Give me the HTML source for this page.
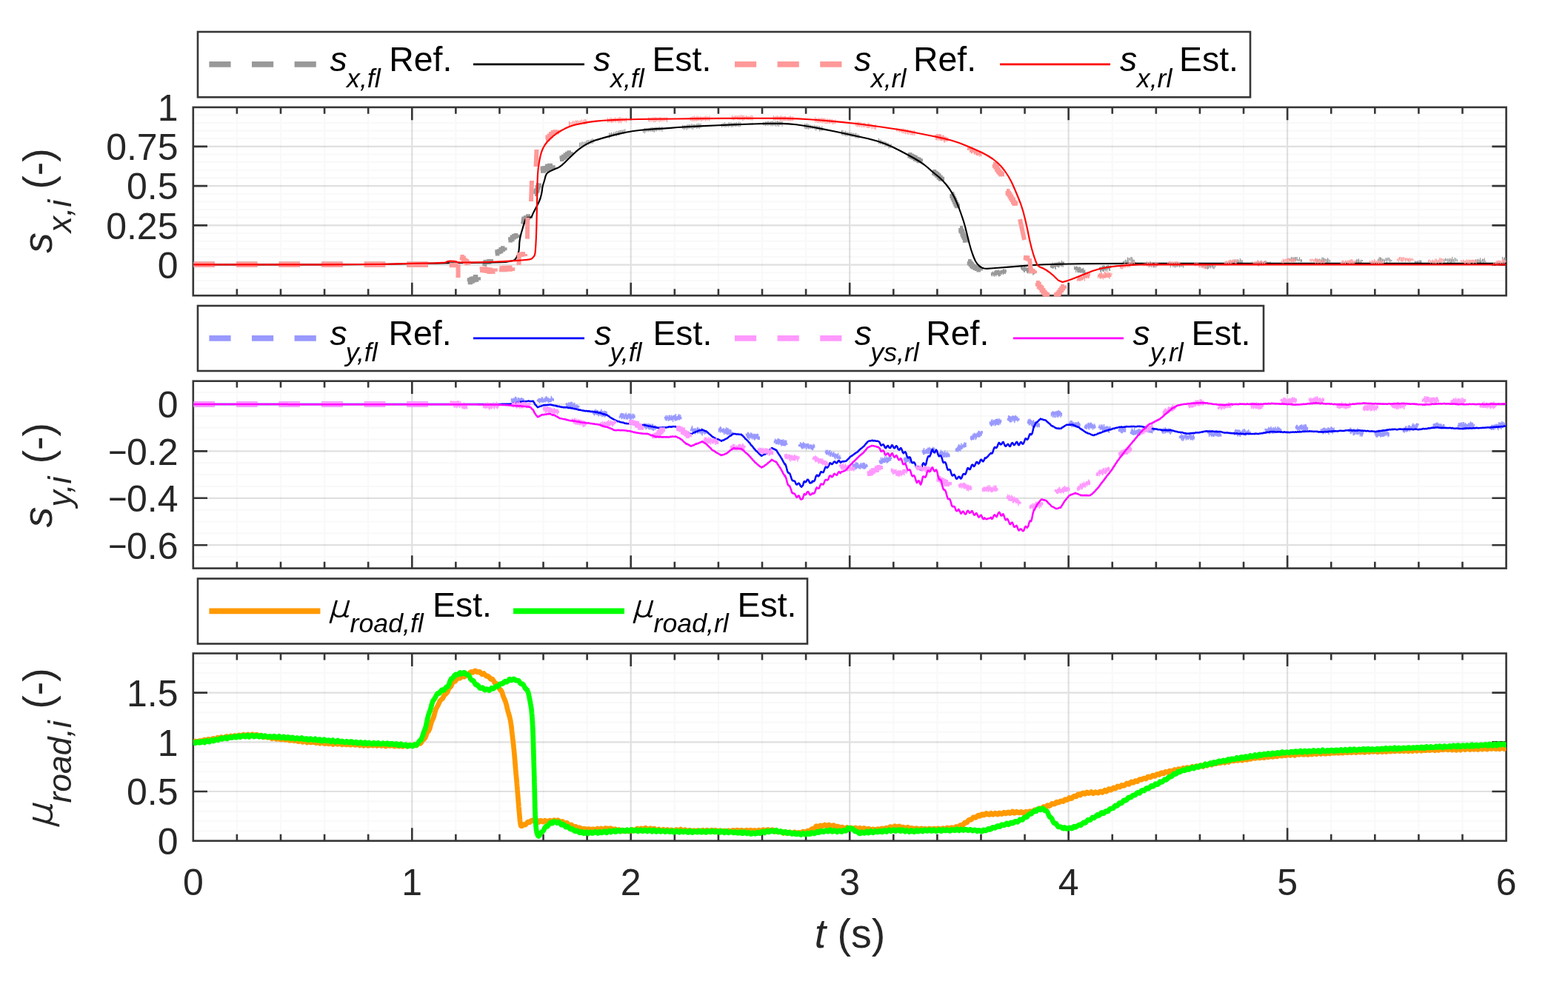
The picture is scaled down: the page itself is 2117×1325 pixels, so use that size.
<!DOCTYPE html>
<html lang="en"><head><meta charset="utf-8"><title>Slip and road friction estimation</title>
<style>html,body{margin:0;padding:0;background:#fff}body{width:2117px;height:1325px;overflow:hidden}svg{display:block}text{font-family:'Liberation Sans', sans-serif}</style>
</head><body>
<svg width="2117" height="1325" viewBox="0 0 2117 1325" role="img" aria-label="Slip and road friction estimation plots">
<rect width="2117" height="1325" fill="#fff"/>
<defs>
<clipPath id="c0"><rect x="260.8" y="144.9" width="1772.8" height="255.8"/></clipPath>
<clipPath id="c1"><rect x="260.8" y="514.7" width="1772.8" height="254.4"/></clipPath>
<clipPath id="c2"><rect x="260.8" y="882.5" width="1772.8" height="254.7"/></clipPath>
</defs>
<path d="M260.8 389.55H2033.6M260.8 378.9H2033.6M260.8 368.25H2033.6M260.8 346.95H2033.6M260.8 336.3H2033.6M260.8 325.65H2033.6M260.8 315H2033.6M260.8 293.7H2033.6M260.8 283.05H2033.6M260.8 272.4H2033.6M260.8 261.75H2033.6M260.8 240.45H2033.6M260.8 229.8H2033.6M260.8 219.15H2033.6M260.8 208.5H2033.6M260.8 187.2H2033.6M260.8 176.55H2033.6M260.8 165.9H2033.6M260.8 155.25H2033.6M319.89 144.9V399.2M378.99 144.9V399.2M438.08 144.9V399.2M497.17 144.9V399.2M615.36 144.9V399.2M674.45 144.9V399.2M733.55 144.9V399.2M792.64 144.9V399.2M910.83 144.9V399.2M969.92 144.9V399.2M1029.01 144.9V399.2M1088.11 144.9V399.2M1206.29 144.9V399.2M1265.39 144.9V399.2M1324.48 144.9V399.2M1383.57 144.9V399.2M1501.76 144.9V399.2M1560.85 144.9V399.2M1619.95 144.9V399.2M1679.04 144.9V399.2M1797.23 144.9V399.2M1856.32 144.9V399.2M1915.41 144.9V399.2M1974.51 144.9V399.2" stroke="#262626" stroke-opacity="0.028" stroke-width="2.2" fill="none"/>
<path d="M260.8 357.6H2033.6M260.8 304.35H2033.6M260.8 251.1H2033.6M260.8 197.85H2033.6M556.27 144.9V399.2M851.73 144.9V399.2M1147.2 144.9V399.2M1442.67 144.9V399.2M1738.13 144.9V399.2" stroke="#262626" stroke-opacity="0.14" stroke-width="2.2" fill="none"/>
<path d="M319.89 144.9v8.9M319.89 399.2v-8.9M378.99 144.9v8.9M378.99 399.2v-8.9M438.08 144.9v8.9M438.08 399.2v-8.9M497.17 144.9v8.9M497.17 399.2v-8.9M556.27 144.9v17.4M556.27 399.2v-17.4M615.36 144.9v8.9M615.36 399.2v-8.9M674.45 144.9v8.9M674.45 399.2v-8.9M733.55 144.9v8.9M733.55 399.2v-8.9M792.64 144.9v8.9M792.64 399.2v-8.9M851.73 144.9v17.4M851.73 399.2v-17.4M910.83 144.9v8.9M910.83 399.2v-8.9M969.92 144.9v8.9M969.92 399.2v-8.9M1029.01 144.9v8.9M1029.01 399.2v-8.9M1088.11 144.9v8.9M1088.11 399.2v-8.9M1147.2 144.9v17.4M1147.2 399.2v-17.4M1206.29 144.9v8.9M1206.29 399.2v-8.9M1265.39 144.9v8.9M1265.39 399.2v-8.9M1324.48 144.9v8.9M1324.48 399.2v-8.9M1383.57 144.9v8.9M1383.57 399.2v-8.9M1442.67 144.9v17.4M1442.67 399.2v-17.4M1501.76 144.9v8.9M1501.76 399.2v-8.9M1560.85 144.9v8.9M1560.85 399.2v-8.9M1619.95 144.9v8.9M1619.95 399.2v-8.9M1679.04 144.9v8.9M1679.04 399.2v-8.9M1738.13 144.9v17.4M1738.13 399.2v-17.4M1797.23 144.9v8.9M1797.23 399.2v-8.9M1856.32 144.9v8.9M1856.32 399.2v-8.9M1915.41 144.9v8.9M1915.41 399.2v-8.9M1974.51 144.9v8.9M1974.51 399.2v-8.9M260.8 357.6h19.2M2033.6 357.6h-19.2M260.8 304.35h19.2M2033.6 304.35h-19.2M260.8 251.1h19.2M2033.6 251.1h-19.2M260.8 197.85h19.2M2033.6 197.85h-19.2" stroke="#363636" stroke-width="2.6" fill="none"/>
<rect x="260.8" y="144.9" width="1772.8" height="254.3" fill="none" stroke="#363636" stroke-width="2.6"/>
<text x="240.5" y="375.9" text-anchor="end" font-size="50.0" fill="#262626">0</text>
<text x="240.5" y="322.65" text-anchor="end" font-size="50.0" fill="#262626">0.25</text>
<text x="240.5" y="269.4" text-anchor="end" font-size="50.0" fill="#262626">0.5</text>
<text x="240.5" y="216.15" text-anchor="end" font-size="50.0" fill="#262626">0.75</text>
<text x="240.5" y="163.2" text-anchor="end" font-size="50.0" fill="#262626">1</text>
<path d="M261.4 357.3 L289.8 357.3 M319 357.3 L347.4 357.3 M376.6 357.3 L405 357.3 M434.2 357.3 L462.6 357.3 M491.8 357.3 L520.2 357.3 M549.4 357.3 L577.8 357.3 M631.7 380.5 L634.42 380.5 L634.42 378.99 L637.14 378.99 L637.14 377.49 L639.86 377.49 L639.86 376.93 L642.58 376.93 L642.58 374.86 L645.3 374.86 L645.3 374.25 M730 230 L733.2 230 L733.2 228.33 L736.4 228.33 L736.4 227.64 L739.6 227.64 L739.6 225.35 L742.8 225.35 L742.8 224.51 L746 224.51 L746 223.19" fill="none" stroke="#999999" stroke-width="7.5" stroke-linejoin="miter" stroke-miterlimit="2" clip-path="url(#c0)"/>
<path d="M654 359.5 L654.5 356.75 L655 354 L657.67 354 L657.67 353.65 L660.33 353.65 L660.33 353.05 L663 353.05 L663 353.51 M668.8 342.5 L671.34 342.5 L671.34 340.21 L673.88 340.21 L673.88 339.13 L676.42 339.13 L676.42 336.98 L678.96 336.98 L678.96 335.37 L681.5 335.37 L681.5 334.19 M686.5 324.4 L689.04 324.4 L689.04 323.22 L691.58 323.22 L691.58 320.59 L694.12 320.59 L694.12 319.09 L696.66 319.09 L696.66 318.02 L699.2 318.02 L699.2 316.83 M706 302.6 L706.5 299 L707 295.4 L710 295.4 L710 294.04 L713 294.04 L713 292.32 L716 292.32 L716 291.67 M722 262 L723.2 262 L723.2 258.57 L724.4 258.57 L724.4 256.9 L725.6 256.9 L725.6 253.31 L726.8 253.31 L726.8 250.3 L728 250.3 L728 247.46 M756 215 L758.5 215 L758.5 213.15 L761 213.15 L761 211.73 L763.5 211.73 L763.5 209.39 L766 209.39 L766 207.72 L768.5 207.72 L768.5 206.26 L771 206.26 L771 205.25 M1226 209 L1228.43 209 L1228.43 210.39 L1230.86 210.39 L1230.86 211.86 L1233.29 211.86 L1233.29 212.87 L1235.71 212.87 L1235.71 214.72 L1238.14 214.72 L1238.14 215.45 L1240.57 215.45 L1240.57 217.24 L1243 217.24 L1243 218.43 M1259 232 L1261.17 232 L1261.17 233.86 L1263.33 233.86 L1263.33 235.36 L1265.5 235.36 L1265.5 237.33 L1267.67 237.33 L1267.67 239.73 L1269.83 239.73 L1269.83 241.63 L1272 241.63 L1272 244.12 M1284 262 L1285.29 262 L1285.29 264.76 L1286.57 264.76 L1286.57 267.78 L1287.86 267.78 L1287.86 270.36 L1289.14 270.36 L1289.14 273.16 L1290.43 273.16 L1290.43 276.1 L1291.71 276.1 L1291.71 278.13 L1293 278.13 L1293 280.76 M1296 308 L1297.14 308 L1297.14 311.39 L1298.29 311.39 L1298.29 312.94 L1299.43 312.94 L1299.43 316.46 L1300.57 316.46 L1300.57 319.06 L1301.71 319.06 L1301.71 320.93 L1302.86 320.93 L1302.86 324.76 L1304 324.76 L1304 327.55 M1307 353 L1308.75 353 L1308.75 355.18 L1310.5 355.18 L1310.5 357.33 L1312.25 357.33 L1312.25 359.44 L1314 359.44 L1314 360.5 L1316.5 360.5 L1316.5 362.03 L1319 362.03 L1319 363.01 L1321.5 363.01 L1321.5 364.47 L1324 364.47 L1324 365.43" fill="none" stroke="#999999" stroke-width="6" stroke-linejoin="miter" stroke-miterlimit="2" clip-path="url(#c0)"/>
<path d="M782.5 192.79v5.68M784.24 192.21v5.76M786.09 191.22v6.5M787.83 191.71v5.98M789.65 191.65v5.26M791.15 190.74v5.65M792.68 189.31v5.87M794.46 189v6.69M796.35 189.26v5.34M798.1 188.05v6.14M799.98 186.96v7.23M801.76 188.02v4.58M822.5 179.56v7.38M824.09 179.85v5.56M825.55 178.74v5.79M827.05 179.66v4.58M828.56 178.51v5.14M830.45 178.31v4.64M832.18 177.08v7.05M834.06 176.99v5.24M835.69 176.29v7.05M837.21 176.07v4.93M838.78 175.6v5.85M840.36 175.69v4.41M841.99 175.04v6.1M843.79 174.23v5.95M868.5 174.65v4.56M870.34 173.12v7.02M871.99 172.84v5.6M873.76 173.13v4.59M875.31 173.16v4.89M876.78 173.04v4.4M878.28 172.2v5.49M880.17 171.79v6.24M881.74 172.29v5.44M883.25 172.15v6.95M884.93 171.45v5.85M886.43 171.73v5.43M888.3 171.53v4.88M890.23 170.95v5.98M891.95 171.99v4.48M893.89 170.75v6.99M921.5 168.81v5.5M923.34 169.16v6M924.95 169.54v5.07M926.9 168.43v6.96M928.76 167.77v6.62M930.47 167.97v5.47M931.93 168.25v5.24M933.73 167.32v7.27M935.65 167.74v7.36M937.28 167.89v5.06M938.83 168.27v5.01M940.73 167v6.92M942.51 166.45v6.8M944.29 166.98v7.13M946.12 166.76v5.83M974.5 166.64v5.4M976.44 166v5.59M978.37 165.16v6.57M979.88 166.84v4.85M981.73 166.69v4.84M983.68 165.28v6.37M985.4 165.6v4.79M987.34 165.36v6.35M989.27 166.03v5.7M991.13 165.55v5.03M992.73 165.85v5.12M994.3 164.98v5.66M996.21 165.4v5.46M997.96 164.46v7.11M999.87 165.13v5.9M1030.5 164.7v4.46M1032.04 165.15v4.41M1033.57 164.36v5.82M1035.3 164.33v5.38M1037.03 163.15v6.75M1038.76 164.16v5.15M1040.6 164.11v5.92M1042.43 163.36v7.14M1044.19 164.06v5.92M1045.99 164.16v5.76M1047.68 163.63v7.22M1049.57 163.1v7.23M1051.3 163.79v7.23M1052.81 164.55v4.76M1054.29 163.93v5.12M1056.08 164.1v6.75M1086.5 167v6.55M1088.02 167.37v7.05M1089.57 166.84v7.26M1091.27 167.59v7.37M1092.8 168.3v5.69M1094.41 168.69v4.99M1096.23 169.54v4.46M1097.9 169.55v4.45M1099.66 168.79v5.94M1101.61 169.78v6.77M1103.11 169.7v5.2M1104.95 170.11v5.21M1106.61 170.25v7.13M1108.19 171.78v4.85M1109.92 170.24v6.5M1136.5 175.79v6.46M1137.98 176.01v7.22M1139.84 177.98v4.65M1141.31 176.67v6.99M1142.93 178.07v6.06M1144.51 178.59v4.79M1146.08 178.54v4.73M1147.55 178.92v5.01M1149.15 178.42v6.68M1150.85 179.75v4.93M1152.31 179.58v5.15M1154.13 179.75v6.05M1155.81 179.47v7.2M1157.68 181.11v5.7M1159.55 181.61v5.58M1186.5 186.85v7.35M1188.37 188.39v6.52M1190.02 188.92v5.44M1191.53 190.79v4.61M1193.11 190.52v4.89M1194.98 190.94v7.01M1196.57 192.09v5.13M1198.25 193.1v4.87M1199.83 193.19v7.29M1201.55 194.97v5.13M1203.16 194.31v5.47M1338.5 367.89v4.58M1339.62 367.43v5.87M1340.54 366.62v4.43M1341.5 368.04v5.08M1342.51 366.21v7.49M1343.57 364.82v6.85M1344.66 365.43v8.04M1345.67 364.42v7.63M1346.74 365.29v5.76M1347.67 364.45v7.95M1348.74 364.55v9.09M1349.7 366.1v6.8M1350.78 365.3v7.44M1351.66 364.98v5.28M1352.73 364.96v6M1353.58 364.37v4.88M1354.64 363.5v7.78M1355.57 362.94v6.98M1356.56 364.75v4.7M1357.47 363.44v6.74M1358.33 364.19v3.88M1378.5 359.69v3.67M1379.41 358.32v6.56M1380.44 360.21v4.92M1381.57 361.12v5.21M1382.58 359.33v8.68M1383.5 358.97v8.73M1384.35 361.26v4.62M1385.34 359.91v5.99M1386.29 361.93v6.05M1387.14 361.14v8.05M1388.03 360.63v8.86M1389.15 361.49v5.93M1390.12 360.66v9.19M1391.07 361.4v6.57M1391.94 363.82v5.07M1392.87 360.61v8.9M1393.8 361.67v6.95M1394.77 362.69v9M1395.86 364.25v6.59M1396.99 365v4.64M1397.86 364.93v3.81M1418.5 357.24v4.2M1419.36 355.48v6.53M1420.36 356.05v5.85M1421.43 354.11v9.09M1422.47 356.22v5.98M1423.44 355.29v5.37M1424.36 354.27v8.77M1425.27 355.38v8.77M1426.26 354.84v5.24M1427.13 353.93v6.17M1428.06 355.17v5.79M1429.17 353.4v8.05M1430.15 353.62v7.01M1431.1 354.22v4.89M1432.24 354.42v5.18M1433.28 351.76v8.57M1434.21 353.46v5.74M1435.19 353.55v7.47M1436.3 353.53v2.8M1450.5 359.61v5.01M1451.53 360.38v3.83M1452.65 359.72v8.4M1453.8 359.54v5.74M1454.69 360.73v7M1455.82 360.61v7.92M1456.9 361.37v6.7M1457.77 360.12v8.2M1458.89 361.04v7.57M1459.78 363.14v5.76M1460.84 362.39v5.12M1461.85 362.51v7.28M1462.76 361.83v7.36M1463.7 364.97v6.72M1464.75 364.16v6.61M1465.67 367.54v3.06M1484.5 360.93v3.46M1485.5 360.33v6.35M1486.43 360.82v7.67M1487.34 360.57v4.76M1488.32 358.53v7.74M1489.41 359v8M1490.32 357.79v9.06M1491.42 359.05v5.66M1492.5 360.6v5.96M1493.49 358.77v5.46M1494.47 359.37v7.66M1495.36 357.92v6.41M1496.51 357.86v5.25M1497.37 359.32v6.41M1498.49 359.28v6.6M1499.62 358.59v3.34M1516.5 352.81v3.47M1518.13 352.11v4.35M1519.6 350.47v3.88M1521.05 351.43v4.61M1522.42 347.49v7.06M1523.9 348.26v6.49M1525.42 348.47v3.4M1526.91 346.89v6.88M1528.4 347.37v6.79M1529.91 350.14v6.45M1531.25 350.75v3.34M1532.99 353.61v2.85M1546.5 355.23v2.51M1548.26 353.98v5.12M1549.91 354.42v4.47M1551.23 355.15v6.22M1552.85 352.71v6.97M1554.27 355.96v5.1M1556.03 354.53v4.75M1557.55 356.02v5.17M1558.95 355.01v6.41M1560.65 354.84v6.29M1562.12 355.24v4.48M1563.8 355.6v3.13M1565.47 355.76v2.33M1578.5 355.14v2.98M1580.27 355.35v6.09M1581.71 354.63v3.54M1583.26 354.38v6.04M1584.69 355.52v4.87M1586.32 355.57v6.19M1587.95 356.97v3.68M1589.4 355.1v5.47M1591.06 355.7v4M1592.49 357.46v3.81M1594.08 356.11v4.51M1595.86 355.84v4.59M1597.55 358.57v3.14M1622.5 358.41v2.8M1624.21 355.06v6.11M1625.66 356.78v3.68M1627.43 357.81v5.53M1628.92 356.24v6.66M1630.36 357.75v6.31M1631.73 357.47v5.58M1633.15 356.92v4.67M1634.56 358.38v4.22M1636.18 357.24v4.01M1637.65 356.85v5.91M1639.11 359.41v4.01M1640.68 358.68v2.46M1658.5 352.84v2.94M1659.86 352.83v3.1M1661.37 351.21v4.33M1663.13 351.69v4.45M1664.61 352.13v4.87M1666.39 350.55v4.66M1668.05 350.33v4.01M1669.79 351.76v4.9M1671.29 349.91v6.73M1672.69 351.79v3.26M1674.3 348.82v6.84M1675.91 350.82v4.68M1677.29 351.45v3.36M1696.5 353.98v2M1698.19 351.13v6.28M1699.57 352.66v6.97M1701.11 354.32v3.41M1702.61 351.88v6.82M1704.31 353.77v3.84M1705.73 353.42v4.82M1707.43 352.36v3.93M1708.94 352.08v5.27M1710.31 353.45v4.19M1712.05 353.47v3.36M1713.72 354.29v3.04M1715.09 353.35v3.54M1740.5 349.08v2.48M1742.09 348.7v4.48M1743.61 346.98v4.95M1745.22 347.43v5.16M1746.89 347.43v6.32M1748.29 347.24v5.09M1749.67 347.33v4.92M1751.19 347.09v5.24M1752.81 349.65v3.53M1754.49 347.21v5.25M1756.04 349.94v4.18M1757.42 350.25v3.84M1776.5 348.53v3.55M1778.27 349.93v4.68M1780.02 350.06v3.86M1781.77 349.34v3.46M1783.44 350.59v3.84M1784.88 347.58v6.46M1786.43 347.64v6.88M1787.87 348.84v5.22M1789.21 349.21v3.93M1790.96 350.11v5.92M1792.36 348.13v6.34M1793.92 349.52v4.97M1795.64 351.25v2.83M1828.5 354.03v2.23M1830.11 352.15v4.78M1831.55 350.31v7.16M1833.04 350.31v6.26M1834.44 349.29v6.17M1836.13 351.55v4.21M1837.91 350.8v5.54M1839.37 350.88v2.11M1860.5 349.75v3.15M1862.06 347.57v5.99M1863.48 347.36v5.81M1864.8 348.12v4.62M1866.28 349.49v4.1M1867.87 349.58v4.02M1869.41 350.43v3.74M1870.84 348.35v3.8M1872.46 348.51v6.69M1873.96 347.83v4.26M1875.58 348.01v5.45M1877.2 350.03v4.13M1878.85 350.96v2.02M1910.5 352.04v3.46M1911.93 352.95v3.43M1913.25 352.36v5.4M1914.63 352.26v4M1916.19 351.87v5.77M1917.59 351.3v4.44M1918.93 351.71v5.94M1948.5 351.44v1.77M1950.16 349.85v4.47M1951.69 348.5v4.1M1953.12 349.43v3.36M1954.78 349.34v5.98M1956.43 349.5v4.26M1957.95 348.38v6.35M1959.39 349.73v5.77M1960.81 346.98v6.72M1962.25 350.01v4.14M1964.01 347.99v6.18M1965.73 348.84v4.08M1967.47 350.37v3.18M1992.5 350.32v4.22M1994.21 350.36v5.99M1995.73 349.62v6.1M1997.19 350.77v4.05M1998.54 348.23v6.84M1999.87 351.72v3.63M2001.35 349.49v3.77M2002.69 349.84v5.97M2004.33 348.61v5.7M2005.92 352.16v2.2M2028.5 347.09v5.55M2030.22 348.23v6.86M2031.59 347.39v4.02M2032.92 348.19v5.3" fill="none" stroke="#999999" stroke-width="1.15" clip-path="url(#c0)"/>
<path d="M261.4 357.3 L321.05 357.3 L440.35 357.3 L512.5 357.03 L537.5 356.47 L562.5 356 L587.5 355.6 L605 355.3 L615 355.1 L635 354.85 L665 354.55 L682.65 353.92 L687.95 352.98 L691.5 352.27 L693.3 351.83 L694.88 350.9 L696.22 349.5 L697.7 347 L699.3 343.4 L700.33 339.78 L700.77 336.12 L701.1 332.05 L701.3 327.55 L701.88 323.03 L702.82 318.47 L703.97 313.95 L705.33 309.45 L706.67 304.92 L708.03 300.38 L709.28 296.98 L710.42 294.73 L712.58 293.7 L715.72 293.9 L717.87 292.55 L719.03 289.65 L720.7 286.15 L722.9 282.05 L725.25 277.5 L727.75 272.5 L729.65 267.5 L730.95 262.5 L731.8 258 L732.2 254 L733.05 250 L734.35 246 L735.5 242 L736.5 238 L737.75 235.1 L739.25 233.3 L742.5 231.3 L747.5 229.1 L751 227.6 L753 226.8 L755.5 225.3 L758.5 223.1 L762.5 219.5 L767.5 214.5 L772.5 209.65 L777.5 204.95 L782.5 200.85 L787.5 197.35 L792.5 194.35 L797.5 191.85 L805 189.1 L815 186.1 L825 183.35 L835 180.85 L845 178.75 L855 177.05 L865 175.75 L875 174.85 L885 174.12 L895 173.58 L905 172.88 L915 172.02 L930 171.1 L950 170.1 L970 169.2 L990 168.4 L1007.5 167.75 L1022.5 167.25 L1035 166.9 L1045 166.7 L1055 166.85 L1065 167.35 L1075 168.3 L1085 169.7 L1097.5 171.8 L1112.5 174.6 L1127 177.5 L1141 180.5 L1156 183.75 L1172 187.25 L1185 190.75 L1195 194.25 L1205 198.5 L1215 203.5 L1225 208.75 L1235 214.25 L1242.5 218.75 L1247.5 222.25 L1252.5 226.25 L1257.5 230.75 L1262.5 235 L1267.5 239 L1272.5 243.75 L1277.5 249.25 L1282 255.25 L1286 261.75 L1289.5 268.5 L1292.5 275.5 L1295 281.75 L1297 287.25 L1299 293 L1301 299 L1303 306 L1305 314 L1307 322 L1309 330 L1311 337 L1313 343 L1315 348.25 L1317 352.75 L1319.5 356.5 L1322.5 359.5 L1325.5 361.5 L1328.5 362.5 L1332.5 362.85 L1337.5 362.55 L1347.5 361.8 L1362.5 360.6 L1377.5 359.4 L1392.5 358.2 L1410 357.3 L1430 356.7 L1457.5 356.25 L1492.5 355.95 L1530 355.8 L1570 355.8 L1700.85 355.8 L1922.55 355.8 L2033.4 355.8" fill="none" stroke="#000000" stroke-width="2.15" stroke-linejoin="round" clip-path="url(#c0)" />
<path d="M261.4 357.3 L289.8 357.3 M319 357.3 L347.4 357.3 M376.6 357.3 L405 357.3 M434.2 357.3 L462.6 357.3 M491.8 357.3 L520.2 357.3 M549.4 357.3 L577.8 357.3 M648 364.2 L651.33 364.2 L651.33 364 L654.67 364 L654.67 364.79 L658 364.79 L658 365.3 L661.33 365.3 L661.33 366.37 L664.67 366.37 L664.67 366.35 L668 366.35 L668 366.75 M674.3 363 L677.74 363 L677.74 363.45 L681.18 363.45 L681.18 362.61 L684.62 362.61 L684.62 362.89 L688.06 362.89 L688.06 362.37 L691.5 362.37 L691.5 361.34" fill="none" stroke="#ff9999" stroke-width="7.5" stroke-linejoin="miter" stroke-miterlimit="2" clip-path="url(#c0)"/>
<path d="M606.8 357.8 L609.75 357.8 L609.75 358.26 L612.7 358.26 L612.7 357.98 L615.65 357.98 L615.65 357.5 L618.6 357.5 L618.6 357.24 L618.6 360.67 L618.6 363.53 L618.6 366.4 L618.6 369.27 L618.6 372.13 L618.6 375 M621.5 347 L623.7 347 L623.7 348.54 L625.9 348.54 L625.9 351.56 L628.1 351.56 L628.1 352.89 L630.3 352.89 L630.3 355.15 L632.5 355.15 L632.5 357.39 M700.5 358 L700.56 355.2 L700.62 352.4 L700.68 349.6 L700.74 346.8 L700.8 344 L703.53 344 L703.53 343.38 L706.27 343.38 L706.27 342.91 L709 342.91 L709 342.88 M712 322.6 L712.03 319.7 L712.06 316.8 L712.09 313.9 L712.12 311 L712.15 308.1 L712.18 305.2 L712.21 302.3 L712.24 299.4 L712.27 296.5 L712.3 293.6 M717 272 L717.11 268.89 L717.22 265.78 L717.33 262.67 L717.44 259.56 L717.56 256.44 L717.67 253.33 L717.78 250.22 L717.89 247.11 L718 244 M723.5 225 L723.62 222.12 L723.75 219.25 L723.88 216.38 L724 213.5 L724.12 210.62 L724.25 207.75 L724.38 204.88 L724.5 202 M737 188 L739.33 188 L739.33 185.45 L741.67 185.45 L741.67 183.62 L744 183.62 L744 181.05 L746.67 181.05 L746.67 178.94 L749.33 178.94 L749.33 178.17 L752 178.17 L752 175.43 M1341 222 L1342.71 222 L1342.71 223.66 L1344.43 223.66 L1344.43 226.07 L1346.14 226.07 L1346.14 229.21 L1347.86 229.21 L1347.86 231.76 L1349.57 231.76 L1349.57 233.68 L1351.29 233.68 L1351.29 235.43 L1353 235.43 L1353 238.13 M1359 258 L1360.5 258 L1360.5 260.86 L1362 260.86 L1362 262.45 L1363.5 262.45 L1363.5 265.25 L1365 265.25 L1365 267.66 L1366.5 267.66 L1366.5 269.97 L1368 269.97 L1368 272.97 L1369.5 272.97 L1369.5 275.04 L1371 275.04 L1371 277.63 M1377 296 L1377.6 298.8 L1378.2 301.6 L1378.8 304.4 L1379.4 307.2 L1380 310 L1380.6 312.8 L1381.2 315.6 L1381.8 318.4 L1382.4 321.2 L1383 324 M1382 348 L1384.67 348 L1384.67 348.17 L1387.33 348.17 L1387.33 349.58 L1390 349.58 L1390 349.32 L1390.4 353.2 L1390.8 356.4 L1391.2 359.6 L1391.6 362.8 L1392 366 L1394.5 366 L1394.5 366.3 L1397 366.3 L1397 365.57 M1399 382 L1400.88 382 L1400.88 383.73 L1402.75 383.73 L1402.75 387.35 L1404.62 387.35 L1404.62 388.73 L1406.5 388.73 L1406.5 392.11 L1408.38 392.11 L1408.38 394.39 L1410.25 394.39 L1410.25 396.79 L1412.12 396.79 L1412.12 398.12 L1414 398.12 L1414 400.93 M1424 401 L1425.86 401 L1425.86 398.15 L1427.71 398.15 L1427.71 397.03 L1429.57 397.03 L1429.57 394.62 L1431.43 394.62 L1431.43 392.04 L1433.29 392.04 L1433.29 389.5 L1435.14 389.5 L1435.14 387.06 L1437 387.06 L1437 385.45" fill="none" stroke="#ff9999" stroke-width="6" stroke-linejoin="miter" stroke-miterlimit="2" clip-path="url(#c0)"/>
<path d="M768.5 163.61v6.86M769.95 165.07v5.01M771.89 164.8v4.41M773.59 163.03v6.79M775.28 164.27v5.44M776.86 162.52v7.23M778.41 162.95v6.5M779.92 162.35v6.31M781.76 162.88v6.49M783.53 162.71v5.47M785.17 161.32v7.07M787.07 162.53v4.48M788.65 161.37v7.1M790.29 160.87v7.05M791.97 161.81v5.99M820.5 159.14v6.34M822.11 160.44v4.87M823.89 158.72v6.63M825.56 159.13v6.72M827.07 159.93v5.79M828.64 159.61v4.97M830.44 158.42v6.93M831.97 159.49v5.14M833.68 159.59v4.88M835.22 158.82v7.33M836.72 158.06v7.29M838.36 158.83v7.35M840.18 158.9v5.7M841.95 159.37v4.72M843.59 159.67v4.5M845.44 158.77v6.48M875.5 158.17v5.79M877.25 158.94v5.61M879.16 158.67v5.69M880.99 158.23v5.66M882.8 158.16v7.04M884.6 158.06v6.96M886.38 158.18v5.76M888.14 158.81v4.69M889.99 158.11v6.54M891.56 158.3v5.67M893.32 158.56v5.63M895.24 158.84v4.95M897.08 158.3v5.57M899.02 158.85v4.51M900.55 158.18v6.75M932.5 158.23v4.7M934.22 157.2v6.55M935.99 157.01v6.89M937.65 156.43v7.24M939.44 157.89v5.58M940.95 156.48v7.35M942.42 157.58v5.22M943.87 157.36v5.66M945.67 157.24v5.46M947.23 157.43v6.62M948.95 158.02v5.06M950.59 157.19v5.04M952.43 156.87v6.83M954.12 156.72v6.09M956.05 157.49v5.46M957.92 156.56v6.85M988.5 155.82v6.04M990.37 156.96v5.46M991.95 156.2v5.53M993.61 156.16v4.96M995.43 156.29v5.24M997.03 156.2v5.84M998.8 155.83v6.38M1000.71 155.15v6.96M1002.58 155.93v7.12M1004.1 155.84v6.89M1005.55 157.44v4.43M1007.33 156.04v5.15M1008.85 156.86v5.1M1010.47 157.12v4.86M1012.32 157.06v4.9M1014.07 155.85v6.74M1015.98 156.02v6.76M1044.5 156.31v6.48M1046.32 157.17v5.72M1048.05 156.7v5.19M1049.57 156.19v5.88M1051.25 157.28v4.83M1052.95 157.18v6.02M1054.4 156.3v6.92M1056.13 157.06v6.4M1057.77 157.62v5.66M1059.25 156.94v6.31M1060.71 157.08v6.23M1062.63 157.91v5.39M1064.33 157.63v5.85M1065.8 157v6.55M1067.41 156.52v6.99M1069.1 157.55v5.98M1070.65 157.32v5.71M1100.5 158.36v6.88M1102.37 159.41v5.61M1103.95 159.96v5.92M1105.73 158.92v6.78M1107.34 160.11v5.3M1109.11 158.88v6.75M1110.92 159.5v7.06M1112.39 159.86v5.3M1113.93 159.79v7.16M1115.71 160.51v6.77M1117.47 160.59v6.25M1119.27 160.84v6.19M1120.82 160.61v6.4M1122.66 161.29v4.7M1124.12 161.29v6.72M1125.9 161.95v5.51M1127.75 161.14v6.09M1155.5 164.52v5.67M1157.16 165.17v6.33M1158.64 164.42v6.1M1160.14 164.91v6.83M1162.06 165.06v5.74M1163.7 166.18v6.18M1165.64 166v5.83M1167.14 165.72v6.33M1168.66 166.63v4.45M1170.46 167.89v4.77M1171.95 165.97v7.01M1173.4 166.54v6.56M1175.22 167.37v4.96M1177.06 167.81v6.54M1178.88 168.74v4.65M1180.68 168.8v5.78M1182.26 168.01v7.29M1210.5 173.05v4.44M1212.36 172.91v4.64M1214.18 173.79v4.9M1215.87 173.68v4.58M1217.61 173.82v5.72M1219.13 173.2v6.79M1220.9 173.85v6.29M1222.54 174.57v6.76M1224.39 174.47v6.1M1225.87 174.63v7.32M1227.73 175.84v5.4M1229.68 175.46v6.89M1231.28 176.71v5.69M1232.92 176.3v6.45M1234.82 176.1v6.82M1262.5 182.31v3.26M1263.53 182.14v6.59M1264.39 181.34v8.27M1265.5 180.77v7.23M1266.6 181.6v8.31M1267.73 181.41v6.2M1268.74 180.96v8.27M1269.82 181.04v8.89M1270.85 182.51v7.72M1271.76 184.48v5.77M1272.85 182.58v6.71M1273.94 182.55v8.15M1274.97 184.24v8.73M1275.97 184.72v6.79M1276.88 184.56v5.48M1277.94 185.75v5.69M1278.91 185.37v4.83M1279.77 186.31v4.59M1306.5 198.9v4.17M1307.4 197.53v5.47M1308.4 197.68v4.49M1309.55 197.35v8.58M1310.57 199.99v5.8M1311.55 198.85v8.95M1312.64 197.99v9.03M1313.5 199.96v5.52M1314.38 201.7v4.83M1315.49 202.3v6.71M1316.61 202.84v4.9M1317.58 204.11v5.15M1318.51 202.69v7.2M1319.65 202.35v7.68M1320.63 205.47v5.33M1321.78 203.46v5.62M1322.71 206.06v5.8M1323.83 204.32v5.89M1324.91 207.5v3.68M1454.5 376.23v3.81M1455.39 374.17v4.27M1456.46 372.56v7.12M1457.57 373.47v5.83M1458.46 374.22v5.85M1459.42 373.18v5.37M1460.36 370.15v8.75M1461.5 373.68v4.86M1462.55 371.83v5.57M1463.49 370.64v5.79M1464.45 370.65v9.16M1465.58 370.43v5.05M1466.7 371.22v4.86M1467.63 366.89v9.1M1468.73 368.25v6.17M1469.58 367.85v8.33M1470.48 370.06v5.2M1471.4 368.18v4.22M1482.5 371.24v4.52M1483.41 369.93v3.71M1484.44 368.84v6.63M1485.35 369.48v7.42M1486.45 368.12v7.28M1487.32 368.22v7.97M1488.38 370.71v4.85M1489.33 368.94v8.47M1490.33 370.85v4.67M1491.32 367.11v8.61M1492.23 367.36v8.43M1493.13 368.92v6.31M1493.98 368.1v6.99M1494.99 369.61v5.16M1496.08 366.76v8.58M1497.14 368.88v6.35M1498.01 368.19v8.61M1499.01 368.26v6.05M1500.02 370.78v3.08M1500.94 368.71v2.52M1512.5 358.89v3.56M1513.86 358.06v4.93M1515.19 358.11v5.6M1516.75 356.14v6.01M1518.47 355.29v6.07M1519.85 356.28v5.17M1521.29 356.21v3.69M1522.67 355.81v5.57M1524.06 355.02v5.49M1525.45 354.42v6.5M1526.95 354.39v4.88M1528.51 354.06v4.78M1530.19 352.25v3.7M1531.67 354.01v2.55M1544.5 355.87v3.77M1546.21 355.52v3.05M1547.97 352.93v6.94M1549.49 353.81v5.73M1551.05 355.1v3.48M1552.6 354.49v3.28M1554.37 354.9v6.31M1555.99 354.7v6.44M1557.71 355.67v3.34M1559.16 353.5v5.91M1560.72 353.84v6.9M1562.16 354.68v4.32M1563.92 355.52v2.03M1576.5 355.19v2.07M1578.26 352.94v5.01M1579.8 352.49v5.34M1581.17 353.64v3.73M1582.68 353.21v4.35M1584.04 354.12v5.39M1585.64 353.62v5.48M1587.05 352.89v6.04M1588.62 353.1v5.65M1590.08 353.25v4.17M1591.64 353.9v4.61M1592.96 355.3v3.14M1612.5 355.54v3.04M1613.95 353.68v6.32M1615.63 354.65v3.83M1617.35 354.36v4.96M1618.85 356.23v4.96M1620.22 357.42v4.1M1621.88 356.35v3.82M1623.36 356.22v5.9M1625.07 355.98v6.48M1626.73 356.99v6.17M1628.27 357.57v5.29M1652.5 355.77v2.04M1653.82 353.29v5.1M1655.37 351.97v7.05M1656.88 352.75v6.33M1658.48 352.23v4.72M1660.01 350.85v6.09M1661.51 351.11v5.42M1662.98 351.47v6.35M1664.53 350.25v4.98M1665.99 351.49v3.78M1667.57 352.12v3.55M1669.04 350.12v6.57M1670.81 350.68v2.77M1690.5 353.02v1.78M1692.08 353.76v4.49M1693.76 353.52v5.35M1695.32 352.81v5.27M1696.81 352.91v4.63M1698.29 351.93v6.99M1699.86 352.9v3.6M1701.36 352.46v5.45M1703.09 351.44v7.06M1704.61 353.34v5.7M1706.09 353.1v5.32M1707.48 354.02v4.26M1709.18 352.46v3.22M1730.5 352.09v3.28M1732.28 349.58v6.12M1733.67 350.57v4.36M1735.22 349.87v3.95M1736.83 349.33v5.61M1738.61 348.38v5.75M1740.12 348.6v6.35M1741.76 350.04v3.22M1743.47 349.62v5.54M1744.88 349.42v5.19M1746.32 348.96v5.79M1748.1 349.15v4.56M1749.47 351.1v2.13M1768.5 350.26v1.95M1770.06 349.69v5.35M1771.75 349.28v3.45M1773.43 350.52v4.49M1774.91 349.82v3.88M1776.27 349.17v6.82M1777.75 349.67v5M1779.1 349.32v6.76M1780.86 350.39v4.96M1782.29 352v3.38M1784.01 351.46v4.46M1785.71 350.84v4.41M1787.47 351.61v4.72M1788.9 351.93v3.09M1810.5 354.66v2.44M1812.04 351.55v5.47M1813.44 351.76v4.63M1815.21 352.71v4.36M1816.58 351.73v5.34M1818.09 351.96v3.46M1819.79 351.6v4.6M1821.19 351.64v4.33M1822.53 351.06v5.86M1823.92 350.31v6.02M1825.36 350.07v6.54M1826.88 351.62v6.55M1828.28 352.79v3.67M1829.77 351.57v3.49M1849.5 351.92v2.9M1851.03 352.97v3.27M1852.47 350.99v6.8M1853.96 352.43v4.19M1855.37 350.09v6.69M1856.93 351.18v5.37M1858.6 352.51v4.74M1860.19 352.1v4.44M1861.54 353.55v3.91M1863.01 350.87v5.85M1864.59 352.5v4.65M1866.04 352.95v2.98M1867.47 354.45v2.08M1886.5 349.71v2.6M1888.18 348.17v5.69M1889.56 346.96v4.31M1891.19 347.07v5.85M1892.7 348.02v5.84M1894.13 346.91v6.59M1895.74 347.78v3.93M1897.48 348.23v6.14M1898.82 348.38v3.36M1900.23 348.48v4.41M1901.57 349.17v4.44M1902.97 348.05v6.56M1904.62 349v4.22M1906.25 348.42v3.53M1907.96 349.54v2.88M1928.5 351.45v3.58M1929.84 350.34v3.28M1931.53 351.81v4.04M1933.19 351.46v3.54M1934.69 350.39v6.19M1936.14 351.92v3.56M1937.65 349.56v6.92M1939.32 349.53v6.52M1940.84 351.18v3.42M1942.36 350.75v5.25M1943.74 348.07v6.25M1945.38 348.43v6.42M1946.95 348.93v7.08M1948.52 349.5v3.02M1972.5 350.98v2.62M1973.96 352.03v3.02M1975.59 350.39v4.15M1977.15 351.67v4.98M1978.63 351.88v4.4M1980.01 350.06v5.45M1981.71 351.15v5.39M1983.11 350.56v5.87M1984.64 350.95v6.26M1986.01 350.8v4.36M1987.42 351.1v3.44M1988.83 350.25v6.01M1990.2 351.09v4.5M1991.69 350.73v3.37M1993.01 351.82v4.52M2016.5 355.35v3.43M2018.08 353.93v3.37M2019.6 353.5v3.96M2020.92 352.06v6.88M2022.53 351.77v6.94M2023.96 351.67v4.18M2025.29 352.06v6.3M2026.75 352.51v3.94M2028.46 349.6v6.91M2030.14 350.88v6.52M2031.61 352.39v3.39M2033.08 351.95v2.45" fill="none" stroke="#ff9999" stroke-width="1.15" clip-path="url(#c0)"/>
<path d="M261.4 357.3 L321.05 357.3 L440.35 357.3 L512.5 356.98 L537.5 356.32 L562.5 355.8 L587.5 355.4 L601.35 354.52 L604.05 353.18 L607.9 352.6 L612.9 352.8 L616.05 353.3 L617.35 354.1 L622.5 354.5 L631.5 354.5 L642.85 354.32 L656.55 353.98 L670.2 353.48 L683.8 352.82 L695.12 352.15 L704.18 351.45 L710.73 350.88 L714.77 350.42 L717.5 349.62 L718.9 348.47 L720.28 347 L721.62 345.2 L722.52 341.8 L722.98 336.8 L723.43 329.78 L723.88 320.72 L724.33 307.15 L724.77 289.05 L725.15 270 L725.45 250 L725.95 236 L726.65 228 L727.75 220 L729.25 212 L731 205.5 L733 200.5 L735.5 196 L738.5 192 L742.5 187.75 L747.5 183.25 L752.5 179.5 L757.5 176.5 L762.5 173.85 L767.5 171.55 L772.5 169.7 L777.5 168.3 L785 166.7 L795 164.9 L805 163.6 L815 162.8 L827.5 162.1 L842.5 161.5 L862.5 161.05 L887.5 160.75 L915 160.45 L945 160.15 L977.5 159.9 L1012.5 159.7 L1040 159.7 L1060 159.9 L1077.5 160.4 L1092.5 161.2 L1112 162.7 L1136 164.9 L1156 167 L1172 169 L1190 171.5 L1210 174.5 L1227.5 177.5 L1242.5 180.5 L1255 183 L1265 185 L1275 187.25 L1285 189.75 L1295 193 L1305 197 L1315 201.25 L1325 205.75 L1333.5 210.25 L1340.5 214.75 L1346.5 219.5 L1351.5 224.5 L1356.5 230.75 L1361.5 238.25 L1366 246.5 L1370 255.5 L1374 265 L1378 275 L1381.5 286 L1384.5 298 L1387 309 L1389 319 L1391 328 L1393 336 L1395.25 343.75 L1397.75 351.25 L1399.75 356.25 L1401.25 358.75 L1404 360.75 L1408 362.25 L1412.5 364.75 L1417.5 368.25 L1423 372.9 L1429 378.7 L1434.5 380.95 L1439.5 379.65 L1446.5 377.25 L1455.5 373.75 L1465 370 L1475 366 L1485 363 L1495 361 L1507.5 359.4 L1522.5 358.2 L1540 357.53 L1560 357.38 L1685.85 357.35 L1917.55 357.45 L2033.4 357.5" fill="none" stroke="#ff0000" stroke-width="2.15" stroke-linejoin="round" clip-path="url(#c0)" />
<path d="M260.8 752.05H2033.6M260.8 720.35H2033.6M260.8 704.5H2033.6M260.8 688.65H2033.6M260.8 656.95H2033.6M260.8 641.1H2033.6M260.8 625.25H2033.6M260.8 593.55H2033.6M260.8 577.7H2033.6M260.8 561.85H2033.6M260.8 530.15H2033.6M319.89 514.7V767.6M378.99 514.7V767.6M438.08 514.7V767.6M497.17 514.7V767.6M615.36 514.7V767.6M674.45 514.7V767.6M733.55 514.7V767.6M792.64 514.7V767.6M910.83 514.7V767.6M969.92 514.7V767.6M1029.01 514.7V767.6M1088.11 514.7V767.6M1206.29 514.7V767.6M1265.39 514.7V767.6M1324.48 514.7V767.6M1383.57 514.7V767.6M1501.76 514.7V767.6M1560.85 514.7V767.6M1619.95 514.7V767.6M1679.04 514.7V767.6M1797.23 514.7V767.6M1856.32 514.7V767.6M1915.41 514.7V767.6M1974.51 514.7V767.6" stroke="#262626" stroke-opacity="0.028" stroke-width="2.2" fill="none"/>
<path d="M260.8 546H2033.6M260.8 609.4H2033.6M260.8 672.8H2033.6M260.8 736.2H2033.6M556.27 514.7V767.6M851.73 514.7V767.6M1147.2 514.7V767.6M1442.67 514.7V767.6M1738.13 514.7V767.6" stroke="#262626" stroke-opacity="0.14" stroke-width="2.2" fill="none"/>
<path d="M319.89 514.7v8.9M319.89 767.6v-8.9M378.99 514.7v8.9M378.99 767.6v-8.9M438.08 514.7v8.9M438.08 767.6v-8.9M497.17 514.7v8.9M497.17 767.6v-8.9M556.27 514.7v17.4M556.27 767.6v-17.4M615.36 514.7v8.9M615.36 767.6v-8.9M674.45 514.7v8.9M674.45 767.6v-8.9M733.55 514.7v8.9M733.55 767.6v-8.9M792.64 514.7v8.9M792.64 767.6v-8.9M851.73 514.7v17.4M851.73 767.6v-17.4M910.83 514.7v8.9M910.83 767.6v-8.9M969.92 514.7v8.9M969.92 767.6v-8.9M1029.01 514.7v8.9M1029.01 767.6v-8.9M1088.11 514.7v8.9M1088.11 767.6v-8.9M1147.2 514.7v17.4M1147.2 767.6v-17.4M1206.29 514.7v8.9M1206.29 767.6v-8.9M1265.39 514.7v8.9M1265.39 767.6v-8.9M1324.48 514.7v8.9M1324.48 767.6v-8.9M1383.57 514.7v8.9M1383.57 767.6v-8.9M1442.67 514.7v17.4M1442.67 767.6v-17.4M1501.76 514.7v8.9M1501.76 767.6v-8.9M1560.85 514.7v8.9M1560.85 767.6v-8.9M1619.95 514.7v8.9M1619.95 767.6v-8.9M1679.04 514.7v8.9M1679.04 767.6v-8.9M1738.13 514.7v17.4M1738.13 767.6v-17.4M1797.23 514.7v8.9M1797.23 767.6v-8.9M1856.32 514.7v8.9M1856.32 767.6v-8.9M1915.41 514.7v8.9M1915.41 767.6v-8.9M1974.51 514.7v8.9M1974.51 767.6v-8.9M260.8 546h19.2M2033.6 546h-19.2M260.8 609.4h19.2M2033.6 609.4h-19.2M260.8 672.8h19.2M2033.6 672.8h-19.2M260.8 736.2h19.2M2033.6 736.2h-19.2" stroke="#363636" stroke-width="2.6" fill="none"/>
<rect x="260.8" y="514.7" width="1772.8" height="252.9" fill="none" stroke="#363636" stroke-width="2.6"/>
<text x="240.5" y="564.3" text-anchor="end" font-size="50.0" fill="#262626">0</text>
<text x="240.5" y="627.7" text-anchor="end" font-size="50.0" fill="#262626">0.2</text>
<text transform="translate(171.3 627.7) scale(0.87 1)" text-anchor="end" font-size="50.0" fill="#262626">−</text>
<text x="240.5" y="691.1" text-anchor="end" font-size="50.0" fill="#262626">0.4</text>
<text transform="translate(171.3 691.1) scale(0.87 1)" text-anchor="end" font-size="50.0" fill="#262626">−</text>
<text x="240.5" y="754.5" text-anchor="end" font-size="50.0" fill="#262626">0.6</text>
<text transform="translate(171.3 754.5) scale(0.87 1)" text-anchor="end" font-size="50.0" fill="#262626">−</text>
<path d="M261.4 546 L289.8 546 M319 546 L347.4 546 M376.6 546 L405 546 M434.2 546 L462.6 546 M491.8 546 L520.2 546 M549.4 546 L577.8 546" fill="none" stroke="#9999ff" stroke-width="7.5" stroke-linejoin="miter" stroke-miterlimit="2" clip-path="url(#c1)"/>
<path d="M690.5 537.96v4.73M691.36 538.62v5.43M692.46 538.15v7.82M693.59 537.56v6.87M694.49 538.22v5.98M695.36 536.24v7.76M696.35 535.4v9.06M697.21 536.89v6.62M698.27 539.58v4.61M699.38 536.7v8.22M700.32 537.22v7.64M701.29 537.76v6.16M702.34 537.85v8.4M703.24 537.87v5.96M704.26 537.11v6.2M705.14 537.85v6.09M706.28 538.29v7.31M707.42 538.7v5.22M725.5 539.63v2.62M726.53 538.48v4.28M727.67 537.65v6.23M728.61 538.25v6.18M729.47 538.04v5.47M730.45 538.18v4.99M731.41 536.37v7.27M732.42 536.31v7.2M733.31 538.44v5.43M734.32 538.48v5.12M735.25 537.62v5.04M736.17 536.73v6.85M737.09 535.35v7.23M738.09 535.19v7.31M739.07 537.26v4.94M740.18 536.83v7.13M741.25 538.51v5.13M742.32 538.07v5.07M743.29 538.21v5.39M744.31 534.63v8.16M745.39 536.73v4.4M746.35 538.1v3.44M747.26 538.34v3.46M764.5 543.99v4.87M765.61 544.54v5.81M766.72 544.56v5.37M767.68 543.23v8.11M768.77 544.15v5.16M769.84 543.39v8.96M770.71 542.76v7.38M771.72 542.56v8.29M772.85 543.48v7.71M773.76 545.72v6.66M774.78 544.59v5.12M775.66 543.63v8.28M776.68 546.34v5.93M777.65 547.38v5.26M778.66 546.17v7.77M779.79 546.91v4.39M780.69 548.12v5.12M781.78 547.93v2.38M800.5 554.65v4.25M801.49 556.05v3.99M802.46 553.48v8.12M803.33 553.54v6.11M804.45 552.6v7.31M805.35 554.32v6.26M806.38 554.07v6.38M807.23 553.66v7.26M808.08 555.72v6.71M808.95 555.7v5.27M809.88 555.06v5.86M810.81 554.55v7.22M811.94 552.4v9.16M812.96 555.19v8.15M814.05 555v7.51M815 556.32v5.9M816.12 554.62v8.92M817.06 555.27v8.11M818.06 555.27v6.3M819.08 555.71v4.11M836.5 561.62v3.32M837.49 559.06v4.62M838.41 558.29v5.65M839.27 557.65v8.61M840.25 557.98v7.22M841.15 559.15v4.91M842.09 558.31v7.94M843.23 560.18v6.17M844.25 558.88v4.97M845.27 557.28v9.14M846.36 559.92v6.57M847.23 559.89v6.83M848.16 558.16v5.78M849.06 559.93v5.83M849.97 558.33v6.44M851.01 558.45v8.57M851.91 559.6v7.98M852.94 560.73v4.96M854.06 558.4v6.17M854.96 560.47v5.92M856.01 558.9v5.66M856.95 561.04v3.69M868.5 572.49v4.33M869.37 571.59v4.9M870.41 572.36v6.04M871.43 572.59v5.78M872.29 571.45v8.86M873.43 573.77v4.86M874.5 571.97v6.11M875.4 574.3v5.26M876.28 572.01v8.34M877.29 573.04v7.31M878.33 572.6v7.37M879.41 574.56v5.79M880.49 572.5v8.17M881.57 572.59v9.1M882.5 575.06v7.01M883.39 575.18v4.64M884.44 574.13v6.51M885.58 577.07v3.06M897.5 562.76v2.54M898.37 562.71v4.75M899.27 560.78v7.54M900.17 562.77v5.42M901.29 560.92v5.35M902.38 563.16v5.72M903.38 560.55v7.53M904.47 560.86v6.72M905.59 562.69v5.1M906.46 560.55v7.57M907.57 562.27v4.88M908.54 561.24v8.83M909.58 560.99v5.63M910.51 560.42v6.6M911.42 560.7v8.09M912.36 559.01v9.17M913.38 562.57v5.32M914.49 561.98v5.83M915.59 560.8v5.9M916.58 558.92v8.7M917.64 560.82v6.33M918.66 560.35v5.92M919.78 563.21v3.06M932.5 579.57v2.94M933.65 576.83v4.48M934.53 575.05v8.27M935.66 578.63v5.29M936.53 578.61v5.38M937.41 578.99v6.16M938.48 578.1v8.66M939.34 579.25v5.68M940.39 579.15v4.77M941.31 577.38v6.58M942.17 576.79v9.16M943.28 579.44v5.15M944.17 578.09v6.57M945.23 580.38v5.28M946.23 579.65v5.12M947.23 577.96v8.83M948.14 579.41v9.05M949.21 579.36v5.86M950.14 579.65v4.92M951.14 580.49v6.28M952.1 582.3v3.7M953.15 581.82v4.3M970.5 578.57v5.06M971.57 577.43v5.02M972.54 575.91v8.94M973.51 576.75v6.49M974.66 579.19v4.62M975.78 578.92v5.77M976.75 578.14v5.71M977.63 578.51v8.48M978.75 580.39v4.83M979.7 578.89v7.57M980.65 576.97v9.07M981.72 578.85v8.53M982.75 578.08v9.18M983.79 579.3v8.02M984.85 580.77v6.41M985.88 579.86v7.72M986.92 580.59v6.3M987.96 583.84v3.9M988.95 583.22v3.65M1007.5 585.59v3.12M1008.63 585.53v5.58M1009.64 583.57v8.34M1010.54 584.27v8.38M1011.58 585.54v8.41M1012.69 586.19v4.8M1013.79 583.91v8.36M1014.69 585.3v5.76M1015.64 585.27v8.29M1016.63 586.75v5M1017.78 585.67v7.8M1018.77 586.4v8.27M1019.67 585.79v7.73M1020.67 586.98v5.69M1021.63 585.88v6.35M1022.54 585.69v7.22M1023.44 586.1v7.82M1024.39 589.36v4.51M1025.26 589.54v4.55M1045.5 595.01v3.67M1046.54 592.57v4.99M1047.52 593.83v6.29M1048.46 593.72v6.48M1049.55 593.35v6.22M1050.57 591.7v8.85M1051.71 592.85v7.87M1052.76 593.12v6.12M1053.84 594.37v6.35M1054.84 593.94v8.75M1055.7 594.02v7.33M1056.69 593.5v8.46M1057.68 593.61v8.7M1058.68 595.65v6.95M1059.73 594.2v8.01M1060.59 594.93v7.62M1061.67 594.75v6.07M1062.59 598.41v2.68M1078.5 600.37v2.71M1079.52 599.92v3.52M1080.58 597.06v6.27M1081.64 598.45v6.52M1082.79 598.44v8.36M1083.68 598.75v6.14M1084.53 596.73v9.15M1085.46 598.36v6.04M1086.57 598.62v7.16M1087.55 599.38v4.84M1088.66 599.24v8.29M1089.58 598.65v5.53M1090.6 599.46v6.32M1091.59 598.86v7.29M1092.68 601.33v5.52M1093.7 600.24v4.84M1094.71 600.21v6.48M1095.66 601.25v5.86M1096.59 600.39v7.87M1097.62 601.85v5.9M1098.6 599.62v6.08M1099.59 600.79v3.96M1114.5 609.1v2.69M1115.4 607.52v6.34M1116.49 608.21v6.38M1117.55 607.62v5.96M1118.65 610.22v5.27M1119.56 608.53v5.06M1120.65 607.82v8.97M1121.69 611.09v5.78M1122.75 609.52v5.31M1123.81 612.21v4.79M1124.75 611.47v5.67M1125.69 609.96v7.18M1126.82 612.72v6.09M1127.71 612.33v8.28M1128.68 612.9v4.75M1129.72 613.29v5.63M1130.6 613.55v6.74M1131.58 611.83v7.72M1132.68 615.91v4.61M1133.82 614.61v6.01M1134.76 617.02v3.07M1151.5 626.1v4.88M1152.5 626.64v6.42M1153.51 626.28v4.76M1154.44 626.14v8.71M1155.36 623.96v8.85M1156.39 624.67v9.05M1157.52 624.62v7.62M1158.47 625.61v6.67M1159.54 627.64v5.42M1160.48 627.29v4.92M1161.36 626.78v7.14M1162.39 625.03v6.72M1163.39 627.46v5.05M1164.28 625.59v7.26M1165.25 624.9v7.65M1166.15 624.7v8.93M1167.25 625.24v8.62M1168.14 628.07v5.03M1169.03 626.79v5.81M1169.91 626.47v4.5M1170.92 627.64v3.22M1187.5 621.25v3.67M1188.39 622.34v4.43M1189.39 617.69v8.7M1190.52 620.3v6.85M1191.54 618.08v7.77M1192.62 619.08v5.31M1193.48 618.94v6.41M1194.41 616.39v8.7M1195.44 618.93v5.68M1196.52 616.13v7.87M1197.45 618.5v7.36M1198.31 617.45v7.44M1199.4 618.07v6.17M1200.39 614.37v8.84M1201.52 616.24v6.5M1202.4 617.71v4.73M1203.45 617.22v3.06M1220.5 618.48v3.58M1221.45 617.75v9.09M1222.54 617.59v6.81M1223.62 617.27v8.78M1224.66 618.57v5.52M1225.77 615.83v8.22M1226.83 617.02v6.21M1227.97 617.79v7.69M1228.86 618.33v7.62M1229.98 620.03v3.67M1245.5 607.67v4.15M1246.6 607.29v6.78M1247.54 605.12v9.02M1248.67 608v5.13M1249.76 607.16v5.76M1250.68 606.13v5.51M1251.6 606.46v6.87M1252.65 604.43v7.87M1253.74 604.81v8.25M1254.87 603.81v8.4M1255.75 605.18v7.6M1256.7 605.14v7.34M1257.79 605.4v4.62M1258.64 605.85v5.11M1259.62 603.62v7.38M1260.57 604.68v4.39M1261.67 604.55v3.93M1268.5 610.9v3.47M1269.48 609.78v6.67M1270.37 607.44v7.74M1271.47 609.43v5.45M1272.6 609.14v6.27M1273.72 610.55v7.41M1274.69 611.17v6.9M1275.69 608.27v9.15M1276.79 611.28v5.35M1277.64 612.52v5.41M1278.63 609.47v8.32M1279.58 612.09v5.06M1280.69 611.53v5.74M1281.82 613.21v4.37M1290.5 605.41v4.36M1291.64 604.77v5.55M1292.68 603.47v6.33M1293.73 601.62v8.77M1294.69 599.8v9.09M1295.79 601.19v7.74M1296.77 601.38v8.05M1297.84 598.58v8.05M1298.79 601.87v5.23M1299.91 600.31v5.26M1300.93 599.48v4.81M1302 597.25v7.55M1303.08 598.28v5.71M1304.06 597.7v6.38M1310.5 589.27v4.38M1311.64 588.44v6.57M1312.57 588.31v5.34M1313.67 585.75v8.25M1314.56 587.35v6.97M1315.46 584.58v8M1316.4 586.04v4.85M1317.37 585.21v9.05M1318.28 586.25v6.02M1319.18 584.48v6.08M1320.07 584.09v5.8M1321.03 581.69v9.03M1321.94 581.86v8.78M1323.04 582.82v7.53M1323.99 583.44v5.3M1324.98 582.08v6.63M1326.06 582.12v3.94M1336.5 569.33v4.05M1337.54 570v4.84M1338.4 567.52v8.4M1339.36 566.3v8.92M1340.28 568.86v4.92M1341.36 566.91v7.72M1342.45 567.73v5.11M1343.49 566.42v9.05M1344.55 566.04v8.16M1345.68 565.77v8.02M1346.65 565.46v8.31M1347.56 565.61v8.61M1348.56 566.85v7.68M1349.45 565.27v6.16M1350.43 567.3v5.83M1351.48 566.74v4.22M1360.5 564.73v3.37M1361.59 561.06v7.16M1362.64 561.55v8.07M1363.76 561.88v8.73M1364.85 562.84v7.58M1365.74 562.29v7.84M1366.78 561.65v5.87M1367.81 560.96v8.39M1368.72 561.9v5.63M1369.77 562.05v9.08M1370.73 560.81v7.82M1371.83 561.53v6.1M1372.87 562.7v5.24M1373.74 562.75v6.65M1374.83 565.04v3.55M1375.72 564.86v2.93M1387.5 568.56v3.48M1388.42 566.35v6.46M1389.52 566.53v8.32M1390.38 565.48v8.18M1391.38 566.62v6.55M1392.42 567.53v7.93M1393.39 568.26v6.96M1394.3 568.71v8.59M1395.4 567.02v9.02M1396.54 569.72v4.93M1397.43 569.59v6.69M1398.49 568.95v6.69M1399.4 569.13v6.45M1400.31 569.18v7.99M1401.29 571.14v5.51M1402.2 571.19v5.09M1403.26 571.64v5.66M1419.5 557v5.15M1420.57 556.11v4.24M1421.42 555.29v8.57M1422.46 555.72v5.81M1423.36 556.52v7.51M1424.3 555.75v4.8M1425.26 555.42v8.74M1426.24 555.44v5.07M1427.14 554.84v8.18M1428.29 555.37v8.79M1429.28 553.84v8.38M1430.16 555.42v7.19M1431.07 554.88v5.76M1432.2 556.5v7.32M1433.34 557.54v4.14M1443.5 570.52v4.86M1444.39 569.53v3.82M1445.42 567.87v6.34M1446.51 568.27v8.22M1447.38 568.33v8.69M1448.25 569.98v6.09M1449.36 569.8v6.83M1450.28 571.17v5.72M1451.24 570.8v5.08M1452.13 570.34v5.52M1453.15 570.13v7.53M1454.14 571.61v4.91M1455 569.96v6.77M1456.05 569.25v7.64M1457.1 571.12v5.37M1457.99 572.27v3.97M1464.5 575.2v3.32M1465.42 573.7v5.3M1466.52 572.47v7.52M1467.38 574.32v5.03M1468.47 572.04v4.78M1469.39 570.43v8.88M1470.44 571.52v8.88M1471.57 571.79v5.81M1472.42 570.53v8.08M1473.56 570.85v7.87M1474.66 572.96v5.35M1475.54 572.5v8.22M1476.66 574.21v4.61M1477.68 572.25v6.72M1478.72 574.45v3.86M1483.5 575.83v2.75M1484.44 573.44v5.06M1485.51 575.94v4.71M1486.6 573.3v6.71M1487.65 574.86v5.55M1488.53 573.55v9.09M1489.49 576.23v5.03M1490.59 573.05v8.5M1491.55 576.2v5.99M1492.45 576.22v7.39M1493.53 575.44v4.63M1494.41 575.38v7.79M1495.42 575.6v6.7M1496.45 576.66v7.58M1497.52 576.5v8.26M1498.62 575.48v6.11M1499.68 577.52v4.48M1510.5 579.39v3.53M1511.48 575.43v7.85M1512.42 576.44v6.2M1513.3 577.93v6.64M1514.35 576.24v8.89M1515.45 576.07v9.17M1516.38 576.9v5.75M1517.24 578.17v5.66M1518.36 577.65v6.11M1519.45 577.85v5.84M1526.5 582.98v2.92M1527.44 580.22v6.07M1528.46 578.2v9.04M1529.46 579.9v7.59M1530.6 581.44v6.47M1531.65 578.01v9.05M1532.57 581.7v5.92M1533.42 581.26v5.8M1534.57 580.73v5.41M1535.62 580.35v7.78M1536.7 580.1v5.74M1537.56 578.95v7.78M1538.49 579.45v9.04M1539.51 580.05v7.62M1540.57 580.05v4.84M1541.44 581.86v2.75M1548.5 579.32v3.33M1549.64 576.53v7.76M1550.72 577.25v5.42M1551.66 578.25v6.48M1552.65 575.97v7.95M1553.78 578.78v6.17M1554.64 576.08v8.41M1555.74 577.3v8.29M1556.67 577.92v4.55M1557.8 580v2.83M1568.5 578.94v4.46M1569.39 581.18v4.15M1570.36 578.38v7.6M1571.27 578.29v4.9M1572.38 580.6v5.2M1573.34 577.1v7.92M1574.43 578.77v5.76M1575.43 578.79v5.11M1576.52 578.73v5.91M1577.6 578.39v5.63M1578.52 578.47v6.37M1579.56 579.58v6.77M1580.42 579.05v7.65M1581.35 579.73v4.22M1582.23 580.35v4.4M1592.5 588.95v2.8M1593.4 588.21v4.06M1594.29 587.86v4.35M1595.28 586.09v8.91M1596.15 588.22v5.62M1597.17 587.3v8.6M1598.28 589v5.11M1599.28 586.69v5.7M1600.39 586.53v5.58M1601.32 585.87v8.85M1602.39 587.81v4.94M1603.34 588.05v5.54M1604.3 589.08v5.15M1605.29 586.41v5.43M1606.34 585.68v6.97M1607.33 586.49v8.01M1608.25 587.23v6.9M1609.29 588.56v5.27M1610.43 587.57v7.53M1611.39 586.26v6.63M1612.3 589.3v4.28M1630.5 582.29v3.11M1631.48 582.36v4M1632.56 582.81v7.2M1633.53 580.24v7.72M1634.66 582.59v5.67M1635.66 581.09v8.96M1636.81 581.25v7.46M1637.91 584.37v5.53M1638.9 584.32v5.64M1639.85 582.39v6.47M1640.9 583.47v4.71M1641.8 580.74v8.41M1642.83 583.34v5.79M1643.85 581.58v7.87M1644.77 585.17v5.15M1645.66 584.09v5.23M1646.69 581.54v8.13M1647.61 585.08v3.99M1648.59 586.23v3.47M1666.5 583.27v4.63M1667.43 580.99v6.34M1668.3 579.55v7.64M1669.15 580.89v5.93M1670.29 579.89v8.6M1671.3 580.95v8.5M1672.35 579.92v6.96M1673.27 580.81v7.63M1674.36 581.24v8.73M1675.27 582.96v4.95M1676.29 582.18v5.44M1677.22 581.21v5.69M1678.22 579.43v7.72M1679.29 580.59v7.47M1680.35 578.99v8.28M1681.34 581.08v7.72M1682.38 582.88v5.43M1683.47 581.38v5.67M1684.61 581.39v5.55M1685.74 579.95v7.52M1686.82 582.74v4.16M1687.9 582.46v2.43M1708.2 578.63v3.13M1709.09 578.95v4.48M1709.96 579.47v6.15M1710.99 578.81v6.24M1711.97 578.65v5.41M1712.82 576.66v7.71M1713.78 577.58v9.03M1714.89 577.97v7.55M1715.95 576.09v9.05M1717.03 577.77v5.98M1718.12 578.63v7.37M1719.24 576.96v7.31M1720.09 578.46v7.06M1721.02 577.65v4.92M1721.92 576.21v7.8M1722.84 579.04v5.82M1723.99 578.05v4.69M1725.12 575.96v9.06M1726.07 577.43v7M1727.05 577.37v6.8M1727.91 578.23v4.59M1728.79 579.05v5.72M1729.72 579.51v4.98M1749.5 575.24v3.9M1750.63 573.84v5.98M1751.52 573.81v7.79M1752.59 575.94v5.66M1753.68 575.71v5.03M1754.59 574.86v7.86M1755.68 574.11v5.66M1756.72 573.46v7.2M1757.63 573.34v7.28M1758.67 574.52v5.71M1759.65 575.06v7.05M1760.51 573.31v7.93M1761.45 574.73v7.54M1762.48 572.86v8.75M1763.42 573.55v7.65M1764.32 576.32v4.77M1765.42 576.88v4.63M1783.5 579.25v3.35M1784.57 579.79v3.79M1785.44 579.11v4.65M1786.34 577.94v8.89M1787.33 577.66v5.51M1788.33 577.54v7M1789.39 578.6v7.03M1790.28 578.65v4.92M1791.27 578.96v5.76M1792.19 578.31v6.06M1793.25 576.99v8.14M1794.24 578.09v8.87M1795.27 578.74v5.08M1796.31 577.26v5.88M1797.46 576.04v8.78M1798.45 577.16v7.45M1799.32 578.08v8.05M1800.3 579.11v4.04M1801.18 577.42v5.63M1821.2 578.89v4.46M1822.08 579.55v3.56M1823.09 577.61v7.77M1823.99 578.23v8.12M1824.95 579.38v5.17M1826.09 579.6v5.14M1827.16 579.65v8.7M1828.15 578.87v9M1829.09 580.43v6.74M1830.16 580v5.2M1831.29 581.83v5.09M1832.25 580.2v5.74M1833.24 578.36v9.16M1834.34 580.13v6.08M1835.42 580.28v6.17M1836.39 581.07v8.38M1837.42 582.83v4.65M1838.45 581.63v8.33M1839.4 582.33v6.52M1840.32 582.74v3.66M1856.1 582.95v3.47M1857.02 582.27v6.4M1858.06 582.32v8.09M1858.98 582.08v8.83M1860.13 582.39v7.95M1861.22 583.22v5.76M1862.19 580.52v8.46M1863.2 583.46v6.15M1864.15 582.36v8.48M1865.27 584.22v5.24M1866.34 582.24v7.71M1867.2 581.52v8.6M1868.19 583.36v6.16M1869.28 580.66v8.6M1870.23 581.79v5.75M1871.18 584.11v4.72M1872.09 582.11v4.93M1873.17 582.84v5.51M1874.14 583.5v6.76M1875.08 584.36v4.73M1894.5 579.07v4.76M1895.44 577.63v6.25M1896.33 577.89v6.52M1897.33 576.35v6.83M1898.44 575.06v7.66M1899.4 577.41v6.27M1900.46 577.52v5.17M1901.32 574.93v7.32M1902.39 574.1v6.57M1903.4 574.7v8.37M1904.35 575.67v5.62M1905.44 575.71v5.61M1906.59 573.56v6.59M1907.65 571.62v8.88M1908.59 574.1v6.11M1909.5 572.72v7.12M1910.55 574.51v5.26M1911.7 572.78v7.18M1912.61 571.48v7.96M1913.68 571.63v6.02M1914.81 572.07v2.7M1935.2 572.38v5.07M1936.34 572.11v6.1M1937.35 571.89v5.26M1938.45 571.33v6.55M1939.37 571.33v5.87M1940.38 570.18v6.75M1941.23 572.22v6.16M1942.3 571.41v5.69M1943.31 572.6v5.41M1944.43 572.66v5.53M1945.5 571.88v8.05M1946.56 573.46v5.85M1947.69 574.4v4.84M1948.67 572.7v3.99M1949.76 573.05v3.96M1968.5 573.87v4.05M1969.45 571.08v5.71M1970.36 572.07v4.6M1971.4 570.72v5.99M1972.31 571.31v4.99M1973.26 570.32v6.92M1974.25 572.52v6.62M1975.25 570.05v8.95M1976.16 570.01v7.32M1977.06 572.65v4.94M1978.2 570.99v6.46M1979.17 571.99v6.22M1980.14 572.9v5.3M1981.16 573.19v4.63M1982.23 571.82v6.23M1983.36 571.2v6.45M1984.3 571.45v7.15M1985.37 569.19v8.97M1986.33 571.1v8.52M1987.35 570.33v7.72M1988.49 571.19v6.32M1989.39 573.76v3.74M1990.48 572.87v2.55M2011.5 575.68v3.74M2012.62 575.43v4.66M2013.75 573.78v7.25M2014.7 574.37v6.38M2015.78 573.83v5.8M2016.75 574.82v6.27M2017.76 573.31v5.87M2018.86 574.29v5.34M2019.71 572.41v5.49M2020.81 572.74v5.28M2021.67 573.62v5.81M2022.74 572.48v8.79M2023.75 570.02v8.84M2024.88 571.19v6.6M2025.96 570.51v8.55M2026.83 571.26v8.62M2027.86 568.96v9.09M2028.73 570.71v5.17M2029.79 569.75v7.15M2030.69 572.3v4.27M2031.74 570.91v5.35" fill="none" stroke="#9999ff" stroke-width="1.5" clip-path="url(#c1)"/>
<path d="M261.4 546 L262.4 546 L263.4 546 L264.4 546 L265.4 546 L266.4 546 L267.39 546 L268.39 546 L269.39 546 L270.39 546 L271.39 546 L272.39 546 L273.39 546 L274.39 546 L275.39 546 L276.39 546 L277.38 546 L278.38 546 L279.38 546 L280.38 546 L281.38 546 L282.38 546 L283.38 546 L284.38 546 L285.38 546 L286.38 546 L287.37 546 L288.37 546 L289.37 546 L290.37 546 L291.37 546 L292.37 546 L293.37 546 L294.37 546 L295.37 546 L296.37 546 L297.36 546 L298.36 546 L299.36 546 L300.36 546 L301.36 546 L302.36 546 L303.36 546 L304.36 546 L305.36 546 L306.36 546 L307.36 546 L308.35 546 L309.35 546 L310.35 546 L311.35 546 L312.35 546 L313.35 546 L314.35 546 L315.35 546 L316.35 546 L317.35 546 L318.34 546 L319.34 546 L320.34 546 L321.34 546 L322.34 546 L323.34 546 L324.34 546 L325.34 546 L326.34 546 L327.34 546 L328.33 546 L329.33 546 L330.33 546 L331.33 546 L332.33 546 L333.33 546 L334.33 546 L335.33 546 L336.33 546 L337.33 546 L338.32 546 L339.32 546 L340.32 546 L341.32 546 L342.32 546 L343.32 546 L344.32 546 L345.32 546 L346.32 546 L347.32 546 L348.31 546 L349.31 546 L350.31 546 L351.31 546 L352.31 546 L353.31 546 L354.31 546 L355.31 546 L356.31 546 L357.31 546 L358.31 546 L359.3 546 L360.3 546 L361.3 546 L362.3 546 L363.3 546 L364.3 546 L365.3 546 L366.3 546 L367.3 546 L368.3 546 L369.29 546 L370.29 546 L371.29 546 L372.29 546 L373.29 546 L374.29 546 L375.29 546 L376.29 546 L377.29 546 L378.29 546 L379.28 546 L380.28 546 L381.28 546 L382.28 546 L383.28 546 L384.28 546 L385.28 546 L386.28 546 L387.28 546 L388.28 546 L389.27 546 L390.27 546 L391.27 546 L392.27 546 L393.27 546 L394.27 546 L395.27 546 L396.27 546 L397.27 546 L398.27 546 L399.27 546 L400.26 546 L401.26 546 L402.26 546 L403.26 546 L404.26 546 L405.26 546 L406.26 546 L407.26 546 L408.26 546 L409.26 546 L410.25 546 L411.25 546 L412.25 546 L413.25 546 L414.25 546 L415.25 546 L416.25 546 L417.25 546 L418.25 546 L419.25 546 L420.24 546 L421.24 546 L422.24 546 L423.24 546 L424.24 546 L425.24 546 L426.24 546 L427.24 546 L428.24 546 L429.24 546 L430.23 546 L431.23 546 L432.23 546 L433.23 546 L434.23 546 L435.23 546 L436.23 546 L437.23 546 L438.23 546 L439.23 546 L440.22 546 L441.22 546 L442.22 546 L443.22 546 L444.22 546 L445.22 546 L446.22 546 L447.22 546 L448.22 546 L449.22 546 L450.22 546 L451.21 546 L452.21 546 L453.21 546 L454.21 546 L455.21 546 L456.21 546 L457.21 546 L458.21 546 L459.21 546 L460.21 546 L461.2 546 L462.2 546 L463.2 546 L464.2 546 L465.2 546 L466.2 546 L467.2 546 L468.2 546 L469.2 546 L470.2 546 L471.19 546 L472.19 546 L473.19 546 L474.19 546 L475.19 546 L476.19 546 L477.19 546 L478.19 546 L479.19 546 L480.19 546 L481.18 546 L482.18 546 L483.18 546 L484.18 546 L485.18 546 L486.18 546 L487.18 546 L488.18 546 L489.18 546 L490.18 546 L491.18 546 L492.17 546 L493.17 546 L494.17 546 L495.17 546 L496.17 546 L497.17 546 L498.17 546 L499.17 546 L500.17 546 L501.17 546 L502.16 546 L503.16 546 L504.16 546 L505.16 546 L506.16 546 L507.16 546 L508.16 546 L509.16 546 L510.16 546 L511.16 546 L512.15 546 L513.15 546 L514.15 546 L515.15 546 L516.15 546 L517.15 546 L518.15 546 L519.15 546 L520.15 546 L521.15 546 L522.14 546 L523.14 546 L524.14 546 L525.14 546 L526.14 546 L527.14 546 L528.14 546 L529.14 546 L530.14 546 L531.14 546 L532.13 546 L533.13 546 L534.13 546 L535.13 546 L536.13 546 L537.13 546 L538.13 546 L539.13 546 L540.13 546 L541.13 546 L542.13 546 L543.12 546 L544.12 546 L545.12 546 L546.12 546 L547.12 546 L548.12 546 L549.12 546 L550.12 546 L551.12 546 L552.12 546 L553.11 546 L554.11 546 L555.11 546 L556.11 546 L557.11 546 L558.11 546 L559.11 546 L560.11 546 L561.11 546 L562.11 546 L563.1 546 L564.1 546 L565.1 546 L566.1 546 L567.1 546 L568.1 546 L569.1 546 L570.1 546 L571.1 546 L572.1 546 L573.09 546 L574.09 546 L575.09 546 L576.09 546 L577.09 546 L578.09 546 L579.09 546 L580.09 546 L581.09 546 L582.09 546 L583.09 546 L584.08 546 L585.08 546 L586.08 546 L587.08 546 L588.08 546 L589.08 546 L590.08 546 L591.08 546 L592.08 546 L593.08 546 L594.07 546 L595.07 546 L596.07 546 L597.07 546 L598.07 546 L599.07 546 L600.07 546 L601.07 546 L602.07 546 L603.07 546 L604.06 546 L605.06 546 L606.06 546 L607.06 546 L608.06 546 L609.06 546 L610.06 546 L611.06 546 L612.06 546 L613.06 546 L614.05 546 L615.05 546 L616.05 546 L617.05 546 L618.05 546 L619.05 546 L620.05 546 L621.05 546 L622.05 546 L623.05 546 L624.04 546 L625.04 546 L626.04 546 L627.04 546 L628.04 546 L629.04 546 L630.04 546 L631.04 546 L632.04 546 L633.04 546 L634.04 546 L635.03 546 L636.03 546 L637.03 546 L638.03 546 L639.03 546 L640.03 546 L641.03 546 L642.03 546 L643.03 546 L644.03 546 L645.02 546 L646.02 546 L647.02 546 L648.02 546 L649.02 546 L650.02 546 L651.02 546 L652.02 546 L653.02 546 L654.02 546 L655.01 546 L656.01 546 L657.01 546 L658.01 546 L659.01 546 L660.01 546 L661.01 546 L662.01 546 L663.01 546 L664.01 546 L665 546 L666 546 L667 546 L668 546 L669 546 L670 546 L671 545.98 L672 545.96 L673 545.94 L674 545.92 L675 545.9 L676 545.88 L677 545.86 L678 545.84 L679 545.82 L680 545.8 L681 545.78 L682 545.76 L683 545.74 L684 545.72 L685 545.7 L686 545.68 L687 545.66 L688 545.64 L689 545.62 L690 545.6 L691 545.34 L692 545.09 L693 544.78 L694 544.55 L695 544.85 L696 544.65 L697 544.23 L698 543.64 L699 543.43 L700 543.19 L701 543.11 L702 543.17 L703 542.57 L704 542.79 L705 542.78 L706 542.21 L707 542.37 L708 542.5 L709 542.24 L710 542.03 L711 542.22 L712 541.9 L713 541.6 L714 541.53 L715 541.98 L716 541.98 L717 542.09 L718 541.91 L719 541.68 L720 541.77 L720.5 542.75 L721 543.8 L721.5 544.15 L722 545.54 L722.5 546.37 L723 547.01 L723.75 547.4 L724.5 548.71 L725.25 549.19 L726 550.12 L727 549.65 L728 549.36 L729 548.74 L730 548.72 L731 548.32 L732 547.9 L733 547.56 L734 547.23 L735 547.15 L736 546.96 L737 547.28 L738 547.08 L739 546.96 L740 546.86 L741 546.86 L742 546.53 L743 546.47 L744 546.98 L745 546.83 L746 547.28 L747 547.16 L748 547.85 L749 547.79 L750 547.84 L751 548.5 L752 548.11 L753 548.9 L754 548.98 L755 548.75 L756 549.38 L757 549.45 L758 549.89 L759 549.86 L760 549.95 L761 550.4 L762 549.91 L763 550.49 L764 550.12 L765 550.34 L766 550.33 L767 550.96 L768 550.76 L769 551.06 L770 550.83 L771 551.36 L772 551.5 L773 551.32 L774 551.8 L775 552.16 L776 552 L777 552.51 L778 552.44 L779 552.71 L780 553.29 L781 553.51 L782 553.75 L783 553.55 L784 553.85 L785 554.22 L786 554.38 L787 554.37 L788 554.85 L789 554.73 L790 555.32 L791 555.08 L792 554.93 L793 555.47 L794 555.15 L795 555.63 L796 555.29 L797 556.04 L798 555.83 L799 556.07 L800 555.74 L801 556.26 L802 556.23 L803 556.3 L804 556.86 L805 556.47 L806 556.94 L807 556.83 L808 557.53 L809 557.72 L810 557.27 L810.91 557.88 L811.82 558.2 L812.73 558.68 L813.64 559 L814.55 559.04 L815.45 559.76 L816.36 559.54 L817.27 559.82 L818.18 560.6 L819.09 560.42 L820 560.78 L820.86 561.57 L821.71 562.03 L822.57 562.48 L823.43 563.59 L824.29 563.84 L825.14 564.63 L826 564.83 L826.89 565.73 L827.78 565.69 L828.67 566.62 L829.56 566.86 L830.44 567.55 L831.33 567.86 L832.22 568.2 L833.11 568.58 L834 569.25 L835 569.21 L836 569.22 L837 570.04 L838 570.21 L839 570.38 L840 570.67 L841 570.56 L842 570.97 L843 571.48 L844 571.82 L845 572.05 L846 571.76 L847 572.24 L848 572.27 L849 572.28 L850 572.22 L851 572.32 L852 572.66 L853 572.8 L854 572.75 L855 572.94 L856 573.18 L857 573.44 L858 573.43 L859 573.25 L860 573.87 L861 573.59 L862 574.08 L863 574.18 L864 573.67 L865 574.06 L866 574.41 L867 574.08 L868 574.27 L869 574.19 L870 574.07 L871 574.35 L872 574.46 L873 574.73 L874 575.13 L875 575.24 L876 575.67 L877 575.65 L878 575.58 L879 576.15 L880 576.09 L881 576.23 L882 576.65 L883 576.72 L884 576.7 L885 577.07 L886 577.06 L887 577.73 L888 577.42 L889 578.13 L890 577.7 L891 577.56 L892 577.84 L893 577.49 L894 577.61 L895 577.23 L896 577.64 L897 577.42 L898 577.33 L899 577.4 L900 577.34 L901 577.04 L902 576.98 L903 576.4 L904 576.35 L905 576.53 L906 576.83 L907 576.29 L908 576.38 L909 575.91 L910 576.11 L911 576.37 L912 576.06 L912.89 576.56 L913.78 576.33 L914.67 576.79 L915.56 577.11 L916.44 577.9 L917.33 577.72 L918.22 578.64 L919.11 578.5 L920 579.27 L920.8 579.55 L921.6 579.96 L922.4 580.95 L923.2 581.09 L924 581.84 L924.8 581.94 L925.6 583.01 L926.4 583.66 L927.2 583.59 L928 584.57 L929 584.56 L930 584.79 L931 585.26 L932 585.79 L933 586.32 L933.88 585.97 L934.75 585.6 L935.62 584.96 L936.5 584.61 L937.38 583.89 L938.25 583.91 L939.12 583.41 L940 582.9 L941 582.96 L942 582.18 L943 581.77 L944 581.46 L945 581.13 L946 581.11 L947 580.94 L948 580.16 L948.86 580.77 L949.71 581.19 L950.57 581.56 L951.43 581.82 L952.29 582.29 L953.14 582.29 L954 582.69 L954.73 583.58 L955.45 584.09 L956.18 585.09 L956.91 585.36 L957.64 586.41 L958.36 586.64 L959.09 587.17 L959.82 588.08 L960.55 588.65 L961.27 589.25 L962 590.19 L962.92 590.24 L963.85 590.98 L964.77 591.53 L965.69 591.69 L966.62 592.16 L967.54 592.88 L968.46 593.09 L969.38 593.22 L970.31 593.58 L971.23 594.02 L972.15 594.62 L973.08 594.88 L974 595.7 L974.86 595.18 L975.71 594.72 L976.57 594.49 L977.43 594.42 L978.29 593.56 L979.14 593.13 L980 592.86 L980.83 592.29 L981.67 592.12 L982.5 591.39 L983.33 590.62 L984.17 589.85 L985 589.18 L985.83 588.65 L986.67 588.58 L987.5 587.85 L988.33 586.93 L989.17 586.67 L990 585.69 L991 586.1 L992 586.07 L993 585.99 L994 586.53 L995 586.61 L996 586.55 L997 586.4 L998 586.85 L999 586.77 L1000 587.02 L1001 586.71 L1001.69 587.97 L1002.38 588.04 L1003.08 588.88 L1003.77 589.7 L1004.46 590.25 L1005.15 590.87 L1005.85 591.98 L1006.54 592.88 L1007.23 593.12 L1007.92 593.76 L1008.62 594.73 L1009.31 595.11 L1010 595.93 L1010.62 596.88 L1011.25 597.45 L1011.88 598.01 L1012.5 598.7 L1013.12 599.78 L1013.75 600.84 L1014.38 601.54 L1015 601.72 L1015.62 602.75 L1016.25 603.49 L1016.88 604.04 L1017.5 605.12 L1018.12 605.75 L1018.75 606.72 L1019.38 607.1 L1020 608.3 L1020.73 608.91 L1021.45 609.36 L1022.18 609.82 L1022.91 610.75 L1023.64 611.19 L1024.36 612.28 L1025.09 612.97 L1025.82 613.58 L1026.55 614.55 L1027.27 614.59 L1028 615.75 L1028.86 615.44 L1029.71 614.59 L1030.57 614.36 L1031.43 613.8 L1032.29 613.8 L1033.14 613.53 L1034 612.89 L1034.73 612.41 L1035.45 611.45 L1036.18 610.97 L1036.91 609.93 L1037.64 609.7 L1038.36 608.59 L1039.09 607.56 L1039.82 606.9 L1040.55 606.61 L1041.27 605.98 L1042 605.1 L1042.86 605.19 L1043.71 606.12 L1044.57 606.44 L1045.43 606.44 L1046.29 607.06 L1047.14 607.69 L1048 607.65 L1048.55 608.5 L1049.09 609.53 L1049.64 610.72 L1050.18 611.62 L1050.73 611.96 L1051.27 613.2 L1051.82 613.93 L1052.36 614.8 L1052.91 615.43 L1053.45 616.51 L1054 617.1 L1054.46 618.16 L1054.92 618.74 L1055.38 619.33 L1055.85 620.4 L1056.31 621.22 L1056.77 621.96 L1057.23 622.83 L1057.69 623.78 L1058.15 624.68 L1058.62 625.27 L1059.08 626.15 L1059.54 627.16 L1060 626.53 L1060.43 627.18 L1060.86 628.39 L1061.29 629.41 L1061.71 631.24 L1062.14 632.74 L1062.57 634.72 L1063 636.11 L1063.43 637.32 L1063.86 637.95 L1064.29 638.27 L1064.71 639.01 L1065.14 638.9 L1065.57 639.03 L1066 639.38 L1066.5 640.06 L1067 641.34 L1067.5 642.87 L1068 644.32 L1068.5 646.18 L1069 647.27 L1069.5 648.5 L1070 649.04 L1070.5 649.21 L1071 649.23 L1071.5 649.49 L1072 649.69 L1072.86 649.64 L1073.71 651.17 L1074.57 653.44 L1075.43 654.52 L1076.29 654.42 L1077.14 653.41 L1078 652.66 L1078.86 652.69 L1079.71 654.05 L1080.57 656.15 L1081.43 657.08 L1082.29 657.62 L1083.14 656.34 L1084 655.65 L1084.29 654.67 L1084.57 653.52 L1084.86 652.23 L1085.14 651.56 L1085.43 650.77 L1085.71 650.71 L1086 650.17 L1087 651.3 L1088 651.05 L1089 649.34 L1090 647.85 L1091 647.84 L1092 649.28 L1092.67 651 L1093.33 652.26 L1094 652.43 L1094.67 652.19 L1095.33 651.62 L1096 651.86 L1096.55 650.26 L1097.09 649.74 L1097.64 649.76 L1098.18 650.34 L1098.73 650.33 L1099.27 649.63 L1099.82 649.13 L1100.36 647.78 L1100.91 645.75 L1101.45 643.82 L1102 642.72 L1102.8 641.7 L1103.6 641.84 L1104.4 643.17 L1105.2 643.17 L1106 642.4 L1106.8 640.82 L1107.6 638.63 L1108.4 637.17 L1109.2 637.26 L1110 637.92 L1110.67 637.97 L1111.33 638.03 L1112 637.32 L1112.67 635.35 L1113.33 633.66 L1114 631.95 L1114.67 630.66 L1115.33 630.35 L1116 631.12 L1116.75 631.65 L1117.5 631.31 L1118.25 630.12 L1119 628.75 L1119.75 626.96 L1120.5 625.36 L1121.25 625.48 L1122 626.05 L1123 627.1 L1124 626.65 L1125 625.13 L1126 623.63 L1127 623.35 L1128 624.51 L1129 625.46 L1130 625.27 L1131 623.78 L1132 622.3 L1133 622.18 L1134 623.95 L1135 624.79 L1136 623.84 L1137 623.23 L1138 623.58 L1139 623.07 L1140 623.23 L1141 623 L1142 622.68 L1142.75 622.46 L1143.5 621.72 L1144.25 620.59 L1145 620.19 L1145.75 619.24 L1146.5 618.84 L1147.25 617.44 L1148 616.92 L1148.83 616.23 L1149.67 615.92 L1150.5 615.44 L1151.33 614.91 L1152.17 614.12 L1153 613.42 L1153.83 613.13 L1154.67 612.06 L1155.5 611.58 L1156.33 611.34 L1157.17 610.54 L1158 610.35 L1158.73 609.08 L1159.45 608.7 L1160.18 607.89 L1160.91 607.11 L1161.64 606.53 L1162.36 605.9 L1163.09 605.45 L1163.82 604.86 L1164.55 604.28 L1165.27 603.49 L1166 603.14 L1166.67 602.23 L1167.33 601.78 L1168 600.44 L1168.67 599.9 L1169.33 599.11 L1170 598.24 L1170.67 597.81 L1171.33 596.57 L1172 596.26 L1173 595.73 L1174 595.55 L1175 595.58 L1176 595.38 L1177 595.02 L1178 594.71 L1179 595.44 L1180 595.16 L1181 595.11 L1182 595.61 L1183 595.65 L1184 595.63 L1185 595.75 L1186 596.24 L1186.75 596.64 L1187.5 597.44 L1188.25 599.11 L1189 600.72 L1189.75 601.71 L1190.5 601.31 L1191.25 600.82 L1192 600.3 L1193 600.48 L1194 602.6 L1195 604.63 L1196 605.35 L1197 603.64 L1198 602.41 L1199 601.93 L1200 603.83 L1201 604.99 L1202 604.96 L1203 603.49 L1204 601.31 L1205 601.47 L1206 603.33 L1207 605.3 L1208 605.27 L1209 603.6 L1210 602.28 L1210.86 602.61 L1211.71 604.07 L1212.57 606.57 L1213.43 607.55 L1214.29 607.65 L1215.14 606.03 L1216 605.19 L1216.75 605.47 L1217.5 607.24 L1218.25 609.16 L1219 611.31 L1219.75 612.24 L1220.5 611.54 L1221.25 610.7 L1222 610.31 L1222.67 610.74 L1223.33 612.29 L1224 614.53 L1224.67 616.51 L1225.33 617.76 L1226 618.45 L1226.67 618.39 L1227.33 617.55 L1228 617.36 L1228.67 617.61 L1229.33 619.17 L1230 621.66 L1230.67 623.69 L1231.33 625.06 L1232 625.21 L1232.67 625.24 L1233.33 624.18 L1234 624.49 L1234.67 624.93 L1235.33 626.14 L1236 627.84 L1236.67 630.26 L1237.33 631.18 L1238 632.05 L1238.67 631.4 L1239.33 630.28 L1240 630.45 L1240.67 630.56 L1241.33 632.21 L1242 634.13 L1242.57 634.35 L1243.14 634.49 L1243.71 633.27 L1244.29 632.28 L1244.86 629.91 L1245.43 627.61 L1246 626.07 L1247 625.38 L1248 626.7 L1249 628.41 L1250 627.55 L1250.36 626.15 L1250.73 624.63 L1251.09 622.92 L1251.45 621.7 L1251.82 620.15 L1252.18 618.82 L1252.55 617.88 L1252.91 616.78 L1253.27 616.58 L1253.64 615.98 L1254 616.3 L1254.56 616.59 L1255.11 616.54 L1255.67 615.54 L1256.22 614.13 L1256.78 612.89 L1257.33 610.65 L1257.89 608.95 L1258.44 607.93 L1259 606.93 L1260 609.26 L1261 611.03 L1262 611.38 L1263 609.45 L1264 607.57 L1264.6 608.57 L1265.2 609.37 L1265.8 611.55 L1266.4 613.65 L1267 614.94 L1267.6 616.27 L1268.2 616.27 L1268.8 615.76 L1269.4 615.21 L1270 615.5 L1270.55 615.63 L1271.09 616.93 L1271.64 618.67 L1272.18 620.34 L1272.73 622.72 L1273.27 624.12 L1273.82 624.97 L1274.36 624.74 L1274.91 624.36 L1275.45 624.11 L1276 624.34 L1276.5 624.84 L1277 625.78 L1277.5 627.47 L1278 629.09 L1278.5 631.51 L1279 632.8 L1279.5 633.94 L1280 634.69 L1280.5 634.34 L1281 634.49 L1281.5 634.01 L1282 634.4 L1282.67 634.43 L1283.33 636.05 L1284 638.43 L1284.67 640.45 L1285.33 641.87 L1286 642.54 L1286.67 641.97 L1287.33 641.46 L1288 640.83 L1288.86 641.68 L1289.71 643.07 L1290.57 645.7 L1291.43 646.84 L1292.29 646.64 L1293.14 645.35 L1294 643.92 L1294.86 643.81 L1295.71 644.38 L1296.57 646.15 L1297.43 646.58 L1298.29 645.41 L1299.14 643.34 L1300 641.14 L1300.6 640.23 L1301.2 640.16 L1301.8 639.95 L1302.4 640.37 L1303 640.76 L1303.6 640.3 L1304.2 638.71 L1304.8 636.84 L1305.4 635.2 L1306 633.1 L1306.75 632.1 L1307.5 632.48 L1308.25 633.72 L1309 634.1 L1309.75 633.89 L1310.5 632.33 L1311.25 630.04 L1312 628.18 L1312.89 627.75 L1313.78 628.07 L1314.67 629.98 L1315.56 629.66 L1316.44 628.05 L1317.33 626.14 L1318.22 624.15 L1319.11 623.9 L1320 624.8 L1320.91 626.45 L1321.82 625.94 L1322.73 624.39 L1323.64 621.69 L1324.55 620.68 L1325.45 621.24 L1326.36 622.51 L1327.27 623.39 L1328.18 622.19 L1329.09 620.36 L1330 618.32 L1330.71 619.04 L1331.43 618.61 L1332.14 618.02 L1332.86 616.86 L1333.57 616.67 L1334.29 615.97 L1335 614.69 L1335.71 614.11 L1336.43 613.28 L1337.14 612.68 L1337.86 611.85 L1338.57 612.6 L1339.29 612.59 L1340 611.68 L1340.6 610.03 L1341.2 607.87 L1341.8 606.24 L1342.4 604.87 L1343 603.91 L1343.6 604.15 L1344.2 604.49 L1344.8 605.04 L1345.4 604.61 L1346 603.96 L1346.86 601.94 L1347.71 599.78 L1348.57 597.99 L1349.43 598.21 L1350.29 599.94 L1351.14 600.46 L1352 600.12 L1352.89 598.61 L1353.78 597.23 L1354.67 596.97 L1355.56 599.15 L1356.44 601.17 L1357.33 602.69 L1358.22 602.59 L1359.11 601.5 L1360 600.41 L1361 599.86 L1362 601.17 L1363 602.85 L1364 602.89 L1365 600.44 L1366 598.49 L1367 598.12 L1368 599.57 L1369 601.17 L1370 600.64 L1371 599.04 L1372 597.44 L1373 596.89 L1374 598.91 L1375 601.09 L1376 601.15 L1377 598.66 L1378 597.27 L1379 597.27 L1380 599.24 L1380.75 599.71 L1381.5 599.34 L1382.25 598.1 L1383 596.15 L1383.75 593.92 L1384.5 592.19 L1385.25 592.36 L1386 593.11 L1386.75 593.85 L1387.5 593.27 L1388.25 592.19 L1389 589.88 L1389.75 587.83 L1390.5 586.29 L1391.25 586 L1392 587.12 L1392.38 586.72 L1392.75 586.81 L1393.12 585.99 L1393.5 585.38 L1393.88 584.47 L1394.25 582.59 L1394.62 581.4 L1395 579.2 L1395.38 578.06 L1395.75 575.81 L1396.12 576.84 L1396.5 575.66 L1396.88 574.59 L1397.25 573.8 L1397.62 572.94 L1398 571.94 L1398.78 571.02 L1399.56 570.59 L1400.33 569.73 L1401.11 569.48 L1401.89 568.36 L1402.67 567.69 L1403.44 566.83 L1404.22 566.64 L1405 565.48 L1406 566.05 L1407 566.52 L1408 566.55 L1409 567.15 L1410 567.16 L1411 567.38 L1412 567.68 L1412.73 568.6 L1413.45 569.53 L1414.18 569.7 L1414.91 570.5 L1415.64 571.37 L1416.36 571.66 L1417.09 572.21 L1417.82 573.1 L1418.55 573.68 L1419.27 574.67 L1420 575.28 L1420.86 575.3 L1421.71 576.01 L1422.57 576.4 L1423.43 576.62 L1424.29 577.39 L1425.14 578.21 L1426 578.26 L1427 578.56 L1428 578.75 L1429 578.39 L1430 579.1 L1431 578.63 L1432 578.86 L1432.89 578.6 L1433.78 577.55 L1434.67 577.25 L1435.56 576.52 L1436.44 576.2 L1437.33 575.33 L1438.22 574.87 L1439.11 574.36 L1440 573.71 L1441 573.66 L1442 573.69 L1443 573.86 L1444 573.55 L1445 573.97 L1446 573.64 L1447 573.48 L1448 573.42 L1448.89 574.22 L1449.78 574.04 L1450.67 574.9 L1451.56 574.83 L1452.44 575.8 L1453.33 575.8 L1454.22 576.31 L1455.11 576.88 L1456 576.72 L1456.83 577.28 L1457.67 578.3 L1458.5 578.81 L1459.33 579.49 L1460.17 579.76 L1461 580.5 L1461.83 580.86 L1462.67 581.62 L1463.5 582.1 L1464.33 582.89 L1465.17 583.28 L1466 583.84 L1466.91 584.46 L1467.82 584.44 L1468.73 585.3 L1469.64 585.45 L1470.55 585.63 L1471.45 585.91 L1472.36 586.55 L1473.27 586.91 L1474.18 587.43 L1475.09 587.55 L1476 587.94 L1476.89 587.94 L1477.78 587.18 L1478.67 587.34 L1479.56 586.94 L1480.44 586.68 L1481.33 586.31 L1482.22 585.5 L1483.11 585.55 L1484 585.08 L1484.92 584.49 L1485.85 584.73 L1486.77 584.18 L1487.69 583.99 L1488.62 583.5 L1489.54 582.86 L1490.46 583.1 L1491.38 582.31 L1492.31 582.06 L1493.23 582 L1494.15 581.4 L1495.08 581.28 L1496 581.15 L1496.93 580.45 L1497.87 580.58 L1498.8 579.92 L1499.73 579.92 L1500.67 579.77 L1501.6 579.53 L1502.53 578.81 L1503.47 578.65 L1504.4 578.92 L1505.33 578.26 L1506.27 578.01 L1507.2 577.71 L1508.13 577.67 L1509.07 577.43 L1510 577.11 L1511 576.86 L1512 576.91 L1513 576.8 L1514 576.5 L1515 576.96 L1516 576.9 L1517 576.69 L1518 576.77 L1519 576.33 L1520 576.52 L1521 576.03 L1522 576.31 L1523 576.22 L1524 576.31 L1525 576.23 L1526 576.27 L1527 575.84 L1528 576.2 L1529 575.98 L1530 575.87 L1531 575.91 L1532 576.21 L1533 576.24 L1534 576.24 L1535 576.12 L1536 575.77 L1537 575.76 L1538 576.05 L1539 575.8 L1540 575.89 L1541 575.91 L1542 576.13 L1543 576.71 L1544 576.56 L1545 577.18 L1546 577.01 L1547 577.56 L1548 577.36 L1549 577.52 L1550 577.8 L1551 577.72 L1552 578.2 L1553 578.35 L1554 578.28 L1555 579.07 L1556 578.91 L1557 578.79 L1558 579.61 L1559 579.24 L1560 579.4 L1561 579.38 L1562 579.58 L1563 580.15 L1564 580.2 L1565 580.29 L1566 580.25 L1567 580.42 L1568 581.04 L1569 580.77 L1570 581.34 L1571 581.27 L1572 580.74 L1573 581.24 L1574 580.66 L1575 581.15 L1576 581.22 L1577 581.14 L1578 581.03 L1579 581.22 L1580 580.76 L1581 581.24 L1582 581.27 L1583 581.58 L1584 581.65 L1585 582.23 L1586 582.35 L1587 582.71 L1588 582.82 L1589 583.02 L1590 583.46 L1591 583.6 L1592 583.65 L1593 583.64 L1594 584.23 L1595 584.01 L1596 583.99 L1597 584.32 L1598 584.74 L1599 585.07 L1600 585.04 L1601 585.21 L1602 585.57 L1603 585.63 L1604 585.56 L1605 585.47 L1606 585.58 L1607 585.17 L1608 584.93 L1609 585.18 L1610 585.22 L1611 584.72 L1612 584.93 L1613 584.97 L1614 584.34 L1615 584.25 L1616 584.4 L1617 584.14 L1618 584.43 L1619 584.32 L1620 583.79 L1621 583.89 L1622 583.64 L1623 583.17 L1624 583.59 L1625 582.89 L1626 582.67 L1627 582.8 L1628 582.35 L1629 582.53 L1630 582.34 L1631 582.76 L1632 582.43 L1633 582.77 L1634 582.77 L1635 582.67 L1636 582.47 L1637 582.56 L1638 582.74 L1639 582.71 L1640 582.93 L1641 582.88 L1642 582.79 L1643 583.03 L1644 583.35 L1645 582.92 L1646 583.13 L1647 583.03 L1648 583.22 L1649 583.31 L1650 583.7 L1651 584.11 L1652 584.14 L1653 584.45 L1654 584.49 L1655 584.44 L1656 584.56 L1657 584.28 L1658 584.67 L1659 584.71 L1660 585.08 L1661 584.75 L1662 585.13 L1663 585.06 L1664 585.19 L1665 585.18 L1666 585.02 L1667 585.51 L1668 585.61 L1669 585.52 L1670 585.23 L1671 585.62 L1672 585.86 L1673 585.99 L1674 585.88 L1675 585.43 L1676 586.06 L1677 585.97 L1678 585.74 L1679 586.24 L1680 586.23 L1681 586.26 L1682 585.79 L1683 586.01 L1684 585.86 L1685 585.78 L1686 586.09 L1687 585.98 L1688 585.76 L1689 585.9 L1690 586.15 L1691 585.88 L1692 586.11 L1693 585.85 L1694 586.13 L1695 585.45 L1696 585.73 L1697 585.78 L1698 585.89 L1699 586.04 L1700 585.79 L1701 585.53 L1702 585.48 L1703 585.25 L1704 585.21 L1705 585.22 L1706 584.41 L1707 584.46 L1708 584.69 L1709 583.96 L1710 584.31 L1711 583.62 L1712 583.9 L1713 583.85 L1714 583.29 L1715 583.23 L1716 582.97 L1717 583.14 L1717.98 583.06 L1718.96 583.15 L1719.94 582.99 L1720.92 583.21 L1721.9 583.51 L1722.88 583.43 L1723.87 583.59 L1724.85 583.13 L1725.83 583.36 L1726.81 583.3 L1727.79 583.32 L1728.77 583.67 L1729.75 583.27 L1730.73 583.58 L1731.71 583.77 L1732.69 583.92 L1733.67 583.32 L1734.65 583.53 L1735.63 583.73 L1736.62 584.07 L1737.6 583.57 L1738.58 584.08 L1739.56 583.81 L1740.54 583.96 L1741.52 584.26 L1742.5 583.69 L1743.48 583.82 L1744.46 583.63 L1745.44 583.55 L1746.42 583.6 L1747.4 583.81 L1748.38 583.66 L1749.37 583.28 L1750.35 583.69 L1751.33 583.42 L1752.31 583.1 L1753.29 583.51 L1754.27 583.44 L1755.25 582.95 L1756.23 583.39 L1757.21 583.24 L1758.19 582.76 L1759.17 582.54 L1760.15 583.08 L1761.13 582.99 L1762.12 582.41 L1763.1 582.81 L1764.08 582.75 L1765.06 582.59 L1766.04 582.66 L1767.02 582.7 L1768 582.18 L1769 582.6 L1770 582.74 L1771 582.38 L1772 582.71 L1773 582.78 L1774 582.97 L1775 582.84 L1776 582.71 L1777 582.76 L1778 583.04 L1779 582.82 L1780 583.4 L1781 583.49 L1782 583.11 L1783 583.5 L1784 583.55 L1785 583.24 L1786 583.63 L1787 583.56 L1788 583.18 L1789 582.97 L1790 583.04 L1791 583.32 L1792 583.04 L1793 583.23 L1794 582.71 L1795 582.61 L1796 582.71 L1797 583.02 L1798 582.46 L1799 582.34 L1800 582.75 L1801 582.23 L1802 582.57 L1803 582.1 L1804 582.15 L1805 582.38 L1806 582.46 L1807 582.08 L1808 582.04 L1809 581.69 L1810 581.84 L1811 581.71 L1812 582.03 L1813 581.92 L1814 581.91 L1815 581.67 L1816 581.72 L1817 581.26 L1818 581.38 L1819 581.26 L1820 581.25 L1821 581.57 L1822 581.2 L1823 581.28 L1824 581.25 L1825 581.65 L1826 581.5 L1827 581.39 L1828 581.32 L1829 581.7 L1830 581.71 L1831 581.36 L1832 581.45 L1833 581.65 L1834 581.23 L1835 581.23 L1836 581.12 L1836.98 581.47 L1837.95 581.72 L1838.93 581.36 L1839.9 581.62 L1840.88 582.08 L1841.86 581.79 L1842.83 581.78 L1843.81 582.17 L1844.79 582.27 L1845.76 581.98 L1846.74 581.87 L1847.71 582.3 L1848.69 582.43 L1849.67 582.63 L1850.64 582.51 L1851.62 582.33 L1852.6 582.54 L1853.57 582.45 L1854.55 582.63 L1855.52 582.71 L1856.5 583.09 L1857.5 582.96 L1858.51 582.84 L1859.51 582.4 L1860.52 582.62 L1861.52 581.91 L1862.53 582.33 L1863.53 582.01 L1864.54 582.04 L1865.54 581.59 L1866.55 581.87 L1867.55 581.07 L1868.55 581.52 L1869.56 581.37 L1870.56 580.93 L1871.57 581.12 L1872.57 580.56 L1873.58 580.81 L1874.58 580.49 L1875.59 580.32 L1876.59 580.04 L1877.6 580.34 L1878.6 580.16 L1879.6 579.69 L1880.6 580.3 L1881.6 579.75 L1882.6 579.84 L1883.6 579.85 L1884.6 579.95 L1885.6 580.15 L1886.6 580.17 L1887.6 579.93 L1888.6 579.73 L1889.6 579.53 L1890.6 579.49 L1891.6 579.78 L1892.6 579.81 L1893.6 579.7 L1894.6 580.06 L1895.6 579.64 L1896.62 579.61 L1897.64 579.67 L1898.66 579.52 L1899.68 580.07 L1900.7 579.84 L1901.72 579.82 L1902.74 579.75 L1903.76 579.65 L1904.78 579.71 L1905.8 579.85 L1906.82 579.83 L1907.84 580.22 L1908.86 579.94 L1909.88 579.7 L1910.9 579.61 L1911.92 579.7 L1912.94 579.85 L1913.96 580.17 L1914.98 580.26 L1916 579.82 L1917 580.08 L1918 579.73 L1919 579.69 L1920 579.57 L1921 579.11 L1922 579.01 L1923 579.32 L1924 579.22 L1925 578.89 L1926 579.16 L1927 578.97 L1928 578.5 L1929 578.22 L1930 578.45 L1931 578.4 L1932 577.99 L1933 577.75 L1934 577.95 L1935 577.51 L1936 577.89 L1937 577.7 L1938 577.35 L1939 577.49 L1940 577.37 L1941 577.37 L1942 577.39 L1943 577.87 L1944 577.64 L1945 577.86 L1946 577.63 L1947 577.98 L1948 577.86 L1949 577.93 L1950 577.78 L1951 577.93 L1952 577.7 L1953 578.27 L1954 578.09 L1955 578.02 L1956 578.15 L1957 577.83 L1958 578.04 L1959 578.02 L1960 578.5 L1961 577.98 L1962 578.33 L1963 578.68 L1964 578.67 L1965 578.68 L1966 578.44 L1967 578.45 L1968 578.83 L1969 578.6 L1970 578.95 L1971 578.74 L1972 579.08 L1972.98 578.92 L1973.97 579.05 L1974.95 579.14 L1975.94 578.68 L1976.92 579.07 L1977.91 578.35 L1978.89 578.92 L1979.88 578.29 L1980.86 578.62 L1981.85 578.48 L1982.83 578.71 L1983.82 578.36 L1984.8 578.25 L1985.78 578.61 L1986.77 578.42 L1987.75 578.53 L1988.74 578.3 L1989.72 577.95 L1990.71 578.43 L1991.69 578.01 L1992.68 578.15 L1993.66 577.79 L1994.65 577.94 L1995.63 578.19 L1996.62 578.22 L1997.6 578.1 L1998.6 577.91 L1999.6 578.07 L2000.6 577.98 L2001.6 577.61 L2002.6 577.79 L2003.6 577.79 L2004.6 577.83 L2005.6 577.41 L2006.6 577.44 L2007.6 577.42 L2008.6 577.2 L2009.6 577.33 L2010.6 577.55 L2011.6 577.4 L2012.6 577.07 L2013.6 577.41 L2014.6 576.93 L2015.59 577.29 L2016.58 576.77 L2017.57 576.65 L2018.56 576.67 L2019.55 576.76 L2020.54 576.5 L2021.53 576.84 L2022.52 576.79 L2023.51 576.24 L2024.49 576.48 L2025.48 576.35 L2026.47 576.17 L2027.46 575.87 L2028.45 576.26 L2029.44 576.18 L2030.43 575.43 L2031.42 575.56 L2032.41 575.46 L2033.4 575.29" fill="none" stroke="#0000ff" stroke-width="2.5" stroke-linejoin="round" clip-path="url(#c1)" />
<path d="M261.4 546 L289.8 546 M319 546 L347.4 546 M376.6 546 L405 546 M434.2 546 L462.6 546 M491.8 546 L520.2 546 M549.4 546 L577.8 546" fill="none" stroke="#ff99ff" stroke-width="7.5" stroke-linejoin="miter" stroke-miterlimit="2" clip-path="url(#c1)"/>
<path d="M849 570 L852 570 L852 570.76 L855 570.76 L855 571.43 L858 571.43 L858 571.83 L860 571.83 L860 574.54 L862 574.54 L862 575.26 L864 575.26 L864 577.69 L866 577.69 L866 580.78 M880 589 L882.67 589 L882.67 588.66 L885.33 588.66 L885.33 587.76 L888 587.76 L888 586.48 L889.75 586.48 L889.75 584.06 L891.5 584.06 L891.5 582.52 L893.25 582.52 L893.25 580.13 L895 580.13 L895 577.31 M913 578 L916 578 L916 579.23 L919 579.23 L919 580.61 L922 580.61 L922 583.68 L924.25 583.68 L924.25 584.68 L926.5 584.68 L926.5 586.83 L928.75 586.83 L928.75 589.07 L931 589.07 L931 590.28 M1171 640 L1173.57 640 L1173.57 639.16 L1176.14 639.16 L1176.14 637.17 L1178.71 637.17 L1178.71 635.24 L1181.29 635.24 L1181.29 634.93 L1183.86 634.93 L1183.86 632.17 L1186.43 632.17 L1186.43 631.11 L1189 631.11 L1189 629.1 M1265 646 L1267.43 646 L1267.43 647.74 L1269.86 647.74 L1269.86 648.38 L1272.29 648.38 L1272.29 650.07 L1274.71 650.07 L1274.71 650.99 L1277.14 650.99 L1277.14 653.68 L1279.57 653.68 L1279.57 654 L1282 654 L1282 655.34" fill="none" stroke="#ff99ff" stroke-width="6" stroke-linejoin="miter" stroke-miterlimit="2" clip-path="url(#c1)"/>
<path d="M607.5 544.32v3.51M608.36 541.76v5.71M609.21 541.02v7.15M610.12 542.42v4.99M611.01 541.97v5.43M612.03 541.59v6.65M613.04 542.01v8.16M614 541.93v8.82M615.01 541.83v6.79M615.9 541.69v8.67M616.78 542.39v8.86M617.64 541.29v7.82M618.65 541.36v8.44M619.65 541.59v7.66M620.69 544.54v6.56M621.6 541.74v7.87M622.53 543.69v5.14M623.54 545.58v5.4M624.42 545.01v7.47M625.31 545.99v5.6M626.3 543.57v8.89M627.27 543.85v9M628.41 544.52v7.68M629.42 545.29v6.37M630.52 548.33v4.32M652.5 547.82v2.74M653.38 545.7v5.75M654.33 544.39v6.76M655.4 546.73v4.8M656.37 543.78v8.29M657.46 545.12v5.99M658.32 543.48v6.85M659.43 543.95v7.72M660.57 544.71v8.96M661.44 544.67v7.84M662.47 546.77v4.67M663.46 545.15v7.34M664.39 546.73v4.73M665.32 544.66v4.79M666.47 543.24v8M667.36 544.06v8.73M668.39 545.17v5.2M669.52 545.48v4.62M670.39 542.38v9.19M671.52 544.79v7.62M672.39 545.08v5.8M673.38 546.55v2.96M690.5 546.61v2.74M691.48 544.35v3.94M692.46 544.04v6.28M693.58 543.56v6.95M694.73 542.95v5.59M695.68 543v6.04M696.65 545.71v4.76M697.65 543.19v8.64M698.72 542.44v8.09M699.78 544.37v5.55M700.81 542.05v8.17M701.77 543.6v8.39M702.91 543.67v5.14M703.79 543.67v7.93M704.84 542.95v8.19M705.85 542.97v8.84M706.9 543.33v7.31M707.98 542.42v7.23M708.96 543.55v6.54M709.97 543.59v6.26M710.95 545.07v6.31M711.83 545.24v4.68M712.8 544.1v6.28M713.76 543.47v4.53M714.87 543.66v5.56M715.86 544.42v2.87M733.5 549.16v4.57M734.43 550.33v5.54M735.42 549.02v5.68M736.51 549.44v8.57M737.39 550.59v7.33M738.46 548.96v6.71M739.32 548.33v7.97M740.42 549.79v7.66M741.53 549.8v8.89M742.41 550.28v7.31M743.34 550.51v8.87M744.23 551.32v5.65M745.25 551.58v6.09M746.34 552.89v5.44M747.29 551.95v8.94M748.24 550.76v7.39M749.21 552.31v7.47M750.16 552.55v4.76M751.18 552.93v5.39M752.22 552.23v8.36M753.14 553.12v5.74M754.23 554.64v3.14M772.5 564.84v4.83M773.41 565.7v3.81M774.36 566.31v5.91M775.33 565.17v6.79M776.41 564.53v8.75M777.54 567.75v5.75M778.54 565.46v7.74M779.48 568.26v5.22M780.43 566.1v7.81M781.44 566.75v5.55M782.39 566.84v7.73M783.24 566.7v7.87M784.11 567.38v5.8M785.21 567.29v7.13M786.14 567.99v5.94M787.09 568.4v8.24M788.15 568.1v8.67M789.03 568.98v4.8M789.96 570.31v6.03M790.99 569.93v4.29M810.5 571.34v4.36M811.36 570v6.36M812.47 571.75v4.62M813.43 568.66v8.69M814.31 571.45v5.51M815.45 569.95v7.56M816.38 569.13v5.85M817.53 570.87v4.8M818.48 569.95v5.46M819.61 568.95v5.74M820.65 568.76v7.62M821.56 567.1v8.62M822.46 569.48v5.71M823.45 569.18v7.15M824.57 567.45v6.75M825.67 569.05v4.68M826.56 568.79v7.37M827.45 569.56v5.95M828.51 569.41v5.1M829.59 567.56v5.75M830.64 568.12v4.23M831.54 568.37v3.44M950.5 592.69v4.32M951.59 590.44v6.64M952.48 591.04v7.67M953.44 590.53v6.18M954.54 592.13v6.72M955.5 591.82v6.08M956.57 590.27v8.66M957.63 592.86v6.46M958.71 591.37v7.15M959.64 591.89v8.67M960.58 592.3v4.99M961.72 594.17v4.78M962.73 592.44v7.15M963.7 591.41v7.16M964.83 592.75v5.07M965.88 593.41v7.55M966.94 590.93v8.88M967.79 594.85v5.08M968.68 594.99v5.02M969.58 596.1v3.75M986.5 602.18v3.54M987.43 601.41v6.64M988.49 601.76v5.68M989.48 599.51v8.27M990.6 600v7.75M991.62 599.92v8.3M992.75 602.72v4.63M993.82 601.48v6.85M994.71 601.48v6.15M995.81 602.13v6.32M996.86 600.62v4.81M997.73 599.93v7.22M998.66 599.57v6.66M999.78 599.92v8.46M1000.76 601.26v6.02M1001.72 600.64v9.09M1002.78 598.7v8.4M1003.67 600.19v5.67M1004.65 601.58v6.58M1005.79 601.89v2.77M1023.5 605.32v3.19M1024.51 606.46v4.41M1025.53 604.42v6.84M1026.6 605.19v7.77M1027.59 604.73v6.73M1028.45 605.71v6.74M1029.36 605.62v8.56M1030.46 604.86v8.35M1031.37 606.89v5.85M1032.51 605.52v5.11M1033.47 606.65v6.21M1034.35 604.96v8.48M1035.47 606.22v6.11M1036.38 605.62v9.04M1037.47 607.73v4.89M1038.54 606.79v9.13M1039.42 608.48v6.32M1040.43 605.35v9M1041.29 605.68v8.65M1042.31 608.55v4.83M1043.44 609.41v4.98M1059.5 613.49v4.61M1060.47 613.18v6.66M1061.44 613.15v6.82M1062.5 612.5v7.6M1063.62 615.51v4.93M1064.58 613.83v5.26M1065.73 613.43v8.28M1066.82 614.36v9.06M1067.83 615v5.86M1068.97 614.46v7.96M1070.07 615.02v6.48M1071.18 616.39v5.52M1072.03 614.96v7.07M1072.93 613.81v8.84M1073.83 615.47v6.49M1074.81 615.21v4.61M1075.88 615.45v5.21M1076.97 616.12v7.33M1077.87 617.99v3.12M1078.9 616.26v2.95M1097.5 617.84v3.1M1098.64 616.32v4.25M1099.7 616.72v4.92M1100.68 615.2v9.14M1101.63 616.27v6.79M1102.6 616.5v7.82M1103.69 617.47v5.45M1104.73 619.32v6.68M1105.61 618.29v8.03M1106.57 619.89v5.19M1107.65 619.09v6.77M1108.7 619v7.4M1109.61 619.97v6.73M1110.73 619.14v9.18M1111.68 621.42v5.62M1112.75 621.87v5.74M1113.9 622.57v6.4M1114.88 622.11v7.6M1115.79 623.83v5.39M1116.66 623.37v4.24M1117.73 625.15v3.76M1133.5 627.7v2.51M1134.36 626.63v4.67M1135.37 626.18v6.77M1136.48 628.44v6.5M1137.43 627.02v7.45M1138.36 625.38v8.19M1139.29 628.85v6.08M1140.29 628.13v4.77M1141.32 626.01v8.32M1142.4 628.21v6.4M1143.38 629.45v6.62M1144.51 627.85v8.82M1145.57 627.96v5.25M1146.66 628.44v7.7M1147.61 630.27v5.83M1148.62 629.47v4.69M1149.57 631.16v4.91M1150.69 627.06v8.35M1151.67 630.97v4.57M1152.76 630.76v5.64M1153.65 630.69v2.41M1203.5 632.54v4.93M1204.58 632.87v6.11M1205.73 633.49v7.72M1206.87 634.92v4.98M1207.78 633.72v6.09M1208.93 635.09v4.88M1209.82 633.5v9.19M1210.88 635.78v6.99M1211.83 636.4v6.5M1212.89 634.66v8.68M1214 636.19v7.99M1214.97 634.94v7.21M1215.85 635.33v6.03M1216.71 635.67v7.9M1217.75 636.44v5.55M1218.84 633.81v7.45M1219.86 634.06v6.42M1220.76 633.6v8.58M1221.89 633.82v5.39M1222.89 634.22v4.06M1223.9 635.25v4.43M1224.93 634.5v3.49M1236.5 629.02v3.46M1237.64 627.98v6.42M1238.53 629.98v5.37M1239.42 629.98v4.69M1240.27 629.23v5.79M1241.18 629.59v4.61M1242.1 629.34v6.09M1243.06 628.41v6.09M1244.16 628.8v8M1245.01 631.11v5.67M1246 631.06v5.54M1247.12 630.53v5.16M1248.14 630.17v5.14M1249.17 629.8v7.7M1250.21 629.13v6.34M1251.06 630.23v8.45M1252.18 631.84v4.95M1253.09 629.83v6.19M1254.19 631.29v6.79M1255.16 630.54v5.51M1294.5 653.83v3.3M1295.54 653.48v5.56M1296.62 652.89v5.56M1297.52 652.01v5.71M1298.39 653.87v6.21M1299.44 652.98v5M1300.47 651.69v7.04M1301.34 653.29v7.2M1302.22 652.07v8.15M1303.24 653.12v7.04M1304.38 653.9v6.42M1305.39 654.57v8.46M1306.47 654.8v7.08M1307.51 654.72v9.01M1308.59 655.62v5.6M1309.57 656.39v5.6M1310.49 655.55v6.18M1311.47 657.23v4.46M1326.5 659.25v5.01M1327.43 658.15v5.55M1328.56 657.39v6.24M1329.42 657.54v6.76M1330.36 658.21v5.08M1331.23 657.91v5.39M1332.19 657.33v6.9M1333.15 656.8v5.21M1334.17 655.51v9.06M1335.13 658.16v6.07M1336.13 655.1v8.26M1337.01 657.36v5.55M1337.98 658.45v6.37M1338.97 657.96v7.25M1340.01 657.52v7.34M1340.96 659.09v4.77M1341.97 655.47v7.28M1343.04 657.4v6.32M1343.98 655.39v8.82M1344.91 655.68v7.39M1345.84 659.01v4.59M1346.73 659.38v2.8M1359.5 670.14v3.61M1360.56 667.45v6.43M1361.68 669.82v6.24M1362.67 668.14v8.7M1363.6 670.28v5.29M1364.46 671.6v5.35M1365.49 668.54v8.57M1366.48 669.75v6.76M1367.41 670.7v8.84M1368.41 672.2v7.4M1369.55 670.6v7.34M1370.66 672.56v5.36M1371.55 673.02v6.96M1372.54 672.39v6.76M1373.6 673.12v7.07M1374.7 674.25v8.92M1375.85 675.59v4.44M1376.84 677.13v4.02M1377.96 677.8v2.4M1390.5 682.3v4.88M1391.38 682.13v5.07M1392.47 681.02v5.45M1393.61 681.96v4.65M1394.49 679.53v8.05M1395.62 681.61v5.63M1396.54 679.7v4.82M1397.41 680.97v6.39M1398.37 677.52v7.9M1399.37 677.81v7.08M1400.39 678.34v6.65M1401.49 676.93v7.78M1402.38 678.53v4.84M1403.42 677.96v9.05M1404.53 679.14v5.17M1405.6 678.63v6.65M1406.63 677.7v3.88M1407.52 678.4v4.12M1424.5 661.35v2.56M1425.64 660.8v4.52M1426.75 661.66v5.11M1427.87 659.91v7.19M1428.72 659.66v7.39M1429.8 658.35v6.98M1430.72 657.76v7.6M1431.6 660.37v5.75M1432.62 660.36v6.24M1433.64 659.39v5.7M1434.75 658.53v6.3M1435.77 657.44v9.14M1436.68 657.36v7.28M1437.67 656.08v7.88M1438.67 658.3v6.04M1439.77 657.81v6.75M1440.7 657.8v5.78M1441.71 658.59v5.11M1442.71 657.41v4.41M1443.81 659.04v4.26M1454.5 658.71v2.76M1455.36 656.58v6.42M1456.31 656.13v6.39M1457.21 656v6.28M1458.26 653.19v7.29M1459.18 653.3v5.78M1460.22 654.38v7.23M1461.23 651.89v8.82M1462.24 652.84v5.89M1463.37 650.6v6.84M1464.33 652.4v5.51M1465.33 652.05v6.79M1466.41 650.07v5M1467.47 649.99v7.35M1468.47 650.26v4.76M1469.57 647.38v7.3M1470.46 648.41v6.95M1471.36 650.1v4.66M1480.5 638.51v4.25M1481.38 637.8v5.09M1482.33 637.63v5.09M1483.39 635.42v4.63M1484.41 634.34v8.99M1485.52 635.82v5.08M1486.42 633.88v6.13M1487.41 635.53v4.81M1488.46 633.5v8.76M1489.33 632.7v8.6M1490.46 631.99v6.86M1491.52 634.72v5.4M1492.53 631.43v8.75M1493.48 632.23v7.65M1494.47 632.04v5.87M1495.53 631.11v5.64M1496.53 630.4v5.92M1497.46 630.99v5.17M1510.5 611.04v3.37M1511.5 610.77v6.73M1512.36 609.58v7.64M1513.35 608.92v7.66M1514.26 607.48v7.8M1515.2 607.9v8.52M1516.21 607.63v7.87M1517.17 606.4v7.14M1518.13 609.74v4.78M1519.25 605.71v7.61M1520.36 607.81v5.9M1521.4 606.5v7.38M1522.33 605.1v8.44M1523.41 603.92v8.46M1524.38 604.18v6.26M1525.49 604.07v7.75M1526.51 603.08v6.76M1527.47 605.09v4.41M1540.5 581.37v3.33M1541.55 581.78v5.17M1542.67 577.55v9.06M1543.68 579.26v5.08M1544.55 579.46v6.91M1545.63 577.47v6.27M1546.76 579.1v4.84M1547.86 578.78v4.92M1548.91 576.16v6.39M1549.94 576.47v7.02M1551.06 574.14v6.1M1552.14 574.54v7.58M1553.01 576.05v4.95M1553.97 575v6.48M1554.88 572.68v5.49M1555.9 573.26v3.8M1570.5 555.11v5.08M1571.59 553.35v7.19M1572.6 552.59v8.39M1573.64 550.91v7.68M1574.59 553.1v6.1M1575.68 553.11v5.94M1576.54 551.57v4.88M1577.42 549.26v8.97M1578.38 549.56v8.53M1579.42 549.92v6.62M1580.56 550.02v5.88M1581.55 548.96v5.25M1582.56 547.8v8.27M1583.42 546.39v8.9M1584.54 549.33v4.81M1585.43 547.9v5.8M1586.51 547.79v5.16M1587.48 547.65v3.96M1604.5 546.38v2.96M1605.51 546.77v4.51M1606.38 544.38v6.8M1607.5 544.56v5.98M1608.45 543.29v7.05M1609.5 544.29v6.49M1610.44 543.46v6.7M1611.5 542.29v7.6M1612.38 542.48v5.12M1613.28 543.32v5.44M1614.24 540.2v8.78M1615.16 541.33v5.44M1616.22 540.5v7.26M1617.31 540.54v7.71M1618.34 540.43v7.62M1619.22 542.25v6.28M1620.18 539.22v7.54M1621.26 539.24v8.58M1622.22 539.56v6.96M1623.14 541.49v5.04M1624.14 540.99v7.09M1625.25 541.39v5.24M1644.5 549.73v2.86M1645.61 547.2v5.74M1646.59 545.52v6.35M1647.61 545.54v5.86M1648.72 546.65v7.24M1649.66 544.94v7.25M1650.76 546.59v5.56M1651.77 544.69v6.1M1652.77 546.01v7.01M1653.68 545.32v5.45M1654.77 545.9v5.67M1655.63 546.31v4.98M1656.63 545.48v5.12M1657.76 544.88v6.4M1658.74 543.14v6.92M1659.85 543.59v7.27M1660.79 545.88v5.46M1661.89 544.82v5.53M1662.91 544.1v3.69M1663.98 545.96v2.43M1688.5 545.81v2.64M1689.55 546.33v5.89M1690.59 543.23v7M1691.73 545.51v6.85M1692.59 543.72v8.44M1693.51 543.66v6.47M1694.53 545.72v5.61M1695.44 544.42v7.77M1696.5 542.98v8.97M1697.55 545.81v6.43M1698.65 544.2v8.11M1699.58 544.83v8.78M1700.71 545.76v6.16M1701.77 544.55v8.46M1702.75 545.56v6.42M1703.8 545.65v6.65M1704.66 546.17v3.48M1705.54 544.59v4.68M1729.5 539.02v3.05M1730.58 538.42v5.68M1731.6 539.37v6.6M1732.61 537.86v7.08M1733.58 536.6v7.77M1734.64 537.74v8.87M1735.65 537.34v6.23M1736.53 538.95v7.08M1737.64 539.43v5.44M1738.73 539.03v6.81M1739.64 538.47v6.14M1740.71 537.65v6.66M1741.82 538.09v6.4M1742.73 538.63v6.82M1743.69 537.66v7.65M1744.54 536.44v9.03M1745.56 536.23v9.01M1746.43 537.83v5.54M1747.53 536.82v6.98M1748.46 537.49v6.33M1749.41 538.12v6.48M1750.33 538.39v4.21M1767.5 537.46v4.13M1768.51 539.01v4.45M1769.55 536.77v8.22M1770.45 538.4v5.45M1771.55 537.94v4.89M1772.48 538.19v6.75M1773.5 537.28v8.02M1774.43 536.55v7.45M1775.43 537.51v7.04M1776.33 535.49v8.46M1777.27 537.61v8.51M1778.23 534.91v8.98M1779.37 536.63v5.52M1780.45 538.58v5.34M1781.3 537.64v5.17M1782.17 536.82v6.77M1783.24 538.38v6.87M1784.35 538.99v5.39M1785.47 537.31v6.71M1786.37 537.56v4.62M1787.28 537.96v4.37M1805.1 546.85v4M1805.98 544.9v6.23M1807.02 545.81v5.4M1807.99 544.26v7.92M1808.88 545.66v5.98M1809.73 544.36v7.51M1810.8 544.88v6.11M1811.79 542.87v8.05M1812.8 545.34v5.79M1813.72 544.53v5.55M1814.84 545.85v6.27M1815.91 545.22v5.84M1816.76 543.89v8.89M1817.65 544.49v6.99M1818.7 546.1v5.93M1819.74 546.36v4.93M1820.85 545.55v6M1821.96 543.11v7.54M1823.06 546.94v3.7M1840.5 549.71v3.68M1841.59 548.24v6.91M1842.61 547.16v7.56M1843.58 547.07v6.89M1844.5 548.5v5.8M1845.6 547.09v7.81M1846.6 547.31v7.24M1847.46 548.4v6.64M1848.37 546.03v6.75M1849.3 545.09v8.39M1850.38 547.32v8.27M1851.31 545.72v8.89M1852.3 546.13v8.97M1853.35 546.66v5.11M1854.28 548.8v5.09M1855.21 546.46v9M1856.11 546.09v7.87M1857.12 548.89v4.95M1858.21 547.43v7.14M1859.16 547.97v4.15M1860.23 547.41v4.29M1878.2 544.88v3.72M1879.06 544.65v4.79M1880.18 546.21v4.87M1881.27 545.08v6.05M1882.42 543.99v7.44M1883.56 546.29v5.79M1884.5 544.25v6.54M1885.55 544.16v8.66M1886.45 544v9.16M1887.45 542.72v8.51M1888.48 544.61v8.21M1889.54 545.5v4.89M1890.47 544.03v7.4M1891.45 544.69v7.07M1892.57 544.47v5.9M1893.48 546.35v5.12M1894.6 545.05v5.18M1895.72 545.39v7.71M1896.87 544.86v4.03M1897.79 545.05v3.39M1920.5 539.25v3.64M1921.4 538.37v3.58M1922.27 537.39v4.36M1923.36 535.09v8.64M1924.45 536.75v8.48M1925.39 535.33v8.37M1926.26 535.38v8.99M1927.38 535.39v8.07M1928.26 535.89v7.57M1929.31 536.06v7.69M1930.3 538.78v5.58M1931.34 537.03v7.78M1932.21 536.99v8.68M1933.22 536.92v7.32M1934.29 536.5v7.05M1935.3 536.52v5.58M1936.3 536.87v8.6M1937.22 537.35v6.94M1938.24 537.27v6.72M1939.3 536.31v8.65M1940.38 536.11v7M1941.31 537.97v4.49M1942.31 540.2v3.4M1959 540.79v3.45M1960.13 540.29v4.09M1961.27 539.85v6.26M1962.36 538.04v6.07M1963.45 538.35v6.51M1964.44 539.05v7.95M1965.56 537.09v8.13M1966.52 538.91v4.63M1967.48 539.23v5.42M1968.36 537.97v7.6M1969.29 537.68v7.76M1970.15 538.43v8.46M1971.26 538.41v5.95M1972.32 540.58v5.27M1973.36 537.27v7.12M1974.3 539.98v6.55M1975.19 537.24v7.32M1976.33 538.91v7.8M1977.41 539.26v4.13M1978.27 538.8v4.23M1998.1 547.04v2.91M1999.19 546.46v4.34M2000.08 544.75v4.69M2001.18 545.62v5.05M2002.19 542.84v8.27M2003.05 545.45v5.06M2004.05 542.56v8.11M2004.99 545.53v5.57M2006.05 545.33v5.31M2006.91 543.4v6.75M2007.99 543.92v7.91M2008.9 545.37v4.8M2009.96 545.96v4.64M2011.08 544.32v6.26M2012.12 543.36v8.86M2013.13 543.31v8.14M2013.99 543.62v7.12M2014.94 543.47v6.41M2015.88 544.38v8.04M2016.87 542.18v8.49M2017.87 544.8v6.66M2018.84 546.83v3.53M2019.87 545.2v3.6" fill="none" stroke="#ff99ff" stroke-width="1.5" clip-path="url(#c1)"/>
<path d="M261.4 546 L262.4 546 L263.4 546 L264.4 546 L265.4 546 L266.4 546 L267.39 546.01 L268.39 546.01 L269.39 546.01 L270.39 546.01 L271.39 546.01 L272.39 546.01 L273.39 546.01 L274.39 546.01 L275.39 546.01 L276.39 546.01 L277.38 546.02 L278.38 546.02 L279.38 546.02 L280.38 546.02 L281.38 546.02 L282.38 546.02 L283.38 546.02 L284.38 546.02 L285.38 546.02 L286.38 546.02 L287.37 546.03 L288.37 546.03 L289.37 546.03 L290.37 546.03 L291.37 546.03 L292.37 546.03 L293.37 546.03 L294.37 546.03 L295.37 546.03 L296.37 546.03 L297.36 546.04 L298.36 546.04 L299.36 546.04 L300.36 546.04 L301.36 546.04 L302.36 546.04 L303.36 546.04 L304.36 546.04 L305.36 546.04 L306.36 546.04 L307.36 546.04 L308.35 546.05 L309.35 546.05 L310.35 546.05 L311.35 546.05 L312.35 546.05 L313.35 546.05 L314.35 546.05 L315.35 546.05 L316.35 546.05 L317.35 546.05 L318.34 546.06 L319.34 546.06 L320.34 546.06 L321.34 546.06 L322.34 546.06 L323.34 546.06 L324.34 546.06 L325.34 546.06 L326.34 546.06 L327.34 546.06 L328.33 546.07 L329.33 546.07 L330.33 546.07 L331.33 546.07 L332.33 546.07 L333.33 546.07 L334.33 546.07 L335.33 546.07 L336.33 546.07 L337.33 546.07 L338.32 546.08 L339.32 546.08 L340.32 546.08 L341.32 546.08 L342.32 546.08 L343.32 546.08 L344.32 546.08 L345.32 546.08 L346.32 546.08 L347.32 546.08 L348.31 546.09 L349.31 546.09 L350.31 546.09 L351.31 546.09 L352.31 546.09 L353.31 546.09 L354.31 546.09 L355.31 546.09 L356.31 546.09 L357.31 546.09 L358.31 546.09 L359.3 546.1 L360.3 546.1 L361.3 546.1 L362.3 546.1 L363.3 546.1 L364.3 546.1 L365.3 546.1 L366.3 546.1 L367.3 546.1 L368.3 546.1 L369.29 546.11 L370.29 546.11 L371.29 546.11 L372.29 546.11 L373.29 546.11 L374.29 546.11 L375.29 546.11 L376.29 546.11 L377.29 546.11 L378.29 546.11 L379.28 546.12 L380.28 546.12 L381.28 546.12 L382.28 546.12 L383.28 546.12 L384.28 546.12 L385.28 546.12 L386.28 546.12 L387.28 546.12 L388.28 546.12 L389.27 546.13 L390.27 546.13 L391.27 546.13 L392.27 546.13 L393.27 546.13 L394.27 546.13 L395.27 546.13 L396.27 546.13 L397.27 546.13 L398.27 546.13 L399.27 546.13 L400.26 546.14 L401.26 546.14 L402.26 546.14 L403.26 546.14 L404.26 546.14 L405.26 546.14 L406.26 546.14 L407.26 546.14 L408.26 546.14 L409.26 546.14 L410.25 546.15 L411.25 546.15 L412.25 546.15 L413.25 546.15 L414.25 546.15 L415.25 546.15 L416.25 546.15 L417.25 546.15 L418.25 546.15 L419.25 546.15 L420.24 546.16 L421.24 546.16 L422.24 546.16 L423.24 546.16 L424.24 546.16 L425.24 546.16 L426.24 546.16 L427.24 546.16 L428.24 546.16 L429.24 546.16 L430.23 546.17 L431.23 546.17 L432.23 546.17 L433.23 546.17 L434.23 546.17 L435.23 546.17 L436.23 546.17 L437.23 546.17 L438.23 546.17 L439.23 546.17 L440.22 546.18 L441.22 546.18 L442.22 546.18 L443.22 546.18 L444.22 546.18 L445.22 546.18 L446.22 546.18 L447.22 546.18 L448.22 546.18 L449.22 546.18 L450.22 546.18 L451.21 546.19 L452.21 546.19 L453.21 546.19 L454.21 546.19 L455.21 546.19 L456.21 546.19 L457.21 546.19 L458.21 546.19 L459.21 546.19 L460.21 546.19 L461.2 546.2 L462.2 546.2 L463.2 546.2 L464.2 546.2 L465.2 546.2 L466.2 546.2 L467.2 546.2 L468.2 546.2 L469.2 546.2 L470.2 546.2 L471.19 546.21 L472.19 546.21 L473.19 546.21 L474.19 546.21 L475.19 546.21 L476.19 546.21 L477.19 546.21 L478.19 546.21 L479.19 546.21 L480.19 546.21 L481.18 546.22 L482.18 546.22 L483.18 546.22 L484.18 546.22 L485.18 546.22 L486.18 546.22 L487.18 546.22 L488.18 546.22 L489.18 546.22 L490.18 546.22 L491.18 546.22 L492.17 546.23 L493.17 546.23 L494.17 546.23 L495.17 546.23 L496.17 546.23 L497.17 546.23 L498.17 546.23 L499.17 546.23 L500.17 546.23 L501.17 546.23 L502.16 546.24 L503.16 546.24 L504.16 546.24 L505.16 546.24 L506.16 546.24 L507.16 546.24 L508.16 546.24 L509.16 546.24 L510.16 546.24 L511.16 546.24 L512.15 546.25 L513.15 546.25 L514.15 546.25 L515.15 546.25 L516.15 546.25 L517.15 546.25 L518.15 546.25 L519.15 546.25 L520.15 546.25 L521.15 546.25 L522.14 546.26 L523.14 546.26 L524.14 546.26 L525.14 546.26 L526.14 546.26 L527.14 546.26 L528.14 546.26 L529.14 546.26 L530.14 546.26 L531.14 546.26 L532.13 546.27 L533.13 546.27 L534.13 546.27 L535.13 546.27 L536.13 546.27 L537.13 546.27 L538.13 546.27 L539.13 546.27 L540.13 546.27 L541.13 546.27 L542.13 546.27 L543.12 546.28 L544.12 546.28 L545.12 546.28 L546.12 546.28 L547.12 546.28 L548.12 546.28 L549.12 546.28 L550.12 546.28 L551.12 546.28 L552.12 546.28 L553.11 546.29 L554.11 546.29 L555.11 546.29 L556.11 546.29 L557.11 546.29 L558.11 546.29 L559.11 546.29 L560.11 546.29 L561.11 546.29 L562.11 546.29 L563.1 546.3 L564.1 546.3 L565.1 546.3 L566.1 546.3 L567.1 546.3 L568.1 546.3 L569.1 546.3 L570.1 546.3 L571.1 546.3 L572.1 546.3 L573.09 546.31 L574.09 546.31 L575.09 546.31 L576.09 546.31 L577.09 546.31 L578.09 546.31 L579.09 546.31 L580.09 546.31 L581.09 546.31 L582.09 546.31 L583.09 546.31 L584.08 546.32 L585.08 546.32 L586.08 546.32 L587.08 546.32 L588.08 546.32 L589.08 546.32 L590.08 546.32 L591.08 546.32 L592.08 546.32 L593.08 546.32 L594.07 546.33 L595.07 546.33 L596.07 546.33 L597.07 546.33 L598.07 546.33 L599.07 546.33 L600.07 546.33 L601.07 546.33 L602.07 546.33 L603.07 546.33 L604.06 546.34 L605.06 546.34 L606.06 546.34 L607.06 546.34 L608.06 546.34 L609.06 546.34 L610.06 546.34 L611.06 546.34 L612.06 546.34 L613.06 546.34 L614.05 546.35 L615.05 546.35 L616.05 546.35 L617.05 546.35 L618.05 546.35 L619.05 546.35 L620.05 546.35 L621.05 546.35 L622.05 546.35 L623.05 546.35 L624.04 546.36 L625.04 546.36 L626.04 546.36 L627.04 546.36 L628.04 546.36 L629.04 546.36 L630.04 546.36 L631.04 546.36 L632.04 546.36 L633.04 546.36 L634.04 546.36 L635.03 546.37 L636.03 546.37 L637.03 546.37 L638.03 546.37 L639.03 546.37 L640.03 546.37 L641.03 546.37 L642.03 546.37 L643.03 546.37 L644.03 546.37 L645.02 546.38 L646.02 546.38 L647.02 546.38 L648.02 546.38 L649.02 546.38 L650.02 546.38 L651.02 546.38 L652.02 546.38 L653.02 546.38 L654.02 546.38 L655.01 546.39 L656.01 546.39 L657.01 546.39 L658.01 546.39 L659.01 546.39 L660.01 546.39 L661.01 546.39 L662.01 546.39 L663.01 546.39 L664.01 546.39 L665 546.4 L666 546.4 L667 546.4 L668 546.4 L669 546.4 L670 546.4 L671 546.46 L672 546.52 L673 546.58 L674 546.64 L675 546.7 L676 546.76 L677 546.82 L678 546.88 L679 546.94 L680 547 L681 547.06 L682 547.12 L683 547.18 L684 547.24 L685 547.3 L686 547.36 L687 547.42 L688 547.48 L689 547.54 L690 547.6 L691 547.72 L692 547.67 L693 548.08 L694 547.99 L695 548.13 L696 548.07 L697 548.27 L698 547.9 L699 548.58 L700 548.36 L701 548.44 L702 548.22 L703 548.22 L704 548.72 L705 548.81 L706 548.84 L707 548.62 L708 548.85 L709 549.12 L710 549.1 L711 549.45 L712 549.05 L713 549.69 L714 549.33 L715 549.92 L716 550.02 L716.67 550.37 L717.33 551.28 L718 552.12 L718.67 552.92 L719.33 553.04 L720 554.01 L720.43 555.06 L720.86 555.45 L721.29 556.85 L721.71 557.74 L722.14 558.18 L722.57 558.94 L723 559.75 L723.75 560.55 L724.5 561.44 L725.25 562.39 L726 563.31 L726.86 562.67 L727.71 562.57 L728.57 561.83 L729.43 561.62 L730.29 560.79 L731.14 560.71 L732 560.07 L733 560 L734 560.34 L735 559.71 L736 559.7 L737 559.72 L738 559.58 L739 559.09 L740 559.01 L741 559.26 L742 558.93 L743 559.04 L744 559.64 L745 559.89 L746 560.65 L747 560.31 L748 560.73 L749 560.98 L750 561.64 L750.86 562.41 L751.71 562.77 L752.57 562.79 L753.43 563.57 L754.29 563.93 L755.14 564.85 L756 565.14 L757 565.29 L758 565.26 L759 565.6 L760 565.88 L761 565.99 L762 566.33 L763 566.21 L764 566.66 L765 567.27 L766 567.07 L767 567.36 L768 567.75 L769 568 L770 568.17 L771 568.07 L772 568.45 L773 568.24 L774 568.68 L775 568.41 L776 568.68 L777 568.82 L778 569.1 L779 569.52 L780 569.16 L781 569.91 L782 569.51 L783 570.27 L784 570.41 L785 570.33 L786 570.64 L787 570.86 L788 570.66 L789 571.1 L790 570.67 L791 571.32 L792 571.35 L793 571.57 L794 571.25 L795 571.33 L796 571.77 L797 571.95 L798 572.13 L799 571.9 L800 572.3 L801 572.7 L802 572.33 L803 572.85 L804 573.07 L805 573 L806 572.96 L806.93 573.21 L807.87 573.51 L808.8 573.54 L809.73 573.77 L810.67 574.18 L811.6 574.37 L812.53 575.15 L813.47 575.04 L814.4 575.66 L815.33 575.71 L816.27 576.21 L817.2 576.48 L818.13 576.61 L819.07 576.7 L820 576.82 L820.91 577.41 L821.82 577.6 L822.73 578.32 L823.64 578.13 L824.55 578.91 L825.45 579.07 L826.36 579.49 L827.27 579.94 L828.18 580.61 L829.09 580.98 L830 580.9 L831 581.32 L832 581.32 L833 581.02 L834 581.04 L835 580.79 L836 581.2 L837 580.99 L838 581.18 L839 581.3 L840 581.09 L841 581.28 L842 581.31 L843 581.16 L844 581.53 L845 581.39 L846 581.62 L847 582.32 L848 582.04 L849 582 L850 582.35 L851 582.31 L852 582.91 L853 582.86 L854 583.07 L855 583.58 L856 584 L857 583.58 L858 584.28 L859 584.41 L860 584.56 L861 584.73 L862 584.66 L863 584.98 L864 585.18 L865 585.13 L866 585.68 L867 585.3 L868 585.74 L869 585.8 L870 585.87 L871 585.74 L872 585.83 L873 586.16 L874 585.73 L874.92 586.12 L875.85 586.27 L876.77 586.92 L877.69 587.2 L878.62 587.86 L879.54 588.15 L880.46 588.09 L881.38 588.46 L882.31 588.49 L883.23 589.25 L884.15 589.4 L885.08 589.46 L886 590.26 L887 589.71 L888 589.85 L889 590.08 L890 590.48 L891 589.91 L892 590.04 L893 590.44 L894 590.15 L895 590.6 L896 590 L897 590.18 L898 590.27 L899 590.59 L900 590.01 L901 590.35 L902 590.44 L903 590.45 L904 590.27 L905 589.69 L906 589.93 L907 589.69 L908 589.56 L909 589.59 L910 589.88 L911 589.71 L912 589.34 L913 589.85 L914 590.1 L915 591.1 L916 591.38 L917 591.58 L918 592.32 L918.73 592.97 L919.45 593.07 L920.18 593.74 L920.91 594.33 L921.64 595.27 L922.36 595.88 L923.09 596.47 L923.82 597.28 L924.55 597.75 L925.27 598.23 L926 599.12 L926.88 599.74 L927.75 599.53 L928.62 600.27 L929.5 600.45 L930.38 601.3 L931.25 601.5 L932.12 602.21 L933 602.52 L933.88 602.37 L934.75 601.76 L935.62 601.42 L936.5 601.33 L937.38 600.86 L938.25 600.19 L939.12 599.67 L940 599.9 L940.89 598.94 L941.78 599.19 L942.67 598.84 L943.56 598.29 L944.44 598.14 L945.33 597.54 L946.22 597.28 L947.11 596.82 L948 596.21 L948.86 596.62 L949.71 597.6 L950.57 597.91 L951.43 598.19 L952.29 599.01 L953.14 599.32 L954 599.83 L954.73 600.99 L955.45 601.54 L956.18 602.36 L956.91 603.13 L957.64 603.59 L958.36 604.33 L959.09 605.04 L959.82 605.72 L960.55 606.74 L961.27 607.54 L962 607.86 L962.86 608.65 L963.71 608.8 L964.57 609.16 L965.43 610.13 L966.29 610.69 L967.14 610.88 L968 611.85 L968.86 612.15 L969.71 612.37 L970.57 613.18 L971.43 613.74 L972.29 613.75 L973.14 614.79 L974 614.95 L975 614.51 L976 614.25 L977 614.02 L978 613.69 L979 613.19 L980 612.69 L980.83 612.47 L981.67 611.92 L982.5 611.29 L983.33 610.46 L984.17 610.17 L985 608.96 L985.83 608.42 L986.67 607.73 L987.5 607.49 L988.33 606.85 L989.17 606.03 L990 605.62 L991 605.29 L992 605.35 L993 606.03 L994 606.02 L995 605.48 L996 605.93 L997 605.86 L998 605.92 L999 606.17 L1000 606.06 L1001 606.31 L1001.75 606.79 L1002.5 607.62 L1003.25 607.73 L1004 608.89 L1004.75 609.21 L1005.5 610.29 L1006.25 610.87 L1007 611.66 L1007.75 612.18 L1008.5 612.59 L1009.25 613.35 L1010 614.2 L1010.67 614.42 L1011.33 615.49 L1012 616.25 L1012.67 617.09 L1013.33 617.56 L1014 618.47 L1014.67 619.3 L1015.33 619.78 L1016 620.73 L1016.67 621.62 L1017.33 621.98 L1018 622.82 L1018.67 623.52 L1019.33 624.5 L1020 624.84 L1020.8 625.51 L1021.6 626.24 L1022.4 627.09 L1023.2 627.4 L1024 628.63 L1024.8 628.96 L1025.6 629.78 L1026.4 630.22 L1027.2 630.61 L1028 631.52 L1028.86 631.14 L1029.71 630.28 L1030.57 630.39 L1031.43 629.6 L1032.29 629 L1033.14 628.18 L1034 627.82 L1034.73 627.25 L1035.45 626.83 L1036.18 625.86 L1036.91 625.44 L1037.64 624.66 L1038.36 624.23 L1039.09 623.68 L1039.82 622.92 L1040.55 622.45 L1041.27 621.72 L1042 620.71 L1042.86 621.54 L1043.71 621.85 L1044.57 622.47 L1045.43 623.02 L1046.29 623.04 L1047.14 623.82 L1048 623.81 L1048.55 624.92 L1049.09 625.29 L1049.64 626.68 L1050.18 627.23 L1050.73 628.06 L1051.27 628.91 L1051.82 629.64 L1052.36 630.36 L1052.91 631.5 L1053.45 632.27 L1054 632.69 L1054.46 633.69 L1054.92 634.99 L1055.38 635.39 L1055.85 636.24 L1056.31 637.29 L1056.77 637.99 L1057.23 639.24 L1057.69 640.11 L1058.15 640.36 L1058.62 641.27 L1059.08 642.08 L1059.54 643.12 L1060 642.38 L1060.4 643.36 L1060.8 644.52 L1061.2 645.24 L1061.6 646.71 L1062 648.4 L1062.4 650.16 L1062.8 651.54 L1063.2 653.04 L1063.6 654 L1064 654.96 L1064.4 655.59 L1064.8 655.89 L1065.2 655.72 L1065.6 656.17 L1066 656.27 L1066.5 657.21 L1067 658.46 L1067.5 659.92 L1068 661.08 L1068.5 662.78 L1069 664.75 L1069.5 665.67 L1070 666.32 L1070.5 666.05 L1071 666.42 L1071.5 665.98 L1072 666.69 L1072.86 667.05 L1073.71 668.23 L1074.57 669.9 L1075.43 671.57 L1076.29 671.65 L1077.14 670.4 L1078 669.43 L1078.86 669.78 L1079.71 671.69 L1080.57 673.74 L1081.43 674.54 L1082.29 674.39 L1083.14 674.01 L1084 672.88 L1084.25 671.79 L1084.5 670.72 L1084.75 670.14 L1085 669.57 L1085.25 668.55 L1085.5 668.25 L1085.75 667.42 L1086 666.95 L1087 668.35 L1088 668.14 L1089 666.18 L1090 664.34 L1091 664.09 L1092 665.29 L1092.67 667.08 L1093.33 668.03 L1094 668.39 L1094.67 667.9 L1095.33 667.77 L1096 667.43 L1096.6 666.16 L1097.2 666.48 L1097.8 666.11 L1098.4 666.79 L1099 666.13 L1099.6 665.79 L1100.2 664.86 L1100.8 663.07 L1101.4 661.23 L1102 659.52 L1102.73 658.43 L1103.45 659.04 L1104.18 659.6 L1104.91 659.82 L1105.64 659.54 L1106.36 658.45 L1107.09 656.38 L1107.82 654.61 L1108.55 653.56 L1109.27 653.63 L1110 654.16 L1110.75 654.34 L1111.5 654.39 L1112.25 652.86 L1113 651.12 L1113.75 648.96 L1114.5 648.08 L1115.25 647.86 L1116 648.19 L1116.75 648.49 L1117.5 648.35 L1118.25 647.28 L1119 645.57 L1119.75 643.35 L1120.5 642.58 L1121.25 642.72 L1122 642.69 L1122.89 644.3 L1123.78 644.01 L1124.67 642.93 L1125.56 640.89 L1126.44 639.79 L1127.33 640.08 L1128.22 641 L1129.11 641.63 L1130 641.72 L1130.92 640.02 L1131.85 638.07 L1132.77 637.02 L1133.69 637.92 L1134.62 639.11 L1135.54 637.6 L1136.46 637.3 L1137.38 636.89 L1138.31 636.87 L1139.23 636.24 L1140.15 636.1 L1141.08 635.67 L1142 634.77 L1142.67 634.41 L1143.33 633.36 L1144 632.73 L1144.67 631.93 L1145.33 631.28 L1146 630.19 L1146.67 629.68 L1147.33 628.69 L1148 628.2 L1148.71 627.28 L1149.43 626.67 L1150.14 626.2 L1150.86 624.99 L1151.57 624.08 L1152.29 623.99 L1153 623.02 L1153.71 622.39 L1154.43 621.8 L1155.14 621.13 L1155.86 620.06 L1156.57 619.77 L1157.29 618.64 L1158 618.16 L1158.73 617.6 L1159.45 616.63 L1160.18 616.03 L1160.91 615.36 L1161.64 614.71 L1162.36 614.12 L1163.09 613.79 L1163.82 612.6 L1164.55 612.62 L1165.27 611.84 L1166 611.04 L1166.67 610.32 L1167.33 609.3 L1168 608.85 L1168.67 608.15 L1169.33 607.03 L1170 606.33 L1170.67 605.36 L1171.33 604.6 L1172 604.25 L1173 603.77 L1174 603.3 L1175 603.1 L1176 602.45 L1177 601.99 L1178 601.9 L1179 602.3 L1180 602.28 L1181 602.78 L1182 602.88 L1183 603.08 L1184 603.67 L1185 603.65 L1186 604.17 L1186.75 604.92 L1187.5 605.41 L1188.25 606.47 L1189 609.06 L1189.75 609.81 L1190.5 609.61 L1191.25 608.84 L1192 608.22 L1192.86 608.9 L1193.71 610.18 L1194.57 613.23 L1195.43 614.46 L1196.29 614.22 L1197.14 613.4 L1198 612.46 L1199 612.25 L1200 613.66 L1201 615.91 L1202 615.76 L1203 614.05 L1204 612.41 L1204.86 612.22 L1205.71 614.48 L1206.57 616.34 L1207.43 617.63 L1208.29 617.25 L1209.14 615.98 L1210 615.02 L1210.86 615.64 L1211.71 617.83 L1212.57 619.67 L1213.43 621.23 L1214.29 621.2 L1215.14 620.21 L1216 619.08 L1216.67 619.83 L1217.33 620.96 L1218 623.01 L1218.67 625.52 L1219.33 627.11 L1220 627.23 L1220.67 626.85 L1221.33 626.62 L1222 625.88 L1222.6 627.01 L1223.2 628.17 L1223.8 629.73 L1224.4 631.99 L1225 633.51 L1225.6 634.6 L1226.2 635.06 L1226.8 635.1 L1227.4 634.63 L1228 634.36 L1228.6 634.81 L1229.2 636.1 L1229.8 637.97 L1230.4 640.16 L1231 641.82 L1231.6 642.82 L1232.2 643.4 L1232.8 642.7 L1233.4 642.28 L1234 642.31 L1234.57 643.09 L1235.14 643.96 L1235.71 645.91 L1236.29 647.98 L1236.86 649.72 L1237.43 651.14 L1238 652.02 L1238.83 650.65 L1239.67 649.63 L1240.5 649.25 L1241.33 650.7 L1242.17 653.06 L1243 654.55 L1243.38 654.2 L1243.75 653.06 L1244.12 652.14 L1244.5 650.67 L1244.88 648.7 L1245.25 647.02 L1245.62 645.46 L1246 644.06 L1246.67 643.54 L1247.33 643.58 L1248 644.2 L1248.67 644.61 L1249.33 644.7 L1250 643.61 L1250.57 642.03 L1251.14 640.29 L1251.71 637.71 L1252.29 636.45 L1252.86 635.55 L1253.43 635.92 L1254 635.86 L1254.83 637.1 L1255.67 636.75 L1256.5 635.68 L1257.33 633.29 L1258.17 631.74 L1259 631.34 L1259.83 633.31 L1260.67 635.18 L1261.5 636.43 L1262.33 636.42 L1263.17 634.82 L1264 634.49 L1264.4 635 L1264.8 635.86 L1265.2 637.14 L1265.6 638.58 L1266 640.7 L1266.4 642.65 L1266.8 643.83 L1267.2 645.18 L1267.6 646.62 L1268 647.13 L1268.4 647.71 L1268.8 647.57 L1269.2 648.03 L1269.6 648.09 L1270 648.06 L1270.4 648.87 L1270.8 649.93 L1271.2 651.2 L1271.6 653.1 L1272 654.81 L1272.4 656.68 L1272.8 657.92 L1273.2 659.47 L1273.6 660.52 L1274 661.21 L1274.4 661.16 L1274.8 661.86 L1275.2 661.66 L1275.6 661.59 L1276 662.43 L1276.46 662.86 L1276.92 664.12 L1277.38 665.68 L1277.85 667.44 L1278.31 669.57 L1278.77 670.74 L1279.23 672.36 L1279.69 673.21 L1280.15 674.03 L1280.62 673.86 L1281.08 673.65 L1281.54 673.7 L1282 673.95 L1282.5 674.76 L1283 675.82 L1283.5 677.43 L1284 678.99 L1284.5 681.24 L1285 682.65 L1285.5 683.65 L1286 684.18 L1286.5 684.31 L1287 684.26 L1287.5 683.88 L1288 684.16 L1288.86 684.38 L1289.71 686.69 L1290.57 689.16 L1291.43 690.26 L1292.29 689.99 L1293.14 689.44 L1294 687.89 L1294.89 688.51 L1295.78 690.36 L1296.67 692.34 L1297.56 693.7 L1298.44 692.57 L1299.33 691.44 L1300.22 690.61 L1301.11 691.26 L1302 693.24 L1303 694.52 L1304 694.33 L1305 692.49 L1306 690.1 L1307 689.76 L1308 691.17 L1309 692.86 L1310 692.57 L1310.91 691.95 L1311.82 690.19 L1312.73 690.22 L1313.64 692.37 L1314.55 694.54 L1315.45 695.78 L1316.36 695.2 L1317.27 693.95 L1318.18 692.96 L1319.09 694.15 L1320 695.94 L1320.92 698.44 L1321.85 698.57 L1322.77 697.34 L1323.69 696.43 L1324.62 695.54 L1325.54 697.53 L1326.46 699.73 L1327.38 701.01 L1328.31 701.09 L1329.23 699.29 L1330.15 700.57 L1331.08 700.66 L1332 701.31 L1333 701 L1334 700.31 L1335 700.23 L1336 699.96 L1337 699.61 L1338 698.87 L1339 700.85 L1340 700.6 L1341 698.09 L1342 695.9 L1342.89 695.21 L1343.78 696.44 L1344.67 697.41 L1345.56 698.12 L1346.44 696.32 L1347.33 694.3 L1348.22 692.26 L1349.11 691.82 L1350 692.78 L1350.75 695.06 L1351.5 696.42 L1352.25 696.61 L1353 695.77 L1353.75 694.52 L1354.5 694.32 L1355.25 696.01 L1356 698.13 L1356.67 700.23 L1357.33 701.84 L1358 702.37 L1358.67 701.92 L1359.33 701.4 L1360 700.59 L1360.67 701.69 L1361.33 702.99 L1362 704.72 L1362.89 707.01 L1363.78 708.22 L1364.67 707.25 L1365.56 706.37 L1366.44 705.53 L1367.33 706.97 L1368.22 709.38 L1369.11 711.68 L1370 711.68 L1370.82 711.31 L1371.64 710.13 L1372.45 709.86 L1373.27 711.41 L1374.09 713.65 L1374.91 715.7 L1375.73 716.53 L1376.55 715.73 L1377.36 714.75 L1378.18 714.48 L1379 714.91 L1379.78 716.06 L1380.56 716.94 L1381.33 717.32 L1382.11 716.69 L1382.89 714.7 L1383.67 712.49 L1384.44 710.98 L1385.22 711.05 L1386 712.34 L1386.6 712.73 L1387.2 712.47 L1387.8 711.3 L1388.4 710.32 L1389 707.68 L1389.6 705.7 L1390.2 704.51 L1390.8 703.39 L1391.4 703.74 L1392 704.13 L1392.2 703.2 L1392.4 703.14 L1392.6 702.58 L1392.8 701.67 L1393 701.16 L1393.2 700.21 L1393.4 699.07 L1393.6 698.32 L1393.8 697.3 L1394 695.96 L1394.46 693.91 L1394.92 692.23 L1395.38 690.55 L1395.85 688.59 L1396.31 689.15 L1396.77 688.43 L1397.23 687.29 L1397.69 686.6 L1398.15 685.41 L1398.62 684.93 L1399.08 683.65 L1399.54 683.23 L1400 681.73 L1400.6 681.33 L1401.2 680.58 L1401.8 679.51 L1402.4 679.05 L1403 678.23 L1403.6 677.52 L1404.2 676.46 L1404.8 675.9 L1405.4 675.4 L1406 674.48 L1407 674.49 L1408 674.82 L1409 675.47 L1410 675.15 L1411 675.72 L1412 676.01 L1412.73 676.68 L1413.45 677.11 L1414.18 677.91 L1414.91 679.15 L1415.64 679.6 L1416.36 680.22 L1417.09 681.06 L1417.82 681.5 L1418.55 682.25 L1419.27 683.5 L1420 684.18 L1420.86 684.22 L1421.71 684.73 L1422.57 684.99 L1423.43 685.59 L1424.29 686.16 L1425.14 686.75 L1426 687 L1427 687.01 L1428 686.88 L1429 686.35 L1430 685.75 L1431 685.58 L1432 685.72 L1432.55 684.47 L1433.09 684.13 L1433.64 682.67 L1434.18 681.8 L1434.73 681.58 L1435.27 680.3 L1435.82 679.53 L1436.36 678.69 L1436.91 677.48 L1437.45 676.76 L1438 675.91 L1438.67 675.39 L1439.33 674.64 L1440 673.8 L1440.67 672.67 L1441.33 672.08 L1442 671.62 L1442.67 670.33 L1443.33 669.67 L1444 669.08 L1444.89 669.01 L1445.78 668 L1446.67 668.13 L1447.56 667.64 L1448.44 667.35 L1449.33 667.24 L1450.22 666.38 L1451.11 666.4 L1452 665.87 L1452.89 666.51 L1453.78 666.82 L1454.67 666.94 L1455.56 667.09 L1456.44 667.85 L1457.33 668.14 L1458.22 668.38 L1459.11 668.84 L1460 669.31 L1461 668.82 L1462 669.13 L1463 669.21 L1464 668.84 L1465 669.28 L1466 668.87 L1467 669.32 L1468 669.06 L1469 669.33 L1470 669.27 L1471 669.2 L1472 668.91 L1472.75 668.35 L1473.5 667.81 L1474.25 667.34 L1475 666.44 L1475.75 666.15 L1476.5 665.05 L1477.25 664.64 L1478 663.75 L1478.67 662.99 L1479.33 662.3 L1480 661.35 L1480.67 660.94 L1481.33 660.2 L1482 659.26 L1482.67 658.76 L1483.33 657.81 L1484 657.13 L1484.57 655.92 L1485.14 655.31 L1485.71 654.31 L1486.29 653.62 L1486.86 653.32 L1487.43 652.03 L1488 651.57 L1488.57 650.63 L1489.14 650.05 L1489.71 649.4 L1490.29 648.59 L1490.86 647.9 L1491.43 647.11 L1492 645.93 L1492.62 645.57 L1493.23 644.65 L1493.85 643.54 L1494.46 642.8 L1495.08 642.17 L1495.69 641.63 L1496.31 640.33 L1496.92 640.12 L1497.54 639.2 L1498.15 638.37 L1498.77 637.47 L1499.38 636.69 L1500 635.93 L1500.56 635.32 L1501.11 634.29 L1501.67 633.65 L1502.22 632.93 L1502.78 631.54 L1503.33 630.66 L1503.89 630.48 L1504.44 629.12 L1505 628.72 L1505.56 627.6 L1506.11 626.64 L1506.67 625.66 L1507.22 625.12 L1507.78 624.4 L1508.33 623.19 L1508.89 622.32 L1509.44 621.68 L1510 621.27 L1510.62 620.36 L1511.25 619.2 L1511.88 618.49 L1512.5 617.69 L1513.12 617.08 L1513.75 615.97 L1514.38 615.21 L1515 614.5 L1515.62 613.5 L1516.25 612.83 L1516.88 612.24 L1517.5 611.25 L1518.12 610.13 L1518.75 609.52 L1519.38 608.86 L1520 607.81 L1520.62 607.17 L1521.25 606.54 L1521.88 605.66 L1522.5 604.78 L1523.12 604.51 L1523.75 603.2 L1524.38 603.03 L1525 601.72 L1525.62 601.29 L1526.25 600.53 L1526.88 599.69 L1527.5 599.09 L1528.12 598.52 L1528.75 597.37 L1529.38 596.44 L1530 595.79 L1530.62 595.51 L1531.25 594.57 L1531.88 593.93 L1532.5 592.92 L1533.12 592.13 L1533.75 591.63 L1534.38 590.8 L1535 590.29 L1535.62 589.01 L1536.25 588.39 L1536.88 587.88 L1537.5 587.28 L1538.12 586.23 L1538.75 585.7 L1539.38 584.48 L1540 584.1 L1540.71 583.17 L1541.43 582.71 L1542.14 581.72 L1542.86 580.92 L1543.57 580.27 L1544.29 579.87 L1545 579.15 L1545.71 578.57 L1546.43 577.51 L1547.14 576.55 L1547.86 576.36 L1548.57 575.26 L1549.29 574.87 L1550 573.99 L1550.91 573.51 L1551.82 572.76 L1552.73 572.45 L1553.64 572.36 L1554.55 571.7 L1555.45 571.54 L1556.36 571.03 L1557.27 570.39 L1558.18 570.25 L1559.09 569.11 L1560 568.93 L1560.86 568.59 L1561.71 567.83 L1562.57 567.97 L1563.43 567.04 L1564.29 566.91 L1565.14 566.27 L1566 565.92 L1566.73 565.34 L1567.45 564.58 L1568.18 563.86 L1568.91 563.57 L1569.64 562.91 L1570.36 561.89 L1571.09 561.88 L1571.82 560.63 L1572.55 560.08 L1573.27 559.48 L1574 558.91 L1574.73 558.36 L1575.45 558.01 L1576.18 556.81 L1576.91 556.51 L1577.64 555.91 L1578.36 555.01 L1579.09 554.44 L1579.82 553.87 L1580.55 553.54 L1581.27 552.83 L1582 551.99 L1582.89 551.21 L1583.78 550.92 L1584.67 550.76 L1585.56 550 L1586.44 549.48 L1587.33 549.16 L1588.22 548.26 L1589.11 548.19 L1590 547.73 L1591 547.13 L1592 547.14 L1593 547.25 L1594 546.63 L1595 546.62 L1596 546.29 L1597 546.24 L1598 545.92 L1599 545.69 L1600 545.9 L1601 545.65 L1602 545.79 L1603 545.24 L1604 545.26 L1605 545.11 L1606 545.38 L1607 544.95 L1608 545.09 L1609 544.65 L1610 544.83 L1611 544.56 L1612 544.93 L1613 544.47 L1614 544.8 L1615 544.45 L1616 544.21 L1617 544.28 L1618 544.46 L1619 544.22 L1620 544.23 L1621 544.09 L1622 544.16 L1623 543.87 L1624 544.39 L1625 544.3 L1626 544.34 L1627 544.14 L1628 544.5 L1629 544.38 L1630 544.27 L1631 544.9 L1632 544.91 L1633 545.01 L1634 545.28 L1635 545.34 L1636 545.28 L1637 545.84 L1638 545.96 L1639 545.96 L1640 545.95 L1641 546.08 L1642 545.85 L1643 546.52 L1644 546.56 L1645 546.48 L1646 546.48 L1647 546.8 L1648 546.33 L1649 546.68 L1650 546.66 L1651 546.99 L1652 546.9 L1653 547.01 L1654 547.15 L1655 546.75 L1656 546.48 L1657 546.35 L1658 546.86 L1659 546.54 L1660 546.46 L1661 546.11 L1662 546.1 L1663 545.96 L1664 546.53 L1665 545.87 L1666 546 L1667 546.04 L1668 546.05 L1669 545.79 L1670 546.07 L1671 546.04 L1672 546.27 L1673 545.62 L1674 545.75 L1675 545.59 L1676 545.71 L1677 545.64 L1678 545.49 L1679 546.02 L1680 545.62 L1681 545.94 L1682 545.97 L1683 545.93 L1684 545.38 L1685 545.75 L1686 545.92 L1687 545.75 L1688 545.71 L1689 545.57 L1690 545.83 L1691 545.66 L1692 545.58 L1693 545.72 L1694 545.74 L1695 545.58 L1696 545.96 L1697 546.11 L1698 546.03 L1699 545.62 L1700 545.93 L1701 546.12 L1702 545.61 L1703 545.81 L1704 545.87 L1705 545.7 L1706 545.49 L1707 545.21 L1708 545.63 L1709 545.18 L1710 545.42 L1711 545.31 L1712 545.38 L1713 544.89 L1714 545.43 L1715 545.2 L1716 545.23 L1717 544.68 L1718 545.1 L1719 544.91 L1720 545.19 L1721 545.24 L1722 545.09 L1723 545.51 L1724 545.21 L1725 545.28 L1726 545.5 L1727 545.16 L1728 545.73 L1729 545.38 L1730 545.82 L1731 545.35 L1732 545.39 L1733 545.76 L1734 545.57 L1735 545.76 L1736 545.64 L1737 546.06 L1738 546.12 L1739 546.13 L1740 545.79 L1741 545.78 L1742 546.21 L1743 545.91 L1744 546.4 L1745 546.33 L1746 546.65 L1747 546.62 L1748 546.56 L1749 546.73 L1750 546.56 L1751 546.45 L1751.98 546.21 L1752.96 546.57 L1753.94 546.46 L1754.92 546.35 L1755.9 546.19 L1756.88 546.06 L1757.87 546.3 L1758.85 545.84 L1759.83 545.59 L1760.81 546.07 L1761.79 545.85 L1762.77 545.86 L1763.75 545.84 L1764.73 545.37 L1765.71 545.09 L1766.69 545.24 L1767.67 545.15 L1768.65 545 L1769.63 545.19 L1770.62 544.73 L1771.6 545.15 L1772.58 544.54 L1773.56 544.5 L1774.54 544.8 L1775.52 544.3 L1776.5 544.56 L1777.48 544.3 L1778.46 544.46 L1779.44 544.56 L1780.42 544.47 L1781.4 544.93 L1782.38 545.08 L1783.37 545.13 L1784.35 544.65 L1785.33 544.62 L1786.31 544.97 L1787.29 545.25 L1788.27 545.17 L1789.25 545.52 L1790.23 545.6 L1791.21 545.45 L1792.19 545.22 L1793.17 545.38 L1794.15 545.2 L1795.13 545.49 L1796.12 545.81 L1797.1 545.56 L1798.08 545.53 L1799.06 545.84 L1800.04 546.15 L1801.02 546.04 L1802 545.73 L1803 545.99 L1804 545.88 L1805 546.32 L1806 546.08 L1807 546.14 L1808 546.48 L1809 546.1 L1810 546.25 L1811 546.65 L1812 546.22 L1813 546.42 L1814 546.53 L1815 546.34 L1816 546.58 L1817 546.47 L1818 546.8 L1819 546.64 L1820 546.66 L1821 546.46 L1822 546.45 L1823 546.14 L1824 545.88 L1825 545.93 L1826 545.81 L1827 545.5 L1828 545.93 L1829 545.66 L1830 545.54 L1831 545.6 L1832 545.06 L1833 545 L1834 545.32 L1835 544.75 L1836 545.24 L1837 544.89 L1838 545.11 L1839 544.94 L1840 544.53 L1841 544.39 L1842 544.5 L1843 544.77 L1844 544.6 L1845 544.82 L1846 545.05 L1847 544.92 L1848 544.8 L1849 545 L1850 544.87 L1851 544.97 L1852 544.9 L1853 545.3 L1854 545.38 L1855 545.13 L1856 545.16 L1857 544.88 L1858 545.25 L1859 545.55 L1860 545.11 L1861 545.52 L1862 545.2 L1863 545.56 L1864 545.3 L1865 545.56 L1866 545.73 L1867 545.25 L1868 545.86 L1869 545.68 L1870 545.52 L1870.98 545.53 L1871.97 545.68 L1872.95 545.78 L1873.94 545.35 L1874.92 545.25 L1875.91 545.33 L1876.89 545.58 L1877.88 545.39 L1878.86 545.61 L1879.85 545.55 L1880.83 545.27 L1881.82 545.39 L1882.8 545.05 L1883.78 545.35 L1884.77 545.34 L1885.75 545.02 L1886.74 545.29 L1887.72 544.89 L1888.71 545.45 L1889.69 545.12 L1890.68 545.35 L1891.66 545.14 L1892.65 544.79 L1893.63 545.12 L1894.62 545.01 L1895.6 544.81 L1896.62 545.1 L1897.63 545.22 L1898.65 545.23 L1899.66 544.97 L1900.68 545.57 L1901.7 545.59 L1902.71 545.33 L1903.73 545.74 L1904.74 545.86 L1905.76 545.47 L1906.78 545.43 L1907.79 545.54 L1908.81 545.78 L1909.82 545.6 L1910.84 545.74 L1911.86 546.15 L1912.87 545.72 L1913.89 546.2 L1914.9 546.13 L1915.92 546.41 L1916.94 546.16 L1917.95 546.38 L1918.97 546.26 L1919.98 546.19 L1921 546.86 L1921.98 546.45 L1922.97 546.35 L1923.95 546.74 L1924.94 546.29 L1925.92 546.36 L1926.91 546.03 L1927.89 546.16 L1928.88 546.43 L1929.86 546.34 L1930.85 546.28 L1931.83 546.3 L1932.82 545.77 L1933.8 545.59 L1934.78 545.59 L1935.77 545.9 L1936.75 545.77 L1937.74 545.59 L1938.72 545.78 L1939.71 545.38 L1940.69 545.6 L1941.68 545.41 L1942.66 545.16 L1943.65 545.55 L1944.63 545.09 L1945.62 545.46 L1946.6 545.38 L1947.62 545.19 L1948.63 545.23 L1949.65 545.09 L1950.66 545.08 L1951.68 545.5 L1952.7 545.3 L1953.71 545.47 L1954.73 545.36 L1955.74 545.32 L1956.76 545.28 L1957.78 545.74 L1958.79 545.54 L1959.81 545.37 L1960.82 545.91 L1961.84 545.44 L1962.86 545.52 L1963.87 545.5 L1964.89 545.82 L1965.9 546 L1966.92 545.51 L1967.94 546.17 L1968.95 546.05 L1969.97 546.17 L1970.98 545.91 L1972 545.96 L1973 545.72 L1974 545.83 L1975 546.26 L1976 545.85 L1977 546.28 L1978 546.23 L1979 546.29 L1980 545.75 L1981 545.95 L1982 546.23 L1983 545.87 L1984 545.82 L1985 545.66 L1986 546.02 L1987 546.04 L1988 545.8 L1989 545.83 L1990 546.09 L1991 545.77 L1992 546.2 L1993 546.26 L1994 545.94 L1995 545.74 L1996 546.05 L1997 545.86 L1998 545.72 L1999 546.15 L2000 546.04 L2001 545.84 L2002 545.82 L2003 546.16 L2004 546.29 L2005 545.9 L2006 546.06 L2007.01 545.78 L2008.03 545.93 L2009.04 545.99 L2010.06 545.77 L2011.07 545.96 L2012.09 545.9 L2013.1 545.52 L2014.12 545.56 L2015.13 545.74 L2016.15 545.53 L2017.16 545.79 L2018.18 545.8 L2019.19 545.8 L2020.21 545.96 L2021.22 545.74 L2022.24 545.83 L2023.25 545.35 L2024.27 545.86 L2025.28 545.88 L2026.3 545.62 L2027.31 545.76 L2028.33 545.55 L2029.34 545.44 L2030.36 545.23 L2031.37 545.43 L2032.39 545.57 L2033.4 545.61" fill="none" stroke="#ff00ff" stroke-width="2.5" stroke-linejoin="round" clip-path="url(#c1)" />
<path d="M260.8 1122.36H2033.6M260.8 1109.02H2033.6M260.8 1095.68H2033.6M260.8 1082.34H2033.6M260.8 1055.66H2033.6M260.8 1042.32H2033.6M260.8 1028.98H2033.6M260.8 1015.64H2033.6M260.8 988.96H2033.6M260.8 975.62H2033.6M260.8 962.28H2033.6M260.8 948.94H2033.6M260.8 922.26H2033.6M260.8 908.92H2033.6M260.8 895.58H2033.6M319.89 882.5V1135.7M378.99 882.5V1135.7M438.08 882.5V1135.7M497.17 882.5V1135.7M615.36 882.5V1135.7M674.45 882.5V1135.7M733.55 882.5V1135.7M792.64 882.5V1135.7M910.83 882.5V1135.7M969.92 882.5V1135.7M1029.01 882.5V1135.7M1088.11 882.5V1135.7M1206.29 882.5V1135.7M1265.39 882.5V1135.7M1324.48 882.5V1135.7M1383.57 882.5V1135.7M1501.76 882.5V1135.7M1560.85 882.5V1135.7M1619.95 882.5V1135.7M1679.04 882.5V1135.7M1797.23 882.5V1135.7M1856.32 882.5V1135.7M1915.41 882.5V1135.7M1974.51 882.5V1135.7" stroke="#262626" stroke-opacity="0.028" stroke-width="2.2" fill="none"/>
<path d="M260.8 1069H2033.6M260.8 1002.3H2033.6M260.8 935.6H2033.6M556.27 882.5V1135.7M851.73 882.5V1135.7M1147.2 882.5V1135.7M1442.67 882.5V1135.7M1738.13 882.5V1135.7" stroke="#262626" stroke-opacity="0.14" stroke-width="2.2" fill="none"/>
<path d="M319.89 882.5v8.9M319.89 1135.7v-8.9M378.99 882.5v8.9M378.99 1135.7v-8.9M438.08 882.5v8.9M438.08 1135.7v-8.9M497.17 882.5v8.9M497.17 1135.7v-8.9M556.27 882.5v17.4M556.27 1135.7v-17.4M615.36 882.5v8.9M615.36 1135.7v-8.9M674.45 882.5v8.9M674.45 1135.7v-8.9M733.55 882.5v8.9M733.55 1135.7v-8.9M792.64 882.5v8.9M792.64 1135.7v-8.9M851.73 882.5v17.4M851.73 1135.7v-17.4M910.83 882.5v8.9M910.83 1135.7v-8.9M969.92 882.5v8.9M969.92 1135.7v-8.9M1029.01 882.5v8.9M1029.01 1135.7v-8.9M1088.11 882.5v8.9M1088.11 1135.7v-8.9M1147.2 882.5v17.4M1147.2 1135.7v-17.4M1206.29 882.5v8.9M1206.29 1135.7v-8.9M1265.39 882.5v8.9M1265.39 1135.7v-8.9M1324.48 882.5v8.9M1324.48 1135.7v-8.9M1383.57 882.5v8.9M1383.57 1135.7v-8.9M1442.67 882.5v17.4M1442.67 1135.7v-17.4M1501.76 882.5v8.9M1501.76 1135.7v-8.9M1560.85 882.5v8.9M1560.85 1135.7v-8.9M1619.95 882.5v8.9M1619.95 1135.7v-8.9M1679.04 882.5v8.9M1679.04 1135.7v-8.9M1738.13 882.5v17.4M1738.13 1135.7v-17.4M1797.23 882.5v8.9M1797.23 1135.7v-8.9M1856.32 882.5v8.9M1856.32 1135.7v-8.9M1915.41 882.5v8.9M1915.41 1135.7v-8.9M1974.51 882.5v8.9M1974.51 1135.7v-8.9M260.8 1069h19.2M2033.6 1069h-19.2M260.8 1002.3h19.2M2033.6 1002.3h-19.2M260.8 935.6h19.2M2033.6 935.6h-19.2" stroke="#363636" stroke-width="2.6" fill="none"/>
<rect x="260.8" y="882.5" width="1772.8" height="253.2" fill="none" stroke="#363636" stroke-width="2.6"/>
<text x="240.5" y="1154" text-anchor="end" font-size="50.0" fill="#262626">0</text>
<text x="240.5" y="1087.3" text-anchor="end" font-size="50.0" fill="#262626">0.5</text>
<text x="240.5" y="1020.6" text-anchor="end" font-size="50.0" fill="#262626">1</text>
<text x="240.5" y="953.9" text-anchor="end" font-size="50.0" fill="#262626">1.5</text>
<path d="M261.4 1004.2 L261.55 1003.65 L261.85 1003.56 L262.62 1002.22 L263.4 1001.13 L264.18 1001.17 L264.95 1001.52 L265.73 1002.3 L266.5 1002.25 L267.32 1001.99 L268.14 1001.94 L268.95 1000.58 L269.77 1000.62 L270.59 1000.44 L271.41 1000.62 L272.23 1001.52 L273.05 1001.81 L273.86 1000.75 L274.68 1000.53 L275.5 999.05 L276.29 999.07 L277.08 999.93 L277.88 1000.6 L278.67 1000.79 L279.46 1000.73 L280.25 999.28 L281.04 998.34 L281.83 998.44 L282.62 998.52 L283.42 999.16 L284.21 999.62 L285 999.99 L285.77 998.84 L286.54 998.36 L287.31 997.64 L288.08 997.32 L288.85 998.32 L289.62 998.31 L290.38 998.64 L291.15 998.27 L291.92 997.99 L292.69 997.17 L293.46 996.43 L294.23 996.32 L295 997.29 L295.78 997.62 L296.56 997.94 L297.34 997.57 L298.12 996.17 L298.91 995.51 L299.69 996 L300.47 996.41 L301.25 996.33 L302.03 996.86 L302.81 996.91 L303.59 996.61 L304.38 995.31 L305.16 995.38 L305.94 994.67 L306.72 995.94 L307.5 995.76 L308.29 996.45 L309.08 996.39 L309.87 995.37 L310.66 994.82 L311.45 994.09 L312.24 995 L313.03 995.59 L313.82 995.47 L314.61 995.8 L315.39 995.27 L316.18 993.82 L316.97 993.49 L317.76 993.93 L318.55 994.32 L319.34 995.22 L320.13 994.96 L320.92 994.54 L321.71 993.49 L322.5 992.88 L323.32 993.27 L324.14 993.18 L324.96 994.45 L325.79 994.76 L326.61 994.31 L327.43 993.33 L328.25 992.3 L329.07 992.13 L329.89 993.14 L330.71 993.95 L331.54 994.44 L332.36 993.71 L333.18 993.62 L334 992.37 L334.8 991.98 L335.6 992.76 L336.4 993.38 L337.2 993.9 L338 993.68 L338.8 993.06 L339.6 992.39 L340.4 991.94 L341.2 991.94 L342 992.87 L342.77 993.42 L343.54 993.79 L344.31 994.27 L345.08 993.26 L345.85 992.33 L346.62 992.12 L347.38 992.96 L348.15 993.24 L348.92 994.44 L349.69 994.24 L350.46 994.35 L351.23 993.86 L352 993.27 L352.8 993.02 L353.6 994.2 L354.4 995.2 L355.2 995.68 L356 995.82 L356.8 995.37 L357.6 994.24 L358.4 994.21 L359.2 994.51 L360 995.69 L360.8 995.9 L361.6 996.23 L362.4 996.1 L363.2 995.58 L364 995.6 L364.8 995.17 L365.6 995.58 L366.4 996.76 L367.2 997.67 L368 996.82 L368.8 996.61 L369.6 996.13 L370.4 996.28 L371.2 996.36 L372 997.45 L372.8 998.42 L373.6 998.52 L374.4 997.69 L375.2 996.86 L376 996.86 L376.8 997.25 L377.6 997.99 L378.4 998.77 L379.2 998.83 L380 998.84 L380.8 997.87 L381.6 997.28 L382.4 997.24 L383.2 998.28 L384 998.77 L384.8 999.39 L385.6 999.32 L386.4 998.82 L387.2 998.26 L388 998.6 L388.8 998.65 L389.6 999.49 L390.4 1000.04 L391.2 1000.33 L392 1000.14 L392.8 999.23 L393.6 998.85 L394.4 998.94 L395.2 999.52 L396 1000.34 L396.8 1000.61 L397.6 1000.55 L398.4 999.71 L399.2 999.52 L400 999.65 L400.8 999.81 L401.6 1001.2 L402.4 1001.49 L403.2 1001.62 L404 1000.9 L404.8 1000.58 L405.6 1000.23 L406.4 1000.09 L407.2 1001.26 L408 1001.71 L408.8 1002.36 L409.6 1001.64 L410.4 1000.84 L411.2 1000.22 L412 1001.21 L412.8 1001.1 L413.6 1002.02 L414.4 1003.07 L415.2 1002.1 L416 1001.8 L416.8 1001.24 L417.6 1001.36 L418.4 1001.95 L419.2 1002.94 L420 1002.97 L420.8 1002.79 L421.6 1002.39 L422.4 1001.52 L423.2 1001.42 L424 1002.01 L424.8 1002.99 L425.6 1003.01 L426.4 1003.43 L427.2 1003.65 L428 1002.7 L428.8 1002.02 L429.6 1001.76 L430.4 1002.35 L431.2 1003.29 L432 1004.13 L432.8 1003.51 L433.6 1003.3 L434.4 1002.95 L435.2 1002.02 L436 1002.69 L436.8 1003.59 L437.6 1004.42 L438.4 1004.65 L439.2 1004.13 L440 1003.23 L440.8 1002.72 L441.6 1003.17 L442.4 1003.7 L443.2 1004.87 L444 1004.85 L444.8 1004.62 L445.6 1004.01 L446.4 1003.27 L447.2 1003.23 L448 1003.92 L448.8 1004.65 L449.6 1005.54 L450.4 1004.86 L451.2 1004.45 L452 1004.21 L452.8 1003.79 L453.6 1003.89 L454.4 1004.41 L455.2 1004.98 L456 1005.38 L456.8 1004.97 L457.6 1004.28 L458.4 1003.65 L459.2 1003.95 L460 1004.68 L460.8 1005.01 L461.6 1005.9 L462.4 1005.73 L463.2 1004.61 L464 1004.03 L464.8 1003.69 L465.6 1004.54 L466.4 1005.5 L467.2 1005.84 L468 1006.01 L468.8 1005.48 L469.6 1004.28 L470.4 1003.92 L471.2 1004.58 L472 1005.66 L472.8 1006.17 L473.6 1006.19 L474.4 1005.66 L475.2 1004.84 L476 1004.76 L476.8 1004.88 L477.6 1005.12 L478.4 1005.62 L479.2 1006.25 L480 1006.49 L480.8 1005.92 L481.6 1004.92 L482.4 1005.13 L483.2 1005.07 L484 1005.49 L484.8 1006.28 L485.6 1006.98 L486.4 1006.32 L487.2 1005.05 L488 1004.79 L488.8 1005.05 L489.6 1005.8 L490.4 1006.12 L491.2 1007.24 L492 1006.59 L492.8 1005.66 L493.6 1004.86 L494.4 1005.27 L495.2 1006.11 L496 1006.69 L496.8 1007.33 L497.6 1007.27 L498.4 1006.49 L499.2 1005.25 L500 1005.18 L500.8 1005.73 L501.6 1006.31 L502.4 1006.79 L503.2 1006.82 L504 1007.09 L504.8 1006.19 L505.6 1005.36 L506.4 1005.6 L507.2 1006.57 L508 1006.67 L508.8 1007.48 L509.6 1006.89 L510.4 1006.83 L511.2 1006.09 L512 1006.07 L512.8 1006.01 L513.6 1006.88 L514.4 1007.28 L515.2 1007.31 L516 1007.29 L516.8 1006.6 L517.6 1006.24 L518.4 1006.4 L519.2 1006.72 L520 1007.57 L520.79 1008.03 L521.57 1007.25 L522.36 1006.99 L523.14 1006.31 L523.93 1005.8 L524.71 1006.38 L525.5 1007.43 L526.29 1007.46 L527.07 1007.48 L527.86 1006.85 L528.64 1006.07 L529.43 1006.45 L530.21 1006.78 L531 1007.31 L531.79 1007.71 L532.57 1008.17 L533.36 1007.77 L534.14 1006.86 L534.93 1006.35 L535.71 1005.94 L536.5 1006.55 L537.31 1007.41 L538.12 1007.93 L538.94 1008.09 L539.75 1007.09 L540.56 1006.39 L541.38 1006.7 L542.19 1006.99 L543 1007.88 L543.81 1008.36 L544.62 1007.9 L545.44 1007.64 L546.25 1007.22 L547.06 1006.78 L547.88 1006.48 L548.69 1007.4 L549.5 1008.21 L550.29 1007.84 L551.08 1007.6 L551.88 1007.27 L552.67 1006.56 L553.46 1006.25 L554.25 1006.81 L555.04 1007.45 L555.83 1007.68 L556.62 1007.26 L557.42 1007.17 L558.21 1006.43 L559 1005.74 L559.75 1006.07 L560.5 1006.54 L561.25 1006.84 L562 1006.98 L562.75 1006.61 L563.5 1004.89 L564.25 1004.85 L565 1003.96 L565.64 1004.09 L566.29 1004.18 L566.93 1003.78 L567.57 1004.17 L568.21 1003.3 L568.86 1003.07 L569.5 1001.71 L570 1000.65 L570.5 999.62 L571 999.39 L571.5 998.78 L572 998.2 L572.5 998.41 L572.93 997.56 L573.36 997.66 L573.79 996.85 L574.21 996.19 L574.64 995.08 L575.07 994.32 L575.5 992.94 L575.88 991.66 L576.25 990.79 L576.62 989.92 L577 988.95 L577.38 988.38 L577.75 988.35 L578.12 987.96 L578.5 987.7 L578.81 986.96 L579.12 986.25 L579.44 985.53 L579.75 985.08 L580.06 984.21 L580.38 983.56 L580.69 982.4 L581 981.04 L581.25 979.95 L581.5 978.76 L581.75 978.47 L582 977.23 L582.25 976.33 L582.5 975.21 L582.75 974.85 L583 974.53 L583.25 973.34 L583.5 973.18 L583.75 972.66 L584 972.05 L584.25 971.48 L584.5 970.65 L584.75 970.48 L585 969.81 L585.25 969.52 L585.5 968.41 L585.75 967.5 L586 967.17 L586.25 966.04 L586.5 964.85 L586.75 964.17 L587 962.74 L587.29 961.71 L587.57 961.3 L587.86 959.93 L588.14 959.3 L588.43 957.92 L588.71 957.38 L589 956.48 L589.29 956.44 L589.57 955.76 L589.86 955.12 L590.14 954.68 L590.43 954.07 L590.71 953.57 L591 953.46 L591.42 952.48 L591.83 951.48 L592.25 950.76 L592.67 949.73 L593.08 949.06 L593.5 947.4 L594 946.44 L594.5 946.19 L595 945.46 L595.5 944.92 L596 944.67 L596.5 944.29 L597 943.89 L597.5 943.62 L598 942.96 L598.5 941.47 L599 940.84 L599.5 939.63 L600 939.06 L600.5 938.1 L601 937.91 L601.5 937.72 L601.93 937.14 L602.36 936.86 L602.79 936.22 L603.21 935.82 L603.64 935.48 L604.07 934.76 L604.5 933.16 L604.93 932.83 L605.36 931.72 L605.79 930.29 L606.21 929.67 L606.64 929.2 L607.07 928.47 L607.5 928.19 L607.93 928.2 L608.36 927.64 L608.79 927.12 L609.21 926.6 L609.64 925.37 L610.07 924.71 L610.5 923.46 L611 922.3 L611.5 921.67 L612 921.08 L612.5 920.41 L613 920.11 L613.5 920.13 L614 919.8 L614.67 920.25 L615.33 919.11 L616 918.05 L616.67 917.45 L617.33 916.51 L618 915.49 L618.75 915.39 L619.5 915.61 L620.25 915.79 L621 916.16 L621.75 915.56 L622.5 914 L623.21 913.44 L623.93 912.89 L624.64 912.63 L625.36 913.56 L626.07 913.8 L626.79 914.3 L627.5 913.83 L628.3 912.81 L629.1 911.19 L629.9 910.45 L630.7 911.09 L631.5 910.84 L632.1 911.45 L632.7 910.81 L633.3 910.75 L633.9 909.33 L634.5 908.39 L635.25 908.19 L636 907.45 L636.75 907.49 L637.5 908.31 L638.25 908.47 L639 907.8 L639.75 907.56 L640.5 906.37 L641.38 905.96 L642.25 906.05 L643.12 906.77 L644 907.61 L644.8 907.98 L645.6 907.7 L646.4 907.84 L647.2 907.13 L648 907.62 L648.75 908.71 L649.5 909.6 L650.25 909.87 L651 910.79 L651.75 910.51 L652.5 910.06 L653.21 909.58 L653.93 910.49 L654.64 911.21 L655.36 911.68 L656.07 912.78 L656.79 913.39 L657.5 913.12 L658.14 913.31 L658.79 913.11 L659.43 913.44 L660.07 914.27 L660.71 914.67 L661.36 916.19 L662 916.16 L662.57 917.37 L663.14 916.92 L663.71 917.28 L664.29 917.21 L664.86 917.03 L665.43 917.99 L666 918.9 L666.58 919.51 L667.17 920.7 L667.75 922.18 L668.33 922.66 L668.92 922.58 L669.5 922.97 L670 923.74 L670.5 923.42 L671 923.92 L671.5 924.79 L672 926.14 L672.5 927.18 L672.96 927.94 L673.42 929.25 L673.88 929.58 L674.33 930.31 L674.79 931.08 L675.25 931.65 L675.67 931.56 L676.08 931.85 L676.5 933.06 L676.92 933.07 L677.33 933.75 L677.75 934.73 L678.07 935.72 L678.39 936.95 L678.71 938.27 L679.04 939.38 L679.36 940.02 L679.68 941.12 L680 941.75 L680.25 942.68 L680.5 942.91 L680.75 943.97 L681 943.97 L681.25 945.32 L681.5 945.19 L681.75 946.02 L682 946.22 L682.22 947.01 L682.44 947.45 L682.67 948.43 L682.89 949.24 L683.11 950.04 L683.33 950.94 L683.56 951.31 L683.78 952.27 L684 952.99 L684.22 953.92 L684.44 955.11 L684.67 956.51 L684.89 956.66 L685.11 958.23 L685.33 958.76 L685.56 959.88 L685.78 960.41 L686 961.59 L686.19 962.12 L686.39 962.65 L686.58 963.44 L686.78 963.68 L686.97 964.38 L687.17 965.71 L687.36 965.56 L687.56 966.43 L687.75 967.28 L687.92 967.35 L688.08 968.81 L688.25 968.83 L688.42 970.21 L688.58 970.46 L688.75 971.35 L688.92 972.14 L689.08 972.49 L689.25 973.7 L689.38 974.72 L689.5 975.58 L689.62 976.37 L689.75 977.16 L689.88 977.52 L690 978.64 L690.12 979.59 L690.25 980.04 L690.38 981.56 L690.5 981.83 L690.6 983.14 L690.7 983.76 L690.8 984.55 L690.9 986.14 L691 986.72 L691.1 987.69 L691.2 988.43 L691.3 989.25 L691.4 990.36 L691.5 990.47 L691.59 991.59 L691.68 992.28 L691.77 993.44 L691.86 994.07 L691.95 995.35 L692.05 995.53 L692.14 996.35 L692.23 997.72 L692.32 998.32 L692.41 998.82 L692.5 999.53 L692.58 1000.57 L692.65 1000.76 L692.73 1001.98 L692.81 1002.24 L692.88 1003.46 L692.96 1003.5 L693.04 1004.96 L693.12 1005.61 L693.19 1005.55 L693.27 1006.37 L693.35 1007.74 L693.42 1008.35 L693.5 1008.58 L693.57 1009.75 L693.64 1010.28 L693.71 1010.7 L693.79 1011.83 L693.86 1012.31 L693.93 1012.8 L694 1014.17 L694.07 1014.79 L694.14 1015.11 L694.21 1016.02 L694.29 1017 L694.36 1017.48 L694.43 1018.14 L694.5 1019.15 L694.57 1020.32 L694.63 1020.34 L694.7 1021.28 L694.77 1022.29 L694.83 1023.54 L694.9 1024.36 L694.97 1024.29 L695.03 1025.68 L695.1 1026.05 L695.17 1026.93 L695.23 1027.7 L695.3 1028.86 L695.37 1030.15 L695.43 1030.96 L695.5 1031.27 L695.57 1032.59 L695.64 1033.24 L695.71 1033.53 L695.79 1035.12 L695.86 1035.4 L695.93 1036.89 L696 1036.98 L696.07 1038.52 L696.14 1039.03 L696.21 1039.88 L696.29 1040.44 L696.36 1041.57 L696.43 1042.66 L696.5 1043.33 L696.58 1044.55 L696.65 1044.99 L696.73 1046.15 L696.81 1046.29 L696.88 1047.66 L696.96 1048.36 L697.04 1049.43 L697.12 1049.75 L697.19 1050.67 L697.27 1051.79 L697.35 1052.09 L697.42 1052.98 L697.5 1054.2 L697.57 1054.8 L697.63 1055.43 L697.7 1055.77 L697.76 1057.21 L697.83 1057.66 L697.89 1058.26 L697.96 1059.14 L698.02 1059.67 L698.09 1061.04 L698.15 1061.75 L698.22 1062.63 L698.28 1063.1 L698.35 1063.37 L698.4 1064.34 L698.46 1065.59 L698.51 1065.42 L698.57 1066.46 L698.62 1067.01 L698.67 1067.76 L698.73 1068.57 L698.78 1069.61 L698.83 1069.83 L698.89 1071.27 L698.94 1071.6 L699 1072.08 L699.05 1072.74 L699.11 1073.83 L699.17 1074.39 L699.22 1075.24 L699.28 1075.6 L699.34 1076.54 L699.4 1077.39 L699.45 1077.72 L699.51 1078.82 L699.57 1079.84 L699.63 1080.34 L699.68 1080.64 L699.74 1081.82 L699.8 1082.05 L699.86 1082.83 L699.92 1083.44 L699.98 1084.64 L700.05 1085.05 L700.11 1085.88 L700.17 1086.48 L700.23 1087.92 L700.29 1087.99 L700.35 1089.22 L700.42 1090.09 L700.48 1090.53 L700.54 1091.41 L700.6 1091.95 L700.67 1093.16 L700.74 1093.82 L700.8 1094.05 L700.87 1095.41 L700.94 1095.69 L701.01 1096.79 L701.08 1097.33 L701.15 1098.4 L701.21 1099.37 L701.28 1100.25 L701.35 1100.7 L701.43 1101.29 L701.51 1102.48 L701.58 1103.74 L701.66 1104.25 L701.74 1105.16 L701.82 1106.14 L701.89 1106.87 L701.97 1108 L702.05 1108.86 L702.17 1109.54 L702.3 1110.47 L702.42 1110.73 L702.55 1111.7 L702.67 1112.96 L702.8 1113.68 L703.07 1114.76 L703.33 1115.45 L703.6 1115.75 L704.3 1115.6 L705 1115.69 L705.67 1114.27 L706.33 1113.95 L707 1113.51 L707.62 1113.69 L708.25 1114.13 L708.88 1114.22 L709.5 1114.01 L710.1 1112.91 L710.7 1112.79 L711.3 1111.66 L711.9 1111 L712.5 1110.2 L713.25 1110.18 L714 1110.7 L714.75 1110.8 L715.5 1110.51 L716.25 1109.37 L717 1108.43 L717.75 1108.21 L718.5 1107.93 L719.3 1107.92 L720.1 1108.48 L720.9 1109.22 L721.7 1109.54 L722.5 1108.87 L723.33 1107.68 L724.17 1107.5 L725 1107.93 L725.83 1109.28 L726.67 1109.61 L727.5 1110.4 L728.33 1109.46 L729.17 1108.54 L730 1108.36 L730.83 1108.39 L731.67 1109.81 L732.5 1109.76 L733.33 1110.19 L734.17 1109.6 L735 1108.47 L735.83 1108.12 L736.67 1108.94 L737.5 1109.47 L738.29 1109.7 L739.07 1110.3 L739.86 1109.92 L740.64 1109.12 L741.43 1108.36 L742.21 1108.1 L743 1108.49 L743.75 1109.33 L744.5 1109.7 L745.25 1109.99 L746 1108.74 L746.75 1108.65 L747.5 1108.01 L748.25 1107.73 L749 1108.58 L749.83 1108.88 L750.67 1109.43 L751.5 1109.39 L752.33 1109.06 L753.17 1107.78 L754 1108.25 L754.8 1108.73 L755.6 1109.87 L756.4 1109.96 L757.2 1110.35 L758 1110.09 L758.75 1109.67 L759.5 1109.41 L760.25 1109.98 L761 1110.67 L761.75 1111.53 L762.5 1111.79 L763.21 1112.22 L763.93 1112.38 L764.64 1112.04 L765.36 1111.2 L766.07 1111.9 L766.79 1112.73 L767.5 1114.26 L768.21 1114.38 L768.93 1115.13 L769.64 1114.41 L770.36 1114.17 L771.07 1114.58 L771.79 1114.11 L772.5 1115.28 L773.21 1115.94 L773.93 1117.14 L774.64 1116.84 L775.36 1117.24 L776.07 1116.46 L776.79 1116.81 L777.5 1116.38 L778.21 1117.26 L778.93 1117.54 L779.64 1119.15 L780.36 1119.28 L781.07 1119.44 L781.79 1118.87 L782.5 1117.86 L783.33 1118.41 L784.17 1118.69 L785 1119.48 L785.83 1120.85 L786.67 1120.77 L787.5 1120.04 L788.33 1119.1 L789.17 1119.36 L790 1119.24 L790.83 1120.21 L791.67 1120.67 L792.5 1120.83 L793.33 1120.79 L794.17 1119.64 L795 1119.99 L795.77 1119.6 L796.54 1120.71 L797.31 1121.28 L798.08 1121.38 L798.85 1120.97 L799.62 1119.83 L800.38 1119.83 L801.15 1119.77 L801.92 1119.83 L802.69 1120.21 L803.46 1120.64 L804.23 1120.79 L805 1120.9 L805.83 1119.5 L806.67 1118.98 L807.5 1119.36 L808.33 1119.59 L809.17 1120.91 L810 1121.01 L810.83 1120.05 L811.67 1118.98 L812.5 1119.24 L813.33 1119.23 L814.17 1119.79 L815 1119.92 L815.83 1120.71 L816.67 1119.9 L817.5 1118.5 L818.33 1118.88 L819.17 1118.79 L820 1119.04 L820.83 1120.46 L821.67 1120.51 L822.5 1120.2 L823.33 1118.95 L824.17 1118.6 L825 1119.23 L825.77 1119.21 L826.54 1120.19 L827.31 1120.59 L828.08 1121.01 L828.85 1120.1 L829.62 1120.11 L830.38 1119.62 L831.15 1120.28 L831.92 1121.18 L832.69 1122 L833.46 1121.64 L834.23 1121.56 L835 1121.37 L835.83 1120.41 L836.67 1120.99 L837.5 1121.1 L838.33 1122.23 L839.17 1122.4 L840 1122.66 L840.83 1121.64 L841.67 1121.19 L842.5 1121.44 L843.33 1122.09 L844.17 1122.27 L845 1122.79 L845.83 1122.66 L846.67 1122.49 L847.5 1121.75 L848.31 1121.52 L849.12 1121.95 L849.94 1122.1 L850.75 1122.77 L851.56 1122.17 L852.38 1121.77 L853.19 1121.17 L854 1120.43 L854.8 1121.03 L855.6 1121.05 L856.4 1121.72 L857.2 1121.91 L858 1120.86 L858.8 1120.35 L859.6 1119.42 L860.4 1119 L861.2 1119.47 L862 1120.52 L862.83 1120.97 L863.67 1120.48 L864.5 1119.83 L865.33 1118.95 L866.17 1118.93 L867 1119.47 L867.83 1119.95 L868.67 1120.24 L869.5 1119.59 L870.28 1119.04 L871.06 1118.31 L871.83 1118.17 L872.61 1118.85 L873.39 1119.52 L874.17 1120.41 L874.94 1120.8 L875.72 1119.88 L876.5 1119.78 L877.27 1119.28 L878.05 1118.8 L878.82 1119.77 L879.59 1120.2 L880.36 1120.58 L881.14 1120.65 L881.91 1120.1 L882.68 1119.29 L883.45 1119.04 L884.23 1120.05 L885 1120.83 L885.77 1121.56 L886.54 1121.17 L887.31 1120.87 L888.08 1121.01 L888.85 1120.04 L889.62 1119.94 L890.38 1120.75 L891.15 1121.38 L891.92 1121.84 L892.69 1121.8 L893.46 1121.36 L894.23 1121.26 L895 1121.02 L895.77 1120.3 L896.54 1121.04 L897.31 1122.04 L898.08 1122.25 L898.85 1122.33 L899.62 1121.75 L900.38 1120.86 L901.15 1120.41 L901.92 1120.94 L902.69 1121.96 L903.46 1122.04 L904.23 1122.66 L905 1122.6 L905.77 1121.66 L906.54 1120.81 L907.31 1121.14 L908.08 1121.37 L908.85 1122.24 L909.62 1122.13 L910.38 1122.32 L911.15 1121.77 L911.92 1121.36 L912.69 1120.63 L913.46 1120.57 L914.23 1121.05 L915 1122.06 L915.77 1122.02 L916.54 1121.7 L917.31 1121.15 L918.08 1120.54 L918.85 1120.09 L919.62 1121.13 L920.38 1121.42 L921.15 1122.32 L921.92 1122.28 L922.69 1122.04 L923.46 1121.11 L924.23 1121.11 L925 1120.54 L925.77 1121.01 L926.54 1122.1 L927.31 1122.85 L928.08 1123.11 L928.85 1122.24 L929.62 1121.55 L930.38 1121.49 L931.15 1121.24 L931.92 1121.66 L932.69 1122.7 L933.46 1123.05 L934.23 1122.95 L935 1122.89 L935.77 1121.83 L936.54 1121.76 L937.31 1121.71 L938.08 1122.21 L938.85 1123.49 L939.62 1123.76 L940.38 1123.4 L941.15 1122.65 L941.92 1121.66 L942.69 1121.81 L943.46 1122.52 L944.23 1123.21 L945 1123.62 L945.77 1123.69 L946.54 1122.76 L947.31 1121.9 L948.08 1122.07 L948.85 1121.31 L949.62 1122.03 L950.38 1122.83 L951.15 1123.5 L951.92 1123.33 L952.69 1122.85 L953.46 1122.17 L954.23 1121.19 L955 1121.35 L955.83 1121.94 L956.67 1122.81 L957.5 1122.77 L958.33 1123.05 L959.17 1121.93 L960 1121.37 L960.83 1121.13 L961.67 1122.59 L962.5 1122.7 L963.33 1123.38 L964.17 1122.43 L965 1121.72 L965.77 1121.13 L966.54 1121.54 L967.31 1121.9 L968.08 1122.91 L968.85 1123.51 L969.62 1122.99 L970.38 1122.35 L971.15 1122.03 L971.92 1121.61 L972.69 1121.9 L973.46 1122.52 L974.23 1123.04 L975 1123.31 L975.77 1123.54 L976.54 1122.77 L977.31 1122.18 L978.08 1121.96 L978.85 1122.22 L979.62 1122.64 L980.38 1123.85 L981.15 1123.58 L981.92 1123.04 L982.69 1122.14 L983.46 1121.72 L984.23 1122.27 L985 1122.28 L985.77 1123.3 L986.54 1123.08 L987.31 1123.34 L988.08 1122.39 L988.85 1121.61 L989.62 1121.26 L990.38 1121.49 L991.15 1122.3 L991.92 1122.71 L992.69 1123.34 L993.46 1122.35 L994.23 1122.25 L995 1121.19 L995.77 1121.31 L996.54 1121.33 L997.31 1121.89 L998.08 1123.04 L998.85 1122.88 L999.62 1122.48 L1000.38 1121.58 L1001.15 1121.22 L1001.92 1121.44 L1002.69 1121.76 L1003.46 1122.67 L1004.23 1122.55 L1005 1122.38 L1005.77 1122.35 L1006.54 1121.63 L1007.31 1121.35 L1008.08 1121.17 L1008.85 1121.82 L1009.62 1123.01 L1010.38 1122.65 L1011.15 1122.35 L1011.92 1121.71 L1012.69 1121.23 L1013.46 1121.17 L1014.23 1121.55 L1015 1122.35 L1015.77 1122.54 L1016.54 1122.9 L1017.31 1122.58 L1018.08 1121.45 L1018.85 1121.3 L1019.62 1121.67 L1020.38 1121.96 L1021.15 1122.93 L1021.92 1123.29 L1022.69 1122.85 L1023.46 1121.82 L1024.23 1121.14 L1025 1121.23 L1025.77 1121.61 L1026.54 1121.73 L1027.31 1122.17 L1028.08 1122.97 L1028.85 1122.43 L1029.62 1121.64 L1030.38 1120.64 L1031.15 1120.78 L1031.92 1121.11 L1032.69 1121.88 L1033.46 1122.59 L1034.23 1121.89 L1035 1122.06 L1035.77 1120.94 L1036.54 1120.55 L1037.31 1120.53 L1038.08 1121.52 L1038.85 1121.96 L1039.62 1122.13 L1040.38 1122.45 L1041.15 1121.62 L1041.92 1120.85 L1042.69 1120.55 L1043.46 1121.09 L1044.23 1121.84 L1045 1122.16 L1045.77 1122.73 L1046.54 1123.29 L1047.31 1122.45 L1048.08 1122.35 L1048.85 1121.91 L1049.62 1122.81 L1050.38 1123.42 L1051.15 1123.89 L1051.92 1123.85 L1052.69 1123.64 L1053.46 1123.66 L1054.23 1123.17 L1055 1122.99 L1055.79 1123.47 L1056.57 1124.7 L1057.36 1125.48 L1058.14 1124.8 L1058.93 1124.92 L1059.71 1123.87 L1060.5 1123.34 L1061.29 1123.67 L1062.07 1124.9 L1062.86 1125.81 L1063.64 1125.4 L1064.43 1125.1 L1065.21 1124.36 L1066 1123.93 L1066.8 1123.92 L1067.6 1124.64 L1068.4 1125.22 L1069.2 1126.03 L1070 1125.47 L1070.8 1124.84 L1071.6 1124.28 L1072.4 1123.81 L1073.2 1124.06 L1074 1124.82 L1074.8 1125.34 L1075.6 1126 L1076.4 1124.92 L1077.2 1124.57 L1078 1124.48 L1078.82 1124.29 L1079.64 1124.58 L1080.45 1125.29 L1081.27 1125.47 L1082.09 1124.89 L1082.91 1123.81 L1083.73 1123.23 L1084.55 1123.14 L1085.36 1123.69 L1086.18 1124.46 L1087 1124.54 L1087.75 1124.53 L1088.5 1123.28 L1089.25 1122.65 L1090 1122.27 L1090.75 1122.1 L1091.5 1122.72 L1092.25 1123.15 L1093 1122.85 L1093.71 1122.04 L1094.43 1120.94 L1095.14 1120.56 L1095.86 1119.64 L1096.57 1119.44 L1097.29 1119.5 L1098 1119.9 L1098.67 1120.43 L1099.33 1119.52 L1100 1118.94 L1100.67 1117.86 L1101.33 1116.39 L1102 1115.82 L1102.75 1116.59 L1103.5 1116.49 L1104.25 1117.18 L1105 1117.39 L1105.75 1116.34 L1106.5 1115.41 L1107.25 1115.13 L1108 1114.77 L1108.8 1115.25 L1109.6 1115.74 L1110.4 1115.73 L1111.2 1115.42 L1112 1114.71 L1112.8 1114.75 L1113.6 1114.02 L1114.4 1114.55 L1115.2 1115.27 L1116 1115.2 L1116.78 1116.04 L1117.56 1115.03 L1118.33 1114.26 L1119.11 1113.84 L1119.89 1114.51 L1120.67 1115.02 L1121.44 1115.25 L1122.22 1115.86 L1123 1116.1 L1123.75 1115.68 L1124.5 1115.24 L1125.25 1114.53 L1126 1114.72 L1126.75 1115.73 L1127.5 1116.95 L1128.25 1117.18 L1129 1117.39 L1129.75 1116.32 L1130.5 1116.07 L1131.25 1116.26 L1132 1116.31 L1132.75 1117.29 L1133.5 1118.1 L1134.25 1118.2 L1135 1118.32 L1135.75 1117.8 L1136.5 1117.05 L1137.25 1116.99 L1138 1117.67 L1138.75 1118.52 L1139.5 1119.37 L1140.25 1119.15 L1141 1119.23 L1141.78 1118.48 L1142.56 1118.19 L1143.33 1117.56 L1144.11 1118.24 L1144.89 1118.83 L1145.67 1119.92 L1146.44 1119.91 L1147.22 1118.81 L1148 1118.23 L1148.8 1117.8 L1149.6 1118.35 L1150.4 1119.15 L1151.2 1119.47 L1152 1119.52 L1152.8 1119.65 L1153.6 1118.96 L1154.4 1118.17 L1155.2 1117.93 L1156 1118.49 L1156.82 1119.19 L1157.64 1120.24 L1158.45 1119.76 L1159.27 1119.45 L1160.09 1118.63 L1160.91 1118.13 L1161.73 1118.6 L1162.55 1119.75 L1163.36 1120.55 L1164.18 1120.65 L1165 1119.43 L1165.77 1118.89 L1166.54 1118.41 L1167.31 1118.72 L1168.08 1119.59 L1168.85 1120.65 L1169.62 1121.23 L1170.38 1120.78 L1171.15 1119.79 L1171.92 1119.42 L1172.69 1119.05 L1173.46 1119.58 L1174.23 1120.62 L1175 1121.24 L1175.82 1121.07 L1176.64 1120.68 L1177.45 1120.48 L1178.27 1119.75 L1179.09 1119.85 L1179.91 1120.25 L1180.73 1120.95 L1181.55 1121.63 L1182.36 1120.59 L1183.18 1120.42 L1184 1120.1 L1184.8 1119.69 L1185.6 1119.61 L1186.4 1120.24 L1187.2 1121.24 L1188 1120.42 L1188.8 1119.88 L1189.6 1119.29 L1190.4 1118.96 L1191.2 1118.87 L1192 1119.85 L1192.75 1120.51 L1193.5 1120.1 L1194.25 1119.49 L1195 1118.93 L1195.75 1118.42 L1196.5 1118.06 L1197.25 1118.59 L1198 1119.04 L1198.75 1119.6 L1199.5 1118.87 L1200.28 1118.59 L1201.06 1117.28 L1201.83 1116.55 L1202.61 1116.66 L1203.39 1117.62 L1204.17 1117.58 L1204.94 1117.8 L1205.72 1118 L1206.5 1117.23 L1207.28 1116.34 L1208.06 1115.68 L1208.83 1116.4 L1209.61 1116.4 L1210.39 1116.96 L1211.17 1117.14 L1211.94 1116.95 L1212.72 1116.13 L1213.5 1116.11 L1214.28 1115.85 L1215.06 1116.86 L1215.83 1117.39 L1216.61 1117.88 L1217.39 1117.89 L1218.17 1117.17 L1218.94 1116.96 L1219.72 1117.18 L1220.5 1117.55 L1221.33 1118.33 L1222.17 1118.38 L1223 1118.96 L1223.83 1118.93 L1224.67 1117.66 L1225.5 1117.2 L1226.33 1117.6 L1227.17 1118.28 L1228 1119.69 L1228.8 1119.96 L1229.6 1119.9 L1230.4 1118.4 L1231.2 1118.49 L1232 1118.63 L1232.8 1118.71 L1233.6 1119.44 L1234.4 1120.76 L1235.2 1120.49 L1236 1119.26 L1236.82 1118.69 L1237.64 1118.91 L1238.46 1118.9 L1239.29 1119.93 L1240.11 1120.26 L1240.93 1120.2 L1241.75 1119.98 L1242.57 1119.31 L1243.39 1119.27 L1244.21 1118.84 L1245.04 1119.91 L1245.86 1120.32 L1246.68 1120.87 L1247.5 1120.03 L1248.29 1119.44 L1249.08 1119.55 L1249.87 1119.38 L1250.66 1120.02 L1251.45 1120.67 L1252.24 1120.63 L1253.03 1120.79 L1253.82 1120.36 L1254.61 1118.92 L1255.39 1119.42 L1256.18 1119.39 L1256.97 1119.99 L1257.76 1120.95 L1258.55 1121.14 L1259.34 1119.99 L1260.13 1119.29 L1260.92 1119.12 L1261.71 1119 L1262.5 1119.91 L1263.28 1121.01 L1264.06 1120.41 L1264.84 1120.46 L1265.62 1119.54 L1266.41 1118.83 L1267.19 1119.01 L1267.97 1119.7 L1268.75 1119.96 L1269.53 1120.57 L1270.31 1120.71 L1271.09 1120.31 L1271.88 1119.65 L1272.66 1118.58 L1273.44 1118.5 L1274.22 1119.73 L1275 1120.13 L1275.77 1120.66 L1276.54 1119.71 L1277.31 1119.57 L1278.08 1118.22 L1278.85 1117.88 L1279.62 1118.1 L1280.38 1118.92 L1281.15 1119.52 L1281.92 1119.84 L1282.69 1119.63 L1283.46 1118.39 L1284.23 1117.87 L1285 1117.56 L1285.75 1117.83 L1286.5 1118.27 L1287.25 1118.41 L1288 1118.53 L1288.75 1118.32 L1289.5 1117.54 L1290.25 1116.79 L1291 1116.42 L1291.75 1116.74 L1292.5 1117.09 L1293.21 1117.32 L1293.93 1117.71 L1294.64 1116.6 L1295.36 1115.48 L1296.07 1114.81 L1296.79 1114.41 L1297.5 1114.36 L1298.21 1114.74 L1298.93 1114.9 L1299.64 1115.07 L1300.36 1114.31 L1301.07 1112.73 L1301.79 1111.9 L1302.5 1111.1 L1303.12 1111.56 L1303.75 1110.9 L1304.38 1111.36 L1305 1110.89 L1305.62 1110.9 L1306.25 1110.13 L1306.88 1108.73 L1307.5 1107.86 L1308.21 1107.43 L1308.93 1107.15 L1309.64 1107.14 L1310.36 1107.14 L1311.07 1107.33 L1311.79 1106.81 L1312.5 1105.63 L1313.21 1105.06 L1313.93 1103.93 L1314.64 1103.89 L1315.36 1104.19 L1316.07 1103.87 L1316.79 1104.43 L1317.5 1104.22 L1318.21 1103.74 L1318.93 1102.63 L1319.64 1101.98 L1320.36 1101.47 L1321.07 1101.2 L1321.79 1102.12 L1322.5 1102.37 L1323.33 1102.05 L1324.17 1101.74 L1325 1099.98 L1325.83 1100.09 L1326.67 1099.57 L1327.5 1100.24 L1328.33 1101.08 L1329.17 1100.62 L1330 1100.36 L1330.83 1099.07 L1331.67 1098.5 L1332.5 1099.37 L1333.33 1099.3 L1334.17 1100.12 L1335 1100 L1335.77 1100.34 L1336.54 1099.23 L1337.31 1098.93 L1338.08 1098.28 L1338.85 1098.88 L1339.62 1099.38 L1340.38 1100.19 L1341.15 1100.28 L1341.92 1099.62 L1342.69 1098.89 L1343.46 1098.16 L1344.23 1098.81 L1345 1098.53 L1345.82 1099.34 L1346.64 1100.08 L1347.45 1100.01 L1348.27 1099.11 L1349.09 1097.87 L1349.91 1098.34 L1350.73 1098.35 L1351.55 1099.15 L1352.36 1099.63 L1353.18 1099.38 L1354 1098.89 L1354.8 1098.11 L1355.6 1097.24 L1356.4 1098.02 L1357.2 1098.12 L1358 1098.95 L1358.8 1098.44 L1359.6 1098.25 L1360.4 1097.11 L1361.2 1097.17 L1362 1096.91 L1362.83 1097.3 L1363.67 1098.49 L1364.5 1097.93 L1365.33 1098.04 L1366.17 1097.14 L1367 1095.99 L1367.83 1096.42 L1368.67 1096.72 L1369.5 1098.21 L1370.28 1097.72 L1371.06 1097.95 L1371.83 1097.21 L1372.61 1096.23 L1373.39 1096.82 L1374.17 1096.93 L1374.94 1097.72 L1375.72 1098 L1376.5 1097.99 L1377.25 1097.67 L1378 1096.7 L1378.75 1096.35 L1379.5 1096.62 L1380.25 1097.02 L1381 1098.06 L1381.75 1097.97 L1382.5 1098 L1383.33 1097.63 L1384.17 1096.97 L1385 1096.23 L1385.83 1096.4 L1386.67 1097.02 L1387.5 1097.81 L1388.33 1097.73 L1389.17 1097.38 L1390 1095.97 L1390.83 1095.51 L1391.67 1095.99 L1392.5 1096.08 L1393.21 1096.31 L1393.93 1097.14 L1394.64 1096.6 L1395.36 1095.22 L1396.07 1094.36 L1396.79 1094.03 L1397.5 1093.81 L1398.29 1094.73 L1399.07 1095.23 L1399.86 1095.04 L1400.64 1094.14 L1401.43 1093.56 L1402.21 1092.79 L1403 1091.75 L1403.75 1092.36 L1404.5 1092.34 L1405.25 1093.32 L1406 1092.91 L1406.75 1091.82 L1407.5 1091.14 L1408.25 1089.96 L1409 1089.48 L1409.75 1090.1 L1410.5 1090.13 L1411.25 1090.66 L1412 1090.7 L1412.75 1089.65 L1413.5 1088.39 L1414.25 1087.61 L1415 1087.72 L1415.75 1087.93 L1416.5 1088.7 L1417.25 1088.17 L1418 1088.03 L1418.75 1087.16 L1419.5 1086.12 L1420.25 1085.27 L1421 1085.31 L1421.75 1085.8 L1422.5 1085.91 L1423.25 1086.13 L1424 1085.88 L1424.75 1085.39 L1425.5 1084.06 L1426.25 1083.36 L1427 1083.05 L1427.75 1083.91 L1428.5 1084.2 L1429.25 1084.07 L1430 1083.92 L1430.75 1083.19 L1431.5 1082.1 L1432.25 1081.97 L1433 1081.96 L1433.75 1081.85 L1434.5 1082.22 L1435.25 1082.62 L1436 1082.12 L1436.75 1081.16 L1437.5 1080 L1438.25 1079.67 L1439 1080.11 L1439.75 1080.21 L1440.5 1080.64 L1441.25 1080.23 L1442 1079.91 L1442.75 1078.8 L1443.5 1077.51 L1444.25 1077.79 L1445 1077.97 L1445.75 1078.53 L1446.5 1078.74 L1447.25 1078.29 L1448 1077.34 L1448.75 1076.16 L1449.5 1075.72 L1450.25 1075.13 L1451 1075.22 L1451.75 1075.42 L1452.5 1076.05 L1453.25 1075.83 L1454 1075.07 L1454.75 1073.5 L1455.5 1072.76 L1456.25 1072.88 L1457 1072.63 L1457.79 1073.81 L1458.57 1074.04 L1459.36 1073.39 L1460.14 1072.19 L1460.93 1071.53 L1461.71 1071.18 L1462.5 1070.85 L1463.33 1071.73 L1464.17 1072.2 L1465 1072.41 L1465.83 1071.61 L1466.67 1070.61 L1467.5 1069.95 L1468.33 1070.45 L1469.17 1070.87 L1470 1071.58 L1470.83 1071.33 L1471.67 1070.6 L1472.5 1070.19 L1473.33 1069.47 L1474.17 1070.37 L1475 1070.45 L1475.83 1071.8 L1476.67 1071.53 L1477.5 1070.99 L1478.33 1070.5 L1479.17 1069.71 L1480 1070.38 L1480.83 1070.66 L1481.67 1070.86 L1482.5 1071.22 L1483.33 1070.45 L1484.17 1069.86 L1485 1069.18 L1485.83 1068.9 L1486.67 1069.69 L1487.5 1070.06 L1488.33 1070.48 L1489.17 1069.77 L1490 1068.42 L1490.83 1068.14 L1491.67 1067.23 L1492.5 1067.82 L1493.21 1068.08 L1493.93 1069.1 L1494.64 1068.43 L1495.36 1067.98 L1496.07 1067.23 L1496.79 1065.75 L1497.5 1066.28 L1498.25 1065.76 L1499 1066.83 L1499.75 1067.16 L1500.5 1066.52 L1501.25 1066.21 L1502 1065.17 L1502.75 1064.24 L1503.5 1063.89 L1504.25 1064.09 L1505 1064.48 L1505.77 1065.07 L1506.54 1064.67 L1507.31 1063.52 L1508.08 1062.89 L1508.85 1061.89 L1509.62 1062.08 L1510.38 1062.81 L1511.15 1062.76 L1511.92 1063.1 L1512.69 1062.19 L1513.46 1061.93 L1514.23 1060.46 L1515 1060.7 L1515.77 1060.84 L1516.54 1061.34 L1517.31 1061.04 L1518.08 1061.22 L1518.85 1059.94 L1519.62 1059.78 L1520.38 1058.78 L1521.15 1057.98 L1521.92 1058.36 L1522.69 1058.8 L1523.46 1059.19 L1524.23 1059.34 L1525 1058.35 L1525.77 1056.99 L1526.54 1056.82 L1527.31 1056.08 L1528.08 1056.95 L1528.85 1057.22 L1529.62 1056.94 L1530.38 1057.14 L1531.15 1055.96 L1531.92 1055.39 L1532.69 1054.65 L1533.46 1054.78 L1534.23 1054.79 L1535 1055.42 L1535.77 1055.62 L1536.54 1054.6 L1537.31 1053.71 L1538.08 1052.81 L1538.85 1052.5 L1539.62 1052.49 L1540.38 1053.14 L1541.15 1053.3 L1541.92 1052.85 L1542.69 1051.98 L1543.46 1051.67 L1544.23 1051.29 L1545 1051 L1545.77 1051.54 L1546.54 1051.41 L1547.31 1052.02 L1548.08 1051.06 L1548.85 1050.57 L1549.62 1049.16 L1550.38 1048.82 L1551.15 1049.18 L1551.92 1049.39 L1552.69 1049.76 L1553.46 1050.02 L1554.23 1049.38 L1555 1048.61 L1555.77 1047.58 L1556.54 1047.11 L1557.31 1047.54 L1558.08 1048.14 L1558.85 1048.36 L1559.62 1048.32 L1560.38 1047.18 L1561.15 1046.62 L1561.92 1045.61 L1562.69 1045.58 L1563.46 1045.63 L1564.23 1046.34 L1565 1046.53 L1565.77 1045.6 L1566.54 1045.1 L1567.31 1043.97 L1568.08 1043.72 L1568.85 1044.46 L1569.62 1044.98 L1570.38 1044.63 L1571.15 1044.93 L1571.92 1044.16 L1572.69 1042.85 L1573.46 1042.35 L1574.23 1042.37 L1575 1042.6 L1575.75 1043.24 L1576.5 1043.05 L1577.25 1043.28 L1578 1042.55 L1578.75 1041.29 L1579.5 1041.03 L1580.25 1041.28 L1581 1041.63 L1581.75 1041.89 L1582.5 1042 L1583.33 1041.85 L1584.17 1040.71 L1585 1040.08 L1585.83 1039.44 L1586.67 1039.92 L1587.5 1040.68 L1588.33 1040.9 L1589.17 1040.62 L1590 1039.59 L1590.83 1038.7 L1591.67 1038.6 L1592.5 1038.69 L1593.33 1039.33 L1594.17 1039.68 L1595 1039.37 L1595.83 1038.89 L1596.67 1038.25 L1597.5 1037.23 L1598.33 1037.9 L1599.17 1038.42 L1600 1038.97 L1600.83 1038.83 L1601.67 1037.85 L1602.5 1036.62 L1603.33 1036.48 L1604.17 1036.83 L1605 1037.56 L1605.77 1038.29 L1606.54 1038.03 L1607.31 1037.45 L1608.08 1036.35 L1608.85 1036.11 L1609.62 1035.4 L1610.38 1036.49 L1611.15 1036.74 L1611.92 1037.04 L1612.69 1037.04 L1613.46 1036.2 L1614.23 1035.79 L1615 1034.52 L1615.77 1034.53 L1616.54 1035.51 L1617.31 1035.72 L1618.08 1035.87 L1618.85 1036.14 L1619.62 1034.91 L1620.38 1033.92 L1621.15 1033.66 L1621.92 1033.77 L1622.69 1034.36 L1623.46 1034.71 L1624.23 1035.43 L1625 1034.63 L1625.77 1033.42 L1626.54 1032.52 L1627.31 1033.14 L1628.08 1033.43 L1628.85 1033.28 L1629.62 1034.27 L1630.38 1033.74 L1631.15 1033.39 L1631.92 1032.05 L1632.69 1031.51 L1633.46 1031.16 L1634.23 1032.16 L1635 1032.38 L1635.77 1033.11 L1636.54 1032.1 L1637.31 1031.89 L1638.08 1030.62 L1638.85 1030.71 L1639.62 1030.86 L1640.38 1031.62 L1641.15 1031.76 L1641.92 1031.53 L1642.69 1030.86 L1643.46 1029.99 L1644.23 1029.21 L1645 1029.24 L1645.77 1029.66 L1646.54 1030.71 L1647.31 1030.32 L1648.08 1030.56 L1648.85 1029.87 L1649.62 1028.74 L1650.38 1028.73 L1651.15 1028.36 L1651.92 1029.36 L1652.69 1029.4 L1653.46 1030.22 L1654.23 1029.32 L1655 1028.34 L1655.77 1027.64 L1656.54 1027.38 L1657.31 1027.58 L1658.08 1028.34 L1658.85 1029.42 L1659.62 1028.88 L1660.38 1028.36 L1661.15 1027.86 L1661.92 1026.61 L1662.69 1026.51 L1663.46 1027.62 L1664.23 1027.75 L1665 1027.97 L1665.77 1027.8 L1666.54 1027.64 L1667.31 1027.05 L1668.08 1026.05 L1668.85 1026.42 L1669.62 1026.73 L1670.38 1027.09 L1671.15 1027.39 L1671.92 1027.05 L1672.69 1026.21 L1673.46 1025.96 L1674.23 1025.03 L1675 1025.56 L1675.77 1026.48 L1676.54 1026.34 L1677.31 1027.2 L1678.08 1026.35 L1678.85 1025.58 L1679.62 1024.53 L1680.38 1024.43 L1681.15 1025.42 L1681.92 1026.15 L1682.69 1025.66 L1683.46 1026.21 L1684.23 1024.98 L1685 1024.07 L1685.77 1024.05 L1686.54 1023.67 L1687.31 1024.87 L1688.08 1025.45 L1688.85 1025.16 L1689.62 1024.66 L1690.38 1024.23 L1691.15 1023.69 L1691.92 1022.74 L1692.69 1023.59 L1693.46 1023.67 L1694.23 1024.39 L1695 1024.22 L1695.77 1023.63 L1696.54 1023.23 L1697.31 1022.39 L1698.08 1022.83 L1698.85 1023.24 L1699.62 1023.71 L1700.38 1023.9 L1701.15 1023.86 L1701.92 1022.92 L1702.69 1022.25 L1703.46 1021.83 L1704.23 1021.8 L1705 1022.35 L1705.77 1023.33 L1706.54 1023.69 L1707.31 1023.12 L1708.08 1022.49 L1708.85 1021.27 L1709.62 1020.76 L1710.38 1021.16 L1711.15 1022.03 L1711.92 1022.79 L1712.69 1022.82 L1713.46 1022.47 L1714.23 1021.56 L1715 1020.51 L1715.77 1020.19 L1716.54 1021.02 L1717.31 1021.53 L1718.08 1022.43 L1718.85 1022.33 L1719.62 1021.36 L1720.38 1020.8 L1721.15 1020.3 L1721.92 1020.21 L1722.69 1020.69 L1723.46 1021.77 L1724.23 1021.88 L1725 1021.36 L1725.77 1021.02 L1726.54 1019.56 L1727.31 1019.83 L1728.08 1019.93 L1728.85 1020.36 L1729.62 1020.74 L1730.38 1021.22 L1731.15 1021.01 L1731.92 1019.62 L1732.69 1019.66 L1733.46 1019.65 L1734.23 1019.38 L1735 1020.37 L1735.77 1020.74 L1736.54 1020.49 L1737.31 1019.69 L1738.08 1019.06 L1738.85 1019.21 L1739.62 1019.23 L1740.38 1019.9 L1741.15 1020.13 L1741.92 1020.4 L1742.69 1019.71 L1743.46 1019.32 L1744.23 1018.76 L1745 1018.85 L1745.77 1018.3 L1746.54 1019.48 L1747.31 1019.49 L1748.08 1020.42 L1748.85 1019.26 L1749.62 1018.95 L1750.38 1018.29 L1751.15 1017.82 L1751.92 1018.5 L1752.69 1019.13 L1753.46 1019.35 L1754.23 1019.45 L1755 1018.54 L1755.77 1018.38 L1756.54 1018.16 L1757.31 1017.89 L1758.08 1018.34 L1758.85 1019.09 L1759.62 1019.05 L1760.38 1019.3 L1761.15 1018.56 L1761.92 1017.34 L1762.69 1017.31 L1763.46 1017.37 L1764.23 1018.54 L1765 1018.5 L1765.77 1019.38 L1766.54 1018.21 L1767.31 1018.17 L1768.08 1017 L1768.85 1017.22 L1769.62 1017.85 L1770.38 1018.74 L1771.15 1019.14 L1771.92 1018.41 L1772.69 1018.33 L1773.46 1017.33 L1774.23 1016.65 L1775 1017.03 L1775.83 1018.09 L1776.65 1017.94 L1777.48 1018.76 L1778.31 1018.18 L1779.13 1017.68 L1779.96 1016.71 L1780.79 1016.51 L1781.62 1017.63 L1782.44 1017.67 L1783.27 1018.49 L1784.1 1017.77 L1784.92 1016.77 L1785.75 1016.21 L1786.57 1016.73 L1787.39 1016.62 L1788.21 1018.02 L1789.04 1017.7 L1789.86 1018.14 L1790.68 1016.61 L1791.5 1016.44 L1792.32 1016.11 L1793.14 1016.58 L1793.96 1017.59 L1794.79 1017.44 L1795.61 1017.99 L1796.43 1016.92 L1797.25 1016.37 L1798.04 1015.55 L1798.83 1016.5 L1799.62 1016.93 L1800.41 1017.31 L1801.2 1017.19 L1801.99 1017.31 L1802.78 1016.26 L1803.57 1016.09 L1804.36 1016 L1805.14 1016.41 L1805.93 1017.09 L1806.72 1016.97 L1807.51 1017.35 L1808.3 1016.56 L1809.09 1015.29 L1809.88 1014.98 L1810.67 1015.32 L1811.46 1016.11 L1812.25 1017.19 L1813.04 1017.27 L1813.83 1016.7 L1814.62 1015.64 L1815.41 1015.62 L1816.2 1014.95 L1816.99 1015.58 L1817.78 1016.46 L1818.57 1016.65 L1819.36 1016.83 L1820.14 1016.22 L1820.93 1015.44 L1821.72 1014.81 L1822.51 1015.38 L1823.3 1015.84 L1824.09 1016.61 L1824.88 1016.64 L1825.67 1015.77 L1826.46 1015.63 L1827.25 1015.09 L1828.05 1015.14 L1828.84 1015.11 L1829.64 1015.93 L1830.43 1016.7 L1831.23 1016.46 L1832.02 1015.57 L1832.82 1015.18 L1833.61 1014.54 L1834.41 1014.76 L1835.2 1015.7 L1836 1016.06 L1836.79 1016.1 L1837.59 1015.87 L1838.38 1014.7 L1839.18 1014.62 L1839.97 1014.68 L1840.77 1014.81 L1841.56 1015.91 L1842.36 1016.45 L1843.15 1015.87 L1843.95 1015.3 L1844.74 1014.49 L1845.54 1014.72 L1846.33 1014.35 L1847.13 1015.41 L1847.92 1015.65 L1848.72 1016.02 L1849.51 1014.96 L1850.31 1014.55 L1851.1 1014.2 L1851.9 1013.89 L1852.69 1015.11 L1853.49 1015.47 L1854.28 1015.52 L1855.08 1015.41 L1855.87 1014.63 L1856.67 1013.7 L1857.46 1014.16 L1858.26 1014.14 L1859.05 1014.82 L1859.85 1015.94 L1860.64 1015.74 L1861.44 1015.07 L1862.23 1014.41 L1863.03 1013.93 L1863.82 1014.13 L1864.62 1014.79 L1865.41 1015.36 L1866.21 1015.75 L1867 1015.23 L1867.8 1013.99 L1868.59 1013.3 L1869.39 1013.71 L1870.18 1014.21 L1870.98 1015.24 L1871.77 1015.62 L1872.57 1015.02 L1873.36 1013.81 L1874.16 1013.56 L1874.95 1013.04 L1875.75 1013.84 L1876.55 1014.82 L1877.35 1015.19 L1878.15 1014.92 L1878.95 1014.03 L1879.75 1013.97 L1880.55 1013.54 L1881.35 1013.43 L1882.15 1013.71 L1882.95 1014.91 L1883.75 1014.82 L1884.55 1014.36 L1885.35 1013.59 L1886.15 1012.93 L1886.95 1012.81 L1887.75 1013.82 L1888.55 1014.41 L1889.35 1014.71 L1890.15 1014.76 L1890.95 1013.84 L1891.75 1012.83 L1892.55 1012.69 L1893.35 1013.33 L1894.15 1014.14 L1894.95 1014.66 L1895.75 1014.76 L1896.55 1013.85 L1897.35 1013.46 L1898.15 1012.84 L1898.95 1012.7 L1899.75 1013.23 L1900.55 1014.35 L1901.35 1014.78 L1902.15 1014.49 L1902.95 1013.62 L1903.75 1013.01 L1904.55 1012.72 L1905.35 1012.91 L1906.15 1013.68 L1906.95 1014.63 L1907.75 1013.94 L1908.55 1013.47 L1909.35 1012.8 L1910.15 1012.01 L1910.95 1012.4 L1911.75 1013.18 L1912.55 1014.31 L1913.35 1014.38 L1914.15 1013.24 L1914.95 1012.55 L1915.75 1012.78 L1916.55 1012.12 L1917.35 1013.29 L1918.15 1013.79 L1918.95 1014.35 L1919.75 1013.92 L1920.55 1012.62 L1921.35 1012.56 L1922.15 1012.36 L1922.95 1012.19 L1923.75 1013.72 L1924.55 1013.64 L1925.35 1013.71 L1926.15 1013.15 L1926.95 1012.43 L1927.75 1012.06 L1928.55 1011.84 L1929.35 1013.22 L1930.15 1013.56 L1930.95 1013.33 L1931.75 1013.25 L1932.55 1012.21 L1933.35 1011.86 L1934.15 1012.12 L1934.96 1012.71 L1935.76 1012.9 L1936.56 1013.38 L1937.37 1013.75 L1938.17 1012.74 L1938.98 1011.65 L1939.78 1011.82 L1940.58 1011.89 L1941.39 1012.46 L1942.19 1013.52 L1942.99 1013 L1943.8 1012.43 L1944.6 1012.16 L1945.4 1012.01 L1946.21 1011.4 L1947.01 1012.68 L1947.82 1012.79 L1948.62 1012.9 L1949.42 1012.43 L1950.23 1011.68 L1951.03 1011.74 L1951.83 1011.88 L1952.64 1011.63 L1953.44 1012.47 L1954.24 1012.76 L1955.05 1012.86 L1955.85 1012.08 L1956.65 1011.27 L1957.46 1011.6 L1958.26 1011.35 L1959.07 1012.54 L1959.87 1012.65 L1960.67 1013.09 L1961.48 1012.04 L1962.28 1011.35 L1963.08 1011.63 L1963.89 1011.17 L1964.69 1011.99 L1965.49 1012.85 L1966.3 1013.35 L1967.1 1012.53 L1967.91 1011.39 L1968.71 1011.29 L1969.51 1011.28 L1970.32 1011.73 L1971.12 1012.27 L1971.92 1013.06 L1972.73 1012.16 L1973.53 1011.91 L1974.33 1011.2 L1975.14 1011.29 L1975.94 1011.54 L1976.75 1011.77 L1977.55 1012.46 L1978.35 1012.65 L1979.16 1011.89 L1979.96 1010.84 L1980.76 1011.24 L1981.57 1010.93 L1982.37 1011.3 L1983.17 1011.98 L1983.98 1012.07 L1984.78 1012.48 L1985.58 1011.03 L1986.39 1010.81 L1987.19 1011.11 L1988 1011.48 L1988.8 1012.04 L1989.6 1012.18 L1990.41 1012.33 L1991.21 1011.76 L1992.01 1010.51 L1992.82 1010.27 L1993.62 1010.79 L1994.42 1011.68 L1995.23 1012.51 L1996.03 1012.26 L1996.84 1011.41 L1997.64 1011.06 L1998.44 1010.09 L1999.25 1010.2 L2000.05 1010.76 L2000.84 1011.94 L2001.64 1012.18 L2002.43 1011.71 L2003.23 1011.06 L2004.02 1010.11 L2004.81 1010.02 L2005.61 1010.84 L2006.4 1011.39 L2007.2 1011.95 L2007.99 1012.21 L2008.78 1011.18 L2009.58 1010.7 L2010.37 1009.72 L2011.17 1010.36 L2011.96 1010.64 L2012.75 1011.4 L2013.55 1011.55 L2014.34 1011.29 L2015.14 1010.33 L2015.93 1010.46 L2016.73 1009.88 L2017.52 1010.42 L2018.31 1010.92 L2019.11 1011.59 L2019.9 1011.77 L2020.7 1010.88 L2021.49 1010.48 L2022.28 1009.96 L2023.08 1010.31 L2023.87 1010.81 L2024.67 1011.77 L2025.46 1011.49 L2026.25 1010.7 L2027.05 1010.02 L2027.84 1010.03 L2028.64 1009.44 L2029.43 1010.14 L2030.22 1011.24 L2031.02 1011.62 L2031.81 1011.14 L2032.61 1010.6 L2033.4 1009.72" fill="none" stroke="#ff9900" stroke-width="6.7" stroke-linejoin="round" clip-path="url(#c2)" />
<path d="M261.4 1002.86 L261.55 1002.33 L261.85 1002.64 L262.62 1003.77 L263.4 1003.85 L264.18 1003.59 L264.95 1003.28 L265.73 1002.82 L266.5 1001.79 L267.32 1001.7 L268.14 1002.57 L268.95 1003.26 L269.77 1003.04 L270.59 1003.18 L271.41 1002.12 L272.23 1001.43 L273.05 1001.52 L273.86 1001.41 L274.68 1002.55 L275.5 1002.71 L276.29 1003.03 L277.08 1001.81 L277.88 1001.23 L278.67 1000.26 L279.46 1000.88 L280.25 1001.31 L281.04 1001.55 L281.83 1001.88 L282.62 1002.14 L283.42 1000.94 L284.21 1000.05 L285 999.39 L285.77 1000.09 L286.54 1000.42 L287.31 1000.69 L288.08 1001.08 L288.85 1000.86 L289.62 999.95 L290.38 998.62 L291.15 998.61 L291.92 998.84 L292.69 998.94 L293.46 999.41 L294.23 999.78 L295 999.01 L295.77 998.29 L296.54 997.91 L297.31 997.74 L298.08 997.04 L298.85 998.03 L299.62 998.4 L300.38 998.14 L301.15 997.88 L301.92 997.24 L302.69 996.8 L303.46 995.89 L304.23 996.23 L305 996.96 L305.77 997.6 L306.54 997.97 L307.31 997.43 L308.08 996.09 L308.85 995.67 L309.62 995.35 L310.38 995.48 L311.15 996.06 L311.92 996.38 L312.69 996.36 L313.46 996.32 L314.23 995.73 L315 994.82 L315.77 994.53 L316.54 995.06 L317.31 995.02 L318.08 995.85 L318.85 996.19 L319.62 995.62 L320.38 994.29 L321.15 994.08 L321.92 994.12 L322.69 993.86 L323.46 994.64 L324.23 995.69 L325 995.29 L325.77 994.97 L326.54 994.32 L327.31 993.94 L328.08 993.44 L328.85 994.21 L329.62 994.69 L330.38 994.96 L331.15 995.24 L331.92 994.53 L332.69 993.59 L333.46 993.41 L334.23 992.9 L335 993.53 L335.78 994.72 L336.56 995.39 L337.34 994.75 L338.12 994.26 L338.91 993.73 L339.69 993.31 L340.47 993.04 L341.25 994.16 L342.03 994.28 L342.81 995.1 L343.59 994.81 L344.38 994.61 L345.16 993.44 L345.94 993.36 L346.72 993.79 L347.5 993.63 L348.29 994.51 L349.08 994.81 L349.87 995.34 L350.66 994.59 L351.45 993.56 L352.24 993.87 L353.03 993.5 L353.82 994.46 L354.61 995.36 L355.39 995.5 L356.18 994.72 L356.97 994.04 L357.76 993.58 L358.55 994.13 L359.34 994.51 L360.13 994.7 L360.92 995.07 L361.71 995.71 L362.5 994.88 L363.3 994.83 L364.09 994.39 L364.89 994.32 L365.68 994.89 L366.48 995.65 L367.27 996.19 L368.07 995.72 L368.86 995.49 L369.66 994.19 L370.45 994.49 L371.25 994.51 L372.05 995.68 L372.84 996.22 L373.64 996.24 L374.43 996.22 L375.23 995.48 L376.02 994.92 L376.82 994.24 L377.61 994.85 L378.41 995.63 L379.2 996.66 L380 996.99 L380.8 996.33 L381.6 995.78 L382.4 995.22 L383.2 994.86 L384 995.56 L384.8 996.63 L385.6 997.27 L386.4 996.9 L387.2 996.6 L388 995.64 L388.8 995.35 L389.6 995.51 L390.4 996.45 L391.2 997.32 L392 997.2 L392.8 997.66 L393.6 996.19 L394.4 996.29 L395.2 995.88 L396 996.9 L396.8 997.09 L397.6 997.46 L398.4 998.14 L399.2 997.4 L400 997.13 L400.8 996.6 L401.6 996.55 L402.4 997.39 L403.2 998.17 L404 998.29 L404.8 998.03 L405.6 997.85 L406.4 997.16 L407.2 996.48 L408 996.95 L408.8 997.94 L409.6 998.32 L410.4 998.94 L411.2 998.48 L412 997.74 L412.8 997.64 L413.6 997.63 L414.4 997.58 L415.2 998.84 L416 999.74 L416.8 999.4 L417.6 999.24 L418.4 997.91 L419.2 997.55 L420 997.87 L420.8 998.48 L421.6 999.16 L422.4 999.61 L423.2 999.62 L424 999.28 L424.8 998.66 L425.6 997.86 L426.4 998.95 L427.2 999.6 L428 999.91 L428.8 999.83 L429.6 1000.2 L430.4 998.88 L431.2 998.53 L432 998.66 L432.8 999.7 L433.6 1000.61 L434.4 1001.08 L435.2 1000.95 L436 1000.4 L436.8 999.43 L437.6 998.77 L438.4 999.23 L439.2 999.87 L440 1000.56 L440.8 1000.87 L441.6 1000.76 L442.4 999.87 L443.2 999.54 L444 999.97 L444.8 999.91 L445.6 1000.92 L446.4 1001.83 L447.2 1001.15 L448 1001.33 L448.8 1000.5 L449.6 999.64 L450.4 1000.56 L451.2 1001.12 L452 1001.25 L452.8 1002.45 L453.6 1001.96 L454.4 1001.43 L455.2 1000.43 L456 1000.05 L456.8 1001.02 L457.6 1001.77 L458.4 1001.97 L459.2 1002.06 L460 1002.2 L460.8 1001.3 L461.6 1000.82 L462.4 1001.29 L463.2 1001.56 L464 1001.93 L464.8 1002.99 L465.6 1003.01 L466.4 1002.36 L467.2 1002.04 L468 1001.26 L468.8 1001.64 L469.6 1001.78 L470.4 1002.74 L471.2 1003.1 L472 1002.99 L472.8 1002.45 L473.6 1001.5 L474.4 1001.87 L475.2 1001.72 L476 1002.65 L476.8 1003.59 L477.6 1003.23 L478.4 1003.09 L479.2 1002.86 L480 1002.32 L480.8 1002.06 L481.6 1002.46 L482.4 1003.74 L483.2 1004.32 L484 1003.52 L484.8 1003.26 L485.6 1002.71 L486.4 1002.55 L487.2 1002.38 L488 1003.64 L488.8 1004.15 L489.6 1004.6 L490.4 1004.43 L491.2 1003.54 L492 1002.96 L492.8 1002.53 L493.6 1002.98 L494.4 1003.83 L495.2 1004.8 L496 1004.67 L496.8 1003.91 L497.6 1003.79 L498.4 1003.02 L499.2 1003.57 L500 1003.9 L500.8 1004.71 L501.6 1004.76 L502.4 1005.17 L503.2 1004.09 L504 1003.62 L504.8 1003.13 L505.6 1003.57 L506.4 1003.98 L507.2 1004.8 L508 1005.04 L508.8 1004.96 L509.6 1003.75 L510.4 1003.25 L511.2 1003.62 L512 1003.99 L512.8 1005.1 L513.6 1004.84 L514.4 1005.2 L515.2 1005.01 L516 1004.26 L516.8 1003.52 L517.6 1003.86 L518.4 1004.41 L519.2 1004.77 L520 1005.17 L520.78 1005.09 L521.56 1005.06 L522.33 1003.84 L523.11 1003.71 L523.89 1004.29 L524.67 1005.12 L525.44 1005.74 L526.22 1005.68 L527 1005.42 L527.78 1004.48 L528.56 1004.62 L529.33 1004.12 L530.11 1004.46 L530.89 1005.1 L531.67 1005.98 L532.44 1005.83 L533.22 1005.62 L534 1004.77 L534.8 1004.35 L535.6 1004.66 L536.4 1005.04 L537.2 1005.64 L538 1006.88 L538.8 1006.17 L539.6 1005.99 L540.4 1005.24 L541.2 1004.7 L542 1005.15 L542.81 1006 L543.62 1006.99 L544.44 1006.98 L545.25 1006.86 L546.06 1006.71 L546.88 1005.93 L547.69 1005.69 L548.5 1006 L549.33 1007.36 L550.17 1008.13 L551 1007.56 L551.83 1007.61 L552.67 1006.55 L553.5 1006.38 L554.25 1006.12 L555 1006.86 L555.75 1007.45 L556.5 1007.69 L557.25 1008.02 L558 1007.49 L558.8 1005.97 L559.6 1005.8 L560.4 1005.33 L561.2 1005.98 L562 1006.04 L562.58 1006.43 L563.17 1005.51 L563.75 1004.72 L564.33 1003.9 L564.92 1002.68 L565.5 1001.88 L565.93 1001.41 L566.36 1000.7 L566.79 1000.44 L567.21 999.92 L567.64 999.53 L568.07 999.29 L568.5 999.52 L568.86 998.48 L569.21 997.15 L569.57 996.37 L569.93 995.7 L570.29 994.57 L570.64 993.92 L571 992.8 L571.25 991.14 L571.5 990.94 L571.75 990.29 L572 989.33 L572.25 988.82 L572.5 987.67 L572.75 987.31 L573 986.81 L573.22 986.33 L573.44 985.68 L573.67 985.2 L573.89 984.18 L574.11 983.98 L574.33 983.16 L574.56 982.81 L574.78 981.51 L575 981.01 L575.2 980.39 L575.4 979.43 L575.6 978.47 L575.8 977.04 L576 976.09 L576.2 975.27 L576.4 974.58 L576.6 973.04 L576.8 972.63 L577 971.17 L577.2 970.35 L577.4 969.55 L577.6 968.96 L577.8 968.31 L578 967.75 L578.2 966.38 L578.4 965.56 L578.6 965.6 L578.8 964.74 L579 964.43 L579.22 963.66 L579.44 962.56 L579.67 962.2 L579.89 961.49 L580.11 961.1 L580.33 960.32 L580.56 960.18 L580.78 959.51 L581 958.12 L581.25 958.08 L581.5 957.21 L581.75 955.81 L582 955.32 L582.25 954.43 L582.5 953.26 L582.75 951.94 L583 951.21 L583.29 950.41 L583.57 949.15 L583.86 948.46 L584.14 947.38 L584.43 946.78 L584.71 946.77 L585 945.81 L585.33 945.77 L585.67 945.16 L586 945.05 L586.33 944.26 L586.67 943.6 L587 943.54 L587.4 942.55 L587.8 941.73 L588.2 941.07 L588.6 940.14 L589 939.53 L589.5 938.44 L590 937.46 L590.5 936.95 L591 936.8 L591.5 936.23 L592.1 936.43 L592.7 936.62 L593.3 936.54 L593.9 935.53 L594.5 934.22 L595.12 933.89 L595.75 932.87 L596.38 931.79 L597 931.72 L597.67 931.62 L598.33 932.54 L599 932.1 L599.67 932.22 L600.33 931.32 L601 930.36 L601.67 929.14 L602.33 928.12 L603 927.61 L603.5 927.89 L604 927.24 L604.5 927.54 L604.83 927.32 L605.17 926.21 L605.5 925.84 L605.88 925.09 L606.25 923.78 L606.62 922.78 L607 922.05 L607.33 920.69 L607.67 919.75 L608 918.95 L608.33 918.84 L608.67 918.14 L609 916.88 L609.5 916.97 L610 916.62 L610.5 916.07 L611 915.95 L611.5 915.79 L612.1 914.56 L612.7 914.48 L613.3 912.83 L613.9 911.92 L614.5 911.76 L615.2 910.86 L615.9 911.03 L616.6 911.62 L617.3 911.53 L618 911.17 L618.8 910.69 L619.6 910.1 L620.4 908.96 L621.2 908.52 L622 909.2 L622.88 910.31 L623.75 910.16 L624.62 909.38 L625.5 908.7 L626.25 908.21 L627 908.29 L627.75 908.73 L628.5 909.79 L629.1 910.71 L629.7 910.73 L630.3 911.13 L630.9 911.74 L631.5 911.65 L632 911.77 L632.5 911.56 L633 912.58 L633.5 912.81 L634 914.33 L634.5 914.99 L635 916.56 L635.5 917.45 L636 917.77 L636.5 918.44 L637 918.88 L637.5 918.97 L638 918.9 L638.5 919.12 L639 919.35 L639.5 920.33 L640 920.73 L640.5 922.02 L641 922.69 L641.5 923.59 L642 924.8 L642.57 924.92 L643.14 924.81 L643.71 925.44 L644.29 924.86 L644.86 925.3 L645.43 925.77 L646 926.29 L646.67 927.97 L647.33 928.68 L648 929.45 L648.67 929.15 L649.33 929.59 L650 929.35 L650.75 929.18 L651.5 928.76 L652.25 929.49 L653 930.4 L653.75 931.23 L654.62 932.01 L655.5 931.02 L656.38 930.83 L657.25 930.57 L658.12 931.18 L659 931.28 L659.88 932.45 L660.75 932.63 L661.45 931.34 L662.15 930.56 L662.85 930.13 L663.55 929.38 L664.25 929.95 L664.96 930.37 L665.67 929.92 L666.38 930.07 L667.08 929.25 L667.79 928.73 L668.5 927.62 L669.21 927.36 L669.93 926.8 L670.64 927.12 L671.36 927.2 L672.07 927.3 L672.79 926.56 L673.5 926.03 L674.21 924.52 L674.93 923.8 L675.64 923.75 L676.36 923.69 L677.07 923.19 L677.79 923.71 L678.5 923.56 L679.21 923.24 L679.93 922.32 L680.64 921.03 L681.36 920.81 L682.07 920.09 L682.79 920.48 L683.5 920.72 L684.25 921.18 L685 920.54 L685.75 919.9 L686.5 919.1 L687.25 917.78 L688 917.21 L688.8 918.14 L689.6 918.55 L690.4 918.94 L691.2 918.8 L692 917.55 L692.88 917.44 L693.75 916.86 L694.62 917.44 L695.5 917.89 L696.25 919.14 L697 919 L697.75 919.17 L698.5 919.25 L699.1 919.24 L699.7 919.08 L700.3 919.21 L700.9 920.68 L701.5 920.86 L702.1 922.62 L702.7 922.86 L703.3 923.8 L703.9 923.89 L704.5 923.56 L705.05 923.7 L705.6 923.82 L706.15 924.53 L706.7 925.03 L707.25 926.22 L707.75 927.04 L708.25 927.92 L708.75 929.31 L709.25 929.58 L709.75 930.62 L710.15 930.51 L710.55 930.68 L710.95 931.37 L711.35 931.87 L711.75 931.82 L712.05 932.77 L712.35 933.11 L712.65 934.5 L712.95 934.74 L713.25 935.43 L713.46 936.29 L713.67 937.67 L713.88 938.65 L714.08 939.24 L714.29 940.23 L714.5 941.08 L714.67 941.97 L714.83 942.71 L715 943.92 L715.17 944.88 L715.33 945.14 L715.5 946.71 L715.62 946.86 L715.75 947.75 L715.88 948.2 L716 949.28 L716.12 949.71 L716.25 950.52 L716.38 951.01 L716.5 951.74 L716.61 952.03 L716.72 953.51 L716.83 953.69 L716.94 954.28 L717.06 955.42 L717.17 955.61 L717.28 956.74 L717.39 957.1 L717.5 957.53 L717.57 958.66 L717.64 959.13 L717.71 959.79 L717.78 961.23 L717.85 961.93 L717.92 962.25 L717.98 963.3 L718.05 963.93 L718.12 964.36 L718.19 964.96 L718.26 966.13 L718.33 966.55 L718.4 967.84 L718.45 968.51 L718.5 969 L718.55 970.32 L718.6 971.32 L718.65 971.71 L718.7 972.98 L718.75 973.35 L718.8 973.79 L718.85 975.03 L718.9 975.77 L718.95 977.12 L719 977.61 L719.05 978.85 L719.1 978.98 L719.15 980.02 L719.2 980.54 L719.23 981.38 L719.27 982.78 L719.3 982.97 L719.33 983.94 L719.37 984.94 L719.4 986.19 L719.43 986.38 L719.47 986.97 L719.5 988.41 L719.53 989.21 L719.57 989.52 L719.6 991.03 L719.63 991.79 L719.67 992.66 L719.7 993.37 L719.73 993.92 L719.77 994.87 L719.8 995.16 L719.82 996.44 L719.84 996.99 L719.86 997.78 L719.88 998.57 L719.91 999.17 L719.93 1000.63 L719.95 1001.4 L719.97 1001.53 L719.99 1002.79 L720.01 1003.16 L720.03 1004.44 L720.05 1004.91 L720.07 1006.43 L720.09 1006.66 L720.12 1007.65 L720.14 1008.22 L720.16 1009.61 L720.18 1009.61 L720.2 1010.68 L720.22 1011.43 L720.25 1012.71 L720.27 1013.19 L720.29 1014.44 L720.31 1014.78 L720.34 1015.41 L720.36 1016.52 L720.38 1017 L720.4 1017.87 L720.43 1019.02 L720.45 1019.88 L720.47 1020.36 L720.5 1021.14 L720.52 1022.26 L720.54 1023 L720.56 1023.85 L720.59 1024.83 L720.61 1025.16 L720.63 1025.85 L720.65 1026.71 L720.68 1028.18 L720.7 1028.9 L720.72 1029.22 L720.75 1030.19 L720.77 1030.99 L720.8 1032.35 L720.82 1032.7 L720.84 1033.78 L720.87 1034.03 L720.89 1034.8 L720.92 1035.77 L720.94 1036.96 L720.96 1037.59 L720.99 1038.78 L721.01 1039.54 L721.04 1040.21 L721.06 1041.31 L721.08 1042.09 L721.11 1042.82 L721.13 1042.91 L721.16 1044 L721.18 1044.57 L721.2 1045.79 L721.23 1046.5 L721.25 1046.93 L721.28 1047.72 L721.3 1048.87 L721.32 1049.81 L721.34 1050.42 L721.36 1051.27 L721.38 1052.22 L721.4 1053.08 L721.42 1053.88 L721.44 1054.42 L721.46 1055 L721.48 1056.42 L721.5 1056.47 L721.52 1057.42 L721.54 1058.2 L721.56 1059.36 L721.58 1060.18 L721.6 1060.5 L721.62 1061.67 L721.64 1062.52 L721.66 1063.41 L721.68 1063.66 L721.7 1065.04 L721.72 1065.42 L721.74 1066.32 L721.76 1066.87 L721.78 1068.31 L721.8 1068.9 L721.82 1069.87 L721.83 1070.39 L721.85 1070.82 L721.86 1071.88 L721.88 1072.38 L721.9 1073.19 L721.91 1074.62 L721.93 1074.68 L721.94 1075.82 L721.96 1076.3 L721.98 1077.74 L721.99 1078.74 L722.01 1078.67 L722.02 1079.75 L722.04 1081.09 L722.06 1081.23 L722.07 1082.08 L722.09 1083.47 L722.1 1084.2 L722.12 1084.51 L722.14 1085.56 L722.15 1086.46 L722.17 1086.85 L722.18 1087.32 L722.2 1088.45 L722.23 1089.5 L722.25 1090.52 L722.28 1090.82 L722.31 1091.56 L722.33 1092.3 L722.36 1093.27 L722.38 1093.51 L722.41 1095.08 L722.44 1095.89 L722.46 1095.82 L722.49 1096.57 L722.52 1097.61 L722.54 1098.23 L722.57 1099.55 L722.59 1100.41 L722.62 1100.88 L722.65 1102.01 L722.67 1102.13 L722.7 1102.86 L722.75 1103.76 L722.79 1104.55 L722.84 1105.05 L722.88 1106.42 L722.93 1107 L722.98 1107.31 L723.02 1107.98 L723.07 1108.76 L723.12 1109.59 L723.16 1110.55 L723.21 1111.39 L723.25 1112.27 L723.3 1112.22 L723.37 1113.07 L723.44 1113.99 L723.52 1115.25 L723.59 1115.56 L723.66 1116.56 L723.73 1117.42 L723.81 1117.85 L723.88 1118.55 L723.95 1119.68 L724.07 1120.27 L724.18 1121.31 L724.3 1121.4 L724.42 1122.76 L724.53 1123.1 L724.65 1124.22 L724.86 1124.78 L725.08 1125.51 L725.29 1126.6 L725.5 1126.76 L726 1127.9 L726.5 1129.01 L727.12 1129.52 L727.75 1128.82 L728.25 1128.6 L728.75 1127.06 L729.25 1126.34 L729.81 1125.33 L730.38 1124.67 L730.94 1123.91 L731.5 1123.87 L732 1123.51 L732.5 1123.01 L733 1122.79 L733.5 1122.13 L734 1121.8 L734.5 1120.31 L735 1119.19 L735.5 1118.23 L736 1117.33 L736.5 1117.11 L737 1116.52 L737.5 1115.85 L738.1 1115.97 L738.7 1116.36 L739.3 1116.18 L739.9 1114.97 L740.5 1114.76 L741.1 1113.05 L741.7 1112.97 L742.3 1111.6 L742.9 1111.73 L743.5 1110.78 L744.25 1111.72 L745 1112.24 L745.75 1112.09 L746.5 1111.29 L747.25 1110.2 L748 1109.56 L748.75 1109.84 L749.5 1109.92 L750.25 1110.08 L751 1110.95 L751.75 1111.62 L752.5 1111.26 L753.25 1110.83 L754 1111.02 L754.75 1110.26 L755.5 1111.15 L756.25 1111.9 L757 1112.99 L757.75 1114.09 L758.5 1114.22 L759.17 1114.09 L759.83 1113.14 L760.5 1113.73 L761.17 1113.96 L761.83 1113.9 L762.5 1115 L763.21 1116.42 L763.93 1117.19 L764.64 1117.08 L765.36 1117.21 L766.07 1116.2 L766.79 1116.32 L767.5 1117.22 L768.21 1118.01 L768.93 1118.49 L769.64 1119.63 L770.36 1119.94 L771.07 1120.18 L771.79 1119.59 L772.5 1119.3 L773.21 1119.82 L773.93 1120.34 L774.64 1120.96 L775.36 1122.22 L776.07 1122.47 L776.79 1122.88 L777.5 1122.4 L778.21 1122.11 L778.93 1121.96 L779.64 1121.89 L780.36 1122.74 L781.07 1123.64 L781.79 1124.34 L782.5 1124.84 L783.33 1124.88 L784.17 1124.21 L785 1123.28 L785.83 1123.29 L786.67 1123.95 L787.5 1125.52 L788.33 1125.8 L789.17 1125.56 L790 1125.04 L790.83 1123.94 L791.67 1123.58 L792.5 1123.97 L793.33 1125.02 L794.17 1125.91 L795 1125.27 L795.77 1125.03 L796.54 1123.99 L797.31 1123.66 L798.08 1124.02 L798.85 1124.64 L799.62 1125.57 L800.38 1125.4 L801.15 1125.19 L801.92 1124.46 L802.69 1123.86 L803.46 1123.3 L804.23 1123.37 L805 1124.02 L805.77 1125.03 L806.54 1125.29 L807.31 1125.51 L808.08 1124.5 L808.85 1123.41 L809.62 1123.04 L810.38 1123.65 L811.15 1124.45 L811.92 1124.86 L812.69 1124.7 L813.46 1124.57 L814.23 1124 L815 1123.28 L815.77 1122.73 L816.54 1122.74 L817.31 1123.16 L818.08 1124.51 L818.85 1124.84 L819.62 1124.55 L820.38 1123.31 L821.15 1122.86 L821.92 1122.05 L822.69 1122.12 L823.46 1122.57 L824.23 1123.44 L825 1124.07 L825.77 1123.52 L826.54 1122.56 L827.31 1122.09 L828.08 1121.82 L828.85 1121.73 L829.62 1122.54 L830.38 1123.56 L831.15 1123.32 L831.92 1123.47 L832.69 1122.52 L833.46 1121.31 L834.23 1121.73 L835 1121.78 L835.77 1122.18 L836.54 1122.54 L837.31 1123.15 L838.08 1122.37 L838.85 1121.92 L839.62 1121 L840.38 1121.01 L841.15 1121.82 L841.92 1122.13 L842.69 1122.62 L843.46 1122.86 L844.23 1122.51 L845 1121.75 L845.78 1120.86 L846.56 1120.65 L847.34 1121.39 L848.12 1122.37 L848.91 1122.88 L849.69 1122.62 L850.47 1122 L851.25 1121.55 L852.03 1120.53 L852.81 1120.89 L853.59 1121.62 L854.38 1122.48 L855.16 1122.19 L855.94 1122.26 L856.72 1121.99 L857.5 1121.4 L858.29 1121.27 L859.08 1120.59 L859.87 1121.18 L860.66 1122.22 L861.45 1122.9 L862.24 1122.07 L863.03 1121.78 L863.82 1121.4 L864.61 1120.83 L865.39 1120.85 L866.18 1121.42 L866.97 1122.7 L867.76 1122.75 L868.55 1122.47 L869.34 1121.94 L870.13 1121.4 L870.92 1120.9 L871.71 1121.25 L872.5 1122.46 L873.3 1122.31 L874.09 1123.06 L874.89 1122.35 L875.68 1121.72 L876.48 1120.96 L877.27 1121.61 L878.07 1121.58 L878.86 1122.33 L879.66 1122.57 L880.45 1123.25 L881.25 1122.63 L882.05 1121.25 L882.84 1120.99 L883.64 1121.33 L884.43 1121.75 L885.23 1122.87 L886.02 1123.5 L886.82 1123.12 L887.61 1122.28 L888.41 1122.09 L889.2 1121.31 L890 1121.71 L890.8 1122.41 L891.6 1123.33 L892.4 1123.33 L893.2 1122.59 L894 1122.24 L894.8 1122.18 L895.6 1122.15 L896.4 1122.49 L897.2 1123.46 L898 1123.58 L898.8 1123.5 L899.6 1123.1 L900.4 1121.99 L901.2 1122.03 L902 1122.22 L902.8 1122.73 L903.6 1123.6 L904.4 1123.58 L905.2 1123.69 L906 1122.55 L906.8 1122.28 L907.6 1121.83 L908.4 1122.73 L909.2 1123.08 L910 1124.31 L910.8 1123.61 L911.6 1123.81 L912.4 1122.65 L913.2 1122.78 L914 1122.32 L914.8 1122.76 L915.6 1123.94 L916.4 1123.94 L917.2 1124.26 L918 1123.33 L918.8 1122.47 L919.6 1122.5 L920.4 1122.49 L921.2 1123.22 L922 1123.69 L922.8 1124.01 L923.6 1123.6 L924.4 1122.84 L925.2 1122.52 L926 1122.5 L926.8 1123.13 L927.6 1123.83 L928.4 1124.44 L929.2 1124.34 L930 1123.65 L930.8 1123.27 L931.6 1122.22 L932.4 1122.49 L933.2 1122.87 L934 1124.35 L934.8 1124.62 L935.6 1123.91 L936.4 1123.62 L937.2 1122.71 L938 1122.83 L938.8 1123.16 L939.6 1123.34 L940.4 1123.87 L941.2 1124.07 L942 1124.08 L942.8 1122.91 L943.6 1122.29 L944.4 1121.99 L945.2 1122.84 L946 1124.04 L946.8 1124 L947.6 1124.2 L948.4 1123.67 L949.2 1123 L950 1122.46 L950.8 1122.49 L951.6 1122.99 L952.4 1124.23 L953.2 1124.35 L954 1123.97 L954.8 1122.66 L955.6 1122.59 L956.4 1122.51 L957.2 1122.45 L958 1123.35 L958.8 1124.01 L959.6 1123.86 L960.4 1123.22 L961.2 1122.55 L962 1122.37 L962.8 1122.07 L963.6 1123.37 L964.4 1123.74 L965.2 1124 L966 1123.78 L966.8 1123.2 L967.6 1122.79 L968.4 1122.63 L969.2 1122.68 L970 1123.64 L970.8 1124.16 L971.6 1124.57 L972.4 1124.12 L973.2 1123.47 L974 1122.27 L974.8 1122.53 L975.6 1122.84 L976.4 1124.23 L977.2 1124.15 L978 1124.81 L978.8 1123.75 L979.6 1122.89 L980.4 1123.01 L981.2 1122.74 L982 1123.55 L982.8 1124.34 L983.6 1124.85 L984.4 1124.5 L985.2 1123.98 L986 1123.48 L986.8 1123.47 L987.6 1123.55 L988.4 1124.11 L989.2 1124.79 L990 1124.78 L990.79 1124.8 L991.58 1123.87 L992.37 1123.52 L993.16 1123.66 L993.95 1124.1 L994.74 1125.03 L995.53 1125.14 L996.32 1125.33 L997.11 1124.98 L997.89 1123.95 L998.68 1123.89 L999.47 1123.59 L1000.26 1124.13 L1001.05 1125.48 L1001.84 1125.59 L1002.63 1125.77 L1003.42 1124.84 L1004.21 1123.91 L1005 1123.56 L1005.77 1124.6 L1006.54 1124.74 L1007.31 1125.35 L1008.08 1125.97 L1008.85 1125.9 L1009.62 1125.18 L1010.38 1124.14 L1011.15 1124.65 L1011.92 1124.93 L1012.69 1125.34 L1013.46 1126.55 L1014.23 1126.43 L1015 1126.4 L1015.79 1125.06 L1016.57 1124.59 L1017.36 1124.8 L1018.14 1125.08 L1018.93 1125.74 L1019.71 1126.25 L1020.5 1125.69 L1021.29 1125.93 L1022.07 1124.44 L1022.86 1124.05 L1023.64 1124.04 L1024.43 1124.66 L1025.21 1124.96 L1026 1125.69 L1026.8 1125.22 L1027.6 1124.69 L1028.4 1123.84 L1029.2 1123.08 L1030 1123.72 L1030.8 1123.5 L1031.6 1124.2 L1032.4 1124.98 L1033.2 1124.12 L1034 1123.79 L1034.8 1122.42 L1035.6 1122.26 L1036.4 1122.5 L1037.2 1122.95 L1038 1123.91 L1038.77 1123.45 L1039.54 1123.36 L1040.31 1122.38 L1041.08 1121.66 L1041.85 1121.99 L1042.62 1122.47 L1043.38 1122.31 L1044.15 1123.34 L1044.92 1123.51 L1045.69 1122.81 L1046.46 1121.99 L1047.23 1121.72 L1048 1121.14 L1048.8 1122.06 L1049.6 1122.67 L1050.4 1123.9 L1051.2 1123.91 L1052 1123.14 L1052.8 1122.91 L1053.6 1122.43 L1054.4 1122.84 L1055.2 1123.23 L1056 1124.54 L1056.77 1124.84 L1057.54 1125.02 L1058.31 1123.84 L1059.08 1123.41 L1059.85 1123.57 L1060.62 1123.46 L1061.38 1124.65 L1062.15 1125.48 L1062.92 1125.23 L1063.69 1125.58 L1064.46 1124.64 L1065.23 1124.09 L1066 1124.02 L1066.8 1124.79 L1067.6 1125.44 L1068.4 1125.93 L1069.2 1126.45 L1070 1126.25 L1070.8 1125.07 L1071.6 1125.19 L1072.4 1124.91 L1073.2 1125.59 L1074 1126.6 L1074.8 1126.6 L1075.6 1126.86 L1076.4 1126.59 L1077.2 1125.34 L1078 1125.37 L1078.77 1125.66 L1079.54 1126.18 L1080.31 1126.92 L1081.08 1127.59 L1081.85 1126.78 L1082.62 1126.74 L1083.38 1125.69 L1084.15 1125.17 L1084.92 1125.71 L1085.69 1126.03 L1086.46 1127.01 L1087.23 1127.09 L1088 1127.14 L1088.8 1126.12 L1089.6 1126.12 L1090.4 1125.04 L1091.2 1125.46 L1092 1126.19 L1092.8 1126.78 L1093.6 1126.35 L1094.4 1126.5 L1095.2 1125.26 L1096 1124.33 L1096.8 1124.45 L1097.6 1124.98 L1098.4 1125.33 L1099.2 1126.02 L1100 1125.45 L1100.8 1125.2 L1101.6 1124.46 L1102.4 1123.82 L1103.2 1123.17 L1104 1123.99 L1104.8 1124.6 L1105.6 1124.6 L1106.4 1123.99 L1107.2 1123.5 L1108 1122.27 L1108.8 1121.94 L1109.6 1122.36 L1110.4 1123.42 L1111.2 1123.29 L1112 1123.73 L1112.83 1122.92 L1113.67 1122.1 L1114.5 1121.79 L1115.33 1121.55 L1116.17 1122.26 L1117 1122.69 L1117.83 1123.23 L1118.67 1122.93 L1119.5 1121.36 L1120.28 1121.68 L1121.06 1120.8 L1121.83 1121.81 L1122.61 1122.07 L1123.39 1123.34 L1124.17 1123.23 L1124.94 1122.62 L1125.72 1122.63 L1126.5 1121.63 L1127.25 1122.17 L1128 1122.15 L1128.75 1123.01 L1129.5 1123.47 L1130.25 1123.89 L1131 1123.15 L1131.75 1122.65 L1132.5 1121.86 L1133.33 1121.79 L1134.17 1122.01 L1135 1122.85 L1135.83 1123.31 L1136.67 1123.53 L1137.5 1122.37 L1138.25 1121.51 L1139 1121.67 L1139.75 1121.31 L1140.5 1121.16 L1141.25 1122.32 L1142 1122.41 L1142.67 1121.84 L1143.33 1121.36 L1144 1120 L1144.67 1118.78 L1145.33 1118.13 L1146 1118.07 L1146.88 1119.11 L1147.75 1119.84 L1148.62 1120.18 L1149.5 1118.93 L1150.1 1118.78 L1150.7 1118.74 L1151.3 1119.18 L1151.9 1120.22 L1152.5 1120.89 L1153.25 1121.38 L1154 1122.85 L1154.75 1122.99 L1155.5 1123.05 L1156.25 1122.92 L1157 1122.78 L1157.75 1123.2 L1158.5 1124.01 L1159.3 1124.93 L1160.1 1125.8 L1160.9 1125.89 L1161.7 1125.62 L1162.5 1124.6 L1163.33 1123.77 L1164.17 1124.26 L1165 1124.54 L1165.83 1125.02 L1166.67 1125.35 L1167.5 1125.36 L1168.33 1124.25 L1169.17 1123.67 L1170 1122.92 L1170.83 1123.82 L1171.67 1124.63 L1172.5 1125.17 L1173.33 1124.86 L1174.17 1123.49 L1175 1123.56 L1175.77 1122.38 L1176.54 1123.28 L1177.31 1123.62 L1178.08 1124.63 L1178.85 1124.86 L1179.62 1124.36 L1180.38 1123.07 L1181.15 1122.91 L1181.92 1122.16 L1182.69 1122.7 L1183.46 1123.05 L1184.23 1123.79 L1185 1123.74 L1185.77 1123.81 L1186.54 1122.69 L1187.31 1122.15 L1188.08 1122.37 L1188.85 1122.21 L1189.62 1123.08 L1190.38 1123.89 L1191.15 1123.8 L1191.92 1123.56 L1192.69 1122.93 L1193.46 1121.66 L1194.23 1121.39 L1195 1122.42 L1195.77 1122.96 L1196.54 1122.93 L1197.31 1123.54 L1198.08 1122.32 L1198.85 1121.69 L1199.62 1121.61 L1200.38 1120.73 L1201.15 1121.73 L1201.92 1121.76 L1202.69 1122.74 L1203.46 1122.19 L1204.23 1122.04 L1205 1121.34 L1205.83 1120.74 L1206.67 1121 L1207.5 1120.81 L1208.33 1122.16 L1209.17 1122.71 L1210 1122.21 L1210.83 1121.28 L1211.67 1121.1 L1212.5 1120.54 L1213.33 1120.79 L1214.17 1121.99 L1215 1122.55 L1215.77 1122.71 L1216.54 1122.02 L1217.31 1120.97 L1218.08 1120.55 L1218.85 1121.1 L1219.62 1121.2 L1220.38 1122.5 L1221.15 1122.62 L1221.92 1123.27 L1222.69 1122.16 L1223.46 1122.15 L1224.23 1121.33 L1225 1122.13 L1225.77 1122.19 L1226.54 1122.93 L1227.31 1123.7 L1228.08 1123.16 L1228.85 1123.26 L1229.62 1121.97 L1230.38 1121.3 L1231.15 1121.6 L1231.92 1122.23 L1232.69 1123.14 L1233.46 1123.1 L1234.23 1123.78 L1235 1123.13 L1235.77 1122.36 L1236.54 1122.11 L1237.31 1121.32 L1238.08 1122.4 L1238.85 1123.18 L1239.62 1122.92 L1240.38 1122.95 L1241.15 1122.13 L1241.92 1122.05 L1242.69 1121.2 L1243.46 1121.61 L1244.23 1121.62 L1245 1122.56 L1245.78 1123.04 L1246.56 1122.48 L1247.34 1121.77 L1248.12 1120.91 L1248.91 1121.06 L1249.69 1121.07 L1250.47 1121.5 L1251.25 1122.24 L1252.03 1122.49 L1252.81 1122.01 L1253.59 1121.75 L1254.38 1120.7 L1255.16 1120.51 L1255.94 1120.95 L1256.72 1122.17 L1257.5 1122.51 L1258.29 1122.23 L1259.08 1122.41 L1259.87 1121.79 L1260.66 1120.67 L1261.45 1121 L1262.24 1121.3 L1263.03 1121.95 L1263.82 1122.79 L1264.61 1122.59 L1265.39 1122.06 L1266.18 1121.6 L1266.97 1120.7 L1267.76 1120.46 L1268.55 1120.93 L1269.34 1122.28 L1270.13 1122.46 L1270.92 1122.67 L1271.71 1122.15 L1272.5 1120.82 L1273.28 1120.41 L1274.06 1120.94 L1274.84 1121.06 L1275.62 1121.78 L1276.41 1122.02 L1277.19 1121.94 L1277.97 1121.4 L1278.75 1120.52 L1279.53 1120.7 L1280.31 1121.06 L1281.09 1121.78 L1281.88 1122.12 L1282.66 1122.48 L1283.44 1122.13 L1284.22 1121.37 L1285 1120.39 L1285.77 1120.44 L1286.54 1121.01 L1287.31 1121.12 L1288.08 1121.75 L1288.85 1121.51 L1289.62 1121.59 L1290.38 1120.41 L1291.15 1120.11 L1291.92 1119.73 L1292.69 1120.04 L1293.46 1121.38 L1294.23 1121.38 L1295 1121.98 L1295.77 1121.35 L1296.54 1120.53 L1297.31 1119.91 L1298.08 1120.01 L1298.85 1120.61 L1299.62 1120.75 L1300.38 1121.6 L1301.15 1121.4 L1301.92 1120.87 L1302.69 1120.21 L1303.46 1120.22 L1304.23 1120.34 L1305 1120.38 L1305.77 1120.9 L1306.54 1121.46 L1307.31 1121.64 L1308.08 1121.27 L1308.85 1121.1 L1309.62 1120.35 L1310.38 1120.4 L1311.15 1121.09 L1311.92 1121.44 L1312.69 1122.15 L1313.46 1122.23 L1314.23 1121.44 L1315 1121.02 L1315.83 1120.84 L1316.67 1121.04 L1317.5 1121.43 L1318.33 1122.01 L1319.17 1122.79 L1320 1122.11 L1320.83 1121.3 L1321.67 1121.59 L1322.5 1121.36 L1323.33 1122.06 L1324.17 1122.25 L1325 1123.12 L1325.83 1123.05 L1326.67 1122.19 L1327.5 1120.95 L1328.25 1120.74 L1329 1120.91 L1329.75 1121.43 L1330.5 1122.03 L1331.25 1121.83 L1332 1121.5 L1332.75 1120.57 L1333.5 1120.1 L1334.28 1119.23 L1335.06 1119.27 L1335.83 1119.42 L1336.61 1120.55 L1337.39 1120.02 L1338.17 1119.74 L1338.94 1118.88 L1339.72 1117.47 L1340.5 1117.39 L1341.25 1117.67 L1342 1117.56 L1342.75 1118.32 L1343.5 1118.45 L1344.25 1117.84 L1345 1116.82 L1345.75 1116.09 L1346.5 1115.7 L1347.25 1115.48 L1348 1116.12 L1348.8 1116.62 L1349.6 1116.73 L1350.4 1115.97 L1351.2 1114.84 L1352 1114.02 L1352.8 1113.72 L1353.6 1114.13 L1354.4 1114.19 L1355.2 1114.8 L1356 1114.55 L1356.8 1114.23 L1357.6 1113.01 L1358.4 1112.86 L1359.2 1111.99 L1360 1112.6 L1360.8 1113.47 L1361.6 1113.78 L1362.4 1113.05 L1363.2 1112.74 L1364 1111.78 L1364.8 1110.96 L1365.6 1110.79 L1366.4 1111.12 L1367.2 1112.03 L1368 1111.5 L1368.8 1111.49 L1369.6 1110.22 L1370.4 1109.37 L1371.2 1109.43 L1372 1109.46 L1372.72 1109.53 L1373.44 1109.87 L1374.17 1110.32 L1374.89 1109.36 L1375.61 1108.81 L1376.33 1107.79 L1377.06 1106.71 L1377.78 1106.96 L1378.5 1107.5 L1379.21 1107.37 L1379.93 1107.19 L1380.64 1107.44 L1381.36 1105.9 L1382.07 1105.12 L1382.79 1104.05 L1383.5 1104.09 L1384.21 1103.36 L1384.93 1103.36 L1385.64 1103.98 L1386.36 1103.71 L1387.07 1103.06 L1387.79 1101.33 L1388.5 1100.33 L1389.12 1099.9 L1389.75 1099.38 L1390.38 1099.22 L1391 1099.36 L1391.62 1099.33 L1392.25 1099.46 L1392.88 1098.62 L1393.5 1097.64 L1394.14 1096.74 L1394.79 1096.44 L1395.43 1095.85 L1396.07 1095.42 L1396.71 1095.96 L1397.36 1095.48 L1398 1095.84 L1398.8 1095.96 L1399.6 1094.3 L1400.4 1093.3 L1401.2 1092.78 L1402 1092.39 L1402.88 1092.61 L1403.75 1093.86 L1404.62 1093.89 L1405.5 1093.11 L1406.25 1092.37 L1407 1092 L1407.75 1091.89 L1408.5 1092.39 L1409.33 1093.29 L1410.17 1094.7 L1411 1094.85 L1411.5 1094.82 L1412 1095.21 L1412.5 1095.43 L1413 1095.31 L1413.5 1095.64 L1414 1096.56 L1414.5 1097.64 L1415 1098.28 L1415.4 1099.98 L1415.8 1100.59 L1416.2 1101.55 L1416.6 1102.46 L1417 1103.35 L1417.42 1103.26 L1417.83 1103.59 L1418.25 1104.11 L1418.67 1103.94 L1419.08 1104.64 L1419.5 1104.8 L1420 1105.52 L1420.5 1106.55 L1421 1108.08 L1421.5 1108.95 L1422 1109.73 L1422.5 1110.97 L1423 1111.44 L1423.5 1111.33 L1424 1111.89 L1424.5 1112.21 L1425 1112.43 L1425.5 1112.84 L1426.1 1112.44 L1426.7 1113.67 L1427.3 1114.55 L1427.9 1115.64 L1428.5 1116.85 L1429.2 1116.91 L1429.9 1116.97 L1430.6 1116.89 L1431.3 1116.79 L1432 1116.68 L1432.8 1117.13 L1433.6 1117.63 L1434.4 1118.71 L1435.2 1118.91 L1436 1119.23 L1436.75 1118.51 L1437.5 1117.51 L1438.25 1117.81 L1439 1118.48 L1439.75 1119.16 L1440.5 1119.36 L1441.33 1119.43 L1442.17 1119.04 L1443 1118.11 L1443.83 1118 L1444.67 1117.86 L1445.5 1118.42 L1446.29 1119.02 L1447.07 1118.4 L1447.86 1118.79 L1448.64 1117.45 L1449.43 1116.49 L1450.21 1116.29 L1451 1116.15 L1451.75 1116.32 L1452.5 1117.37 L1453.25 1116.69 L1454 1116.12 L1454.75 1115.52 L1455.5 1114.98 L1456.25 1114.36 L1457 1113.94 L1457.73 1114.09 L1458.45 1114.13 L1459.18 1114.75 L1459.91 1114.27 L1460.64 1112.91 L1461.36 1112.3 L1462.09 1111.68 L1462.82 1110.82 L1463.55 1110.78 L1464.27 1111.53 L1465 1111.58 L1465.71 1111.07 L1466.43 1109.96 L1467.14 1109.21 L1467.86 1108.56 L1468.57 1107.45 L1469.29 1107.53 L1470 1107.95 L1470.71 1107.78 L1471.43 1107.52 L1472.14 1107.49 L1472.86 1106.58 L1473.57 1105.45 L1474.29 1104.85 L1475 1103.93 L1475.71 1104.11 L1476.43 1104.33 L1477.14 1104.86 L1477.86 1104.17 L1478.57 1103.41 L1479.29 1102.54 L1480 1101.99 L1480.71 1101.28 L1481.43 1100.6 L1482.14 1101.36 L1482.86 1101.78 L1483.57 1101.21 L1484.29 1101.18 L1485 1100.24 L1485.71 1099.2 L1486.43 1098.06 L1487.14 1097.47 L1487.86 1098.32 L1488.57 1098.15 L1489.29 1098.82 L1490 1098.72 L1490.71 1098.12 L1491.43 1097.09 L1492.14 1096.15 L1492.86 1095.61 L1493.57 1095.56 L1494.29 1095.75 L1495 1096.04 L1495.71 1095.55 L1496.43 1095.67 L1497.14 1094.07 L1497.86 1093.11 L1498.57 1092.83 L1499.29 1092.06 L1500 1092.39 L1500.71 1092.06 L1501.43 1092 L1502.14 1091.91 L1502.86 1091.93 L1503.57 1090.89 L1504.29 1089.53 L1505 1089 L1505.67 1088.11 L1506.33 1088.94 L1507 1088.53 L1507.67 1088.5 L1508.33 1088.47 L1509 1087.76 L1509.67 1086.78 L1510.33 1085.97 L1511 1084.7 L1511.67 1084.85 L1512.33 1084.41 L1513 1084.64 L1513.67 1085.17 L1514.33 1084.8 L1515 1084.15 L1515.67 1083.28 L1516.33 1081.95 L1517 1081.08 L1517.67 1080.81 L1518.33 1081.07 L1519 1080.65 L1519.67 1081.27 L1520.33 1080.92 L1521 1080.8 L1521.67 1079.7 L1522.33 1078.88 L1523 1077.58 L1523.67 1077.13 L1524.33 1076.85 L1525 1076.99 L1525.71 1077.29 L1526.43 1077.1 L1527.14 1076.91 L1527.86 1075.92 L1528.57 1075.04 L1529.29 1074.26 L1530 1074.11 L1530.71 1073.78 L1531.43 1074.12 L1532.14 1074.14 L1532.86 1073.78 L1533.57 1072.9 L1534.29 1071.85 L1535 1070.91 L1535.71 1070.5 L1536.43 1070.34 L1537.14 1070.67 L1537.86 1071.04 L1538.57 1071.29 L1539.29 1070.44 L1540 1069.92 L1540.71 1068.31 L1541.43 1067.79 L1542.14 1067.42 L1542.86 1067.38 L1543.57 1067.68 L1544.29 1067.63 L1545 1068.07 L1545.71 1066.59 L1546.43 1066.31 L1547.14 1065.11 L1547.86 1064.43 L1548.57 1064.29 L1549.29 1065.12 L1550 1064.87 L1550.71 1065.13 L1551.43 1064.56 L1552.14 1063.96 L1552.86 1062.9 L1553.57 1062.1 L1554.29 1061.36 L1555 1061.38 L1555.73 1062.25 L1556.45 1061.87 L1557.18 1062.13 L1557.91 1061.24 L1558.64 1060.68 L1559.36 1059.38 L1560.09 1058.56 L1560.82 1058.57 L1561.55 1058.98 L1562.27 1059.55 L1563 1059.58 L1563.75 1059.14 L1564.5 1058.3 L1565.25 1056.9 L1566 1055.71 L1566.75 1056.03 L1567.5 1055.93 L1568.25 1056.45 L1569 1056.08 L1569.71 1055.8 L1570.43 1054.78 L1571.14 1054.13 L1571.86 1053.51 L1572.57 1052.56 L1573.29 1052.69 L1574 1053.06 L1574.67 1053.27 L1575.33 1052.69 L1576 1051.98 L1576.67 1051.39 L1577.33 1050.07 L1578 1049.41 L1578.64 1049.11 L1579.29 1048.98 L1579.93 1049.52 L1580.57 1049.12 L1581.21 1048.91 L1581.86 1048.62 L1582.5 1048.26 L1583.21 1047.15 L1583.93 1045.49 L1584.64 1045.03 L1585.36 1044.99 L1586.07 1045.67 L1586.79 1045.75 L1587.5 1045.1 L1588.21 1045.11 L1588.93 1044.27 L1589.64 1043.26 L1590.36 1042.14 L1591.07 1042.32 L1591.79 1041.98 L1592.5 1042.9 L1593.21 1042.4 L1593.93 1042.42 L1594.64 1041.69 L1595.36 1041.28 L1596.07 1040.44 L1596.79 1039.83 L1597.5 1039.89 L1598.25 1040.11 L1599 1040.79 L1599.75 1040.34 L1600.5 1040.48 L1601.25 1039.86 L1602 1038.58 L1602.75 1038.12 L1603.5 1038.27 L1604.25 1038.5 L1605 1039.43 L1605.77 1038.91 L1606.54 1038.75 L1607.31 1038.13 L1608.08 1037.35 L1608.85 1036.49 L1609.62 1036.4 L1610.38 1037.37 L1611.15 1037.33 L1611.92 1038.05 L1612.69 1036.88 L1613.46 1036.84 L1614.23 1035.96 L1615 1035.26 L1615.77 1035.7 L1616.54 1036.07 L1617.31 1036.42 L1618.08 1036.09 L1618.85 1035.45 L1619.62 1034.64 L1620.38 1033.81 L1621.15 1033.93 L1621.92 1034.09 L1622.69 1034.79 L1623.46 1034.71 L1624.23 1034.71 L1625 1034.63 L1625.77 1033.71 L1626.54 1033.08 L1627.31 1031.84 L1628.08 1032.85 L1628.85 1032.85 L1629.62 1033.59 L1630.38 1033.03 L1631.15 1032.77 L1631.92 1032.09 L1632.69 1031.28 L1633.46 1030.93 L1634.23 1030.57 L1635 1031.81 L1635.77 1031.43 L1636.54 1032.07 L1637.31 1031.27 L1638.08 1030.46 L1638.85 1029.36 L1639.62 1029.6 L1640.38 1029.82 L1641.15 1029.87 L1641.92 1030.86 L1642.69 1030.31 L1643.46 1030.1 L1644.23 1028.68 L1645 1028.09 L1645.77 1027.73 L1646.54 1027.86 L1647.31 1028.5 L1648.08 1028.88 L1648.85 1029.1 L1649.62 1028.45 L1650.38 1027.26 L1651.15 1027.33 L1651.92 1026.89 L1652.69 1027.11 L1653.46 1027.43 L1654.23 1027.91 L1655 1028.2 L1655.77 1027.14 L1656.54 1026.38 L1657.31 1026.14 L1658.08 1025.55 L1658.85 1026.32 L1659.62 1026.18 L1660.38 1027.09 L1661.15 1026.4 L1661.92 1025.88 L1662.69 1024.88 L1663.46 1025.01 L1664.23 1024.94 L1665 1025.24 L1665.77 1025.55 L1666.54 1025.53 L1667.31 1025.71 L1668.08 1025.4 L1668.85 1024.43 L1669.62 1023.24 L1670.38 1024.1 L1671.15 1024.5 L1671.92 1024.75 L1672.69 1024.54 L1673.46 1024.94 L1674.23 1024.18 L1675 1022.82 L1675.77 1022.7 L1676.54 1022.33 L1677.31 1022.83 L1678.08 1023.95 L1678.85 1024.3 L1679.62 1023.64 L1680.38 1022.79 L1681.15 1022.1 L1681.92 1021.58 L1682.69 1021.92 L1683.46 1022.15 L1684.23 1023.28 L1685 1022.71 L1685.77 1022.6 L1686.54 1022.23 L1687.31 1021.29 L1688.08 1020.52 L1688.85 1020.88 L1689.62 1021.28 L1690.38 1022.29 L1691.15 1021.99 L1691.92 1022.01 L1692.69 1021.31 L1693.46 1020.3 L1694.23 1019.56 L1695 1020.12 L1695.77 1020.27 L1696.54 1020.93 L1697.31 1021.72 L1698.08 1020.69 L1698.85 1020.65 L1699.62 1019.18 L1700.38 1018.7 L1701.15 1018.87 L1701.92 1020.14 L1702.69 1020.72 L1703.46 1020.3 L1704.23 1019.97 L1705 1019.21 L1705.77 1018.76 L1706.54 1018.14 L1707.31 1018.51 L1708.08 1019.24 L1708.85 1019.42 L1709.62 1019.41 L1710.38 1019.46 L1711.15 1018.7 L1711.92 1017.42 L1712.69 1017.52 L1713.46 1018.15 L1714.23 1018.5 L1715 1019.08 L1715.77 1019.44 L1716.54 1018.31 L1717.31 1017.73 L1718.08 1016.84 L1718.85 1017.29 L1719.62 1017.31 L1720.38 1018.17 L1721.15 1018.47 L1721.92 1018.24 L1722.69 1018.11 L1723.46 1016.95 L1724.23 1016.52 L1725 1016.44 L1725.77 1016.92 L1726.54 1017.07 L1727.31 1018.02 L1728.08 1017.86 L1728.85 1017.45 L1729.62 1016.22 L1730.38 1016.01 L1731.15 1015.48 L1731.92 1016.34 L1732.69 1017.11 L1733.46 1017.22 L1734.23 1017.26 L1735 1016.91 L1735.77 1016.11 L1736.54 1015.92 L1737.31 1015.71 L1738.08 1015.99 L1738.85 1016.33 L1739.62 1016.52 L1740.38 1017.05 L1741.15 1016.11 L1741.92 1015.8 L1742.69 1015.21 L1743.46 1015.34 L1744.23 1015.07 L1745 1016.09 L1745.77 1016.41 L1746.54 1016.35 L1747.31 1015.73 L1748.08 1015.51 L1748.85 1014.67 L1749.62 1014.76 L1750.38 1014.85 L1751.15 1015.9 L1751.92 1016.38 L1752.69 1015.82 L1753.46 1015.45 L1754.23 1014.65 L1755 1014.43 L1755.77 1014.05 L1756.54 1015.38 L1757.31 1015.51 L1758.08 1016.38 L1758.85 1015.45 L1759.62 1015.51 L1760.38 1014.92 L1761.15 1014.07 L1761.92 1014.1 L1762.69 1014.86 L1763.46 1015.23 L1764.23 1015.53 L1765 1015.97 L1765.77 1015.12 L1766.54 1014.29 L1767.31 1013.86 L1768.08 1014.29 L1768.85 1014.81 L1769.62 1015.05 L1770.38 1015.41 L1771.15 1015.3 L1771.92 1014.36 L1772.69 1013.99 L1773.46 1013.36 L1774.23 1014.02 L1775 1014.31 L1775.83 1014.98 L1776.65 1015.14 L1777.48 1014.82 L1778.31 1014.05 L1779.13 1014 L1779.96 1013.49 L1780.79 1014.03 L1781.62 1014.55 L1782.44 1015.58 L1783.27 1015.13 L1784.1 1014.1 L1784.92 1013.81 L1785.75 1012.85 L1786.57 1014 L1787.39 1014.45 L1788.21 1014.58 L1789.04 1014.9 L1789.86 1014.86 L1790.68 1013.98 L1791.5 1013.42 L1792.32 1013.24 L1793.14 1013.43 L1793.96 1014.54 L1794.79 1014.85 L1795.61 1014.23 L1796.43 1013.45 L1797.25 1013.16 L1798.04 1013.25 L1798.83 1013.02 L1799.62 1013.96 L1800.41 1014.07 L1801.2 1014.9 L1801.99 1014.49 L1802.78 1013.23 L1803.57 1013.01 L1804.36 1012.92 L1805.14 1013.07 L1805.93 1014.16 L1806.72 1013.91 L1807.51 1014.1 L1808.3 1013.41 L1809.09 1013.31 L1809.88 1012.74 L1810.67 1012.33 L1811.46 1013.26 L1812.25 1013.81 L1813.04 1014.23 L1813.83 1013.92 L1814.62 1013.42 L1815.41 1012.7 L1816.2 1012.12 L1816.99 1012.37 L1817.78 1012.81 L1818.57 1013.86 L1819.36 1014.27 L1820.14 1013.41 L1820.93 1013.03 L1821.72 1012.2 L1822.51 1011.8 L1823.3 1012.04 L1824.09 1012.69 L1824.88 1013.88 L1825.67 1013.42 L1826.46 1013.09 L1827.25 1012.56 L1828.05 1011.71 L1828.84 1012.01 L1829.64 1012.4 L1830.43 1012.86 L1831.23 1013.72 L1832.02 1013.58 L1832.82 1013.27 L1833.61 1011.98 L1834.41 1011.96 L1835.2 1011.96 L1836 1012.51 L1836.79 1012.69 L1837.59 1013.22 L1838.38 1013.05 L1839.18 1012.01 L1839.97 1011.38 L1840.77 1011.79 L1841.56 1011.47 L1842.36 1012.54 L1843.15 1012.83 L1843.95 1013.19 L1844.74 1012.62 L1845.54 1011.77 L1846.33 1011.37 L1847.13 1011.15 L1847.92 1012.22 L1848.72 1012.48 L1849.51 1012.63 L1850.31 1013.1 L1851.1 1011.99 L1851.9 1011.78 L1852.69 1011.38 L1853.49 1011.64 L1854.28 1011.87 L1855.08 1012.74 L1855.87 1013.07 L1856.67 1012.82 L1857.46 1011.94 L1858.26 1011.52 L1859.05 1011.13 L1859.85 1011.12 L1860.64 1011.77 L1861.44 1012.78 L1862.23 1012.97 L1863.03 1012.03 L1863.82 1011.79 L1864.62 1011.09 L1865.41 1010.94 L1866.21 1011.08 L1867 1011.72 L1867.8 1012.19 L1868.59 1012.47 L1869.39 1011.68 L1870.18 1010.73 L1870.98 1010.23 L1871.77 1010.95 L1872.57 1010.98 L1873.36 1011.62 L1874.16 1012.25 L1874.95 1011.56 L1875.75 1011.19 L1876.55 1010.32 L1877.35 1010.64 L1878.15 1010.68 L1878.95 1011.29 L1879.75 1011.85 L1880.55 1011.54 L1881.35 1011.83 L1882.15 1011.17 L1882.95 1009.76 L1883.75 1010.21 L1884.55 1010.9 L1885.35 1011.64 L1886.15 1012.18 L1886.95 1012.01 L1887.75 1011.37 L1888.55 1009.97 L1889.35 1010.34 L1890.15 1010.5 L1890.95 1010.81 L1891.75 1011.67 L1892.55 1011.35 L1893.35 1011.17 L1894.15 1010.17 L1894.95 1009.84 L1895.75 1010.11 L1896.55 1010.23 L1897.35 1010.69 L1898.15 1011.1 L1898.95 1011.03 L1899.75 1010.71 L1900.55 1009.83 L1901.35 1009.49 L1902.15 1009.59 L1902.95 1009.98 L1903.75 1010.83 L1904.55 1011.05 L1905.35 1010.93 L1906.15 1010.26 L1906.95 1009.87 L1907.75 1009.58 L1908.55 1009.54 L1909.35 1010.34 L1910.15 1010.55 L1910.95 1010.6 L1911.75 1010.33 L1912.55 1009.44 L1913.35 1009.39 L1914.15 1009.4 L1914.95 1009.59 L1915.75 1009.9 L1916.55 1010.31 L1917.35 1010.84 L1918.15 1010.09 L1918.95 1008.96 L1919.75 1009.26 L1920.55 1009.14 L1921.35 1009.91 L1922.15 1010.6 L1922.95 1010.73 L1923.75 1010.59 L1924.55 1009.92 L1925.35 1008.52 L1926.15 1008.42 L1926.95 1008.91 L1927.75 1009.66 L1928.55 1009.81 L1929.35 1010.01 L1930.15 1010 L1930.95 1009.43 L1931.75 1008.42 L1932.55 1008.78 L1933.35 1009.22 L1934.15 1009.93 L1934.96 1009.72 L1935.76 1009.77 L1936.56 1009.39 L1937.37 1008.79 L1938.17 1008.42 L1938.98 1007.96 L1939.78 1009.09 L1940.58 1009.14 L1941.39 1009.61 L1942.19 1009.02 L1942.99 1008.7 L1943.8 1007.71 L1944.6 1008.03 L1945.4 1008.21 L1946.21 1009.26 L1947.01 1009.33 L1947.82 1009.91 L1948.62 1008.56 L1949.42 1007.78 L1950.23 1007.67 L1951.03 1007.76 L1951.83 1008.64 L1952.64 1008.57 L1953.44 1009.03 L1954.24 1008.82 L1955.05 1008.3 L1955.85 1007.95 L1956.65 1007.54 L1957.46 1007.47 L1958.26 1008.28 L1959.07 1009.19 L1959.87 1009.09 L1960.67 1008.21 L1961.48 1007.68 L1962.28 1006.82 L1963.08 1007.18 L1963.89 1007.48 L1964.69 1008.24 L1965.49 1008.68 L1966.3 1008.99 L1967.1 1007.65 L1967.91 1006.92 L1968.71 1006.59 L1969.51 1007.07 L1970.32 1007.72 L1971.12 1008.79 L1971.92 1008.8 L1972.73 1008 L1973.53 1007.14 L1974.33 1006.88 L1975.14 1007 L1975.94 1006.88 L1976.75 1008.06 L1977.55 1008.19 L1978.35 1008.67 L1979.16 1008.09 L1979.96 1006.64 L1980.76 1006.75 L1981.57 1006.66 L1982.37 1007.07 L1983.17 1007.85 L1983.98 1008.49 L1984.78 1007.82 L1985.58 1007.19 L1986.39 1006.44 L1987.19 1005.78 L1988 1006.78 L1988.8 1006.87 L1989.6 1008.14 L1990.41 1007.39 L1991.21 1007.4 L1992.01 1006.36 L1992.82 1006.21 L1993.62 1006.16 L1994.42 1006.79 L1995.23 1007.54 L1996.03 1008.08 L1996.84 1007.11 L1997.64 1006.55 L1998.44 1006.06 L1999.25 1006.12 L2000.05 1005.88 L2000.84 1006.35 L2001.64 1007.24 L2002.43 1007.24 L2003.23 1006.64 L2004.02 1006.56 L2004.81 1005.62 L2005.61 1005.82 L2006.4 1005.55 L2007.2 1006.45 L2007.99 1006.76 L2008.78 1007.41 L2009.58 1006.52 L2010.37 1005.91 L2011.17 1004.91 L2011.96 1005.29 L2012.75 1005.78 L2013.55 1006.74 L2014.34 1006.69 L2015.14 1007.17 L2015.93 1005.94 L2016.73 1005.39 L2017.52 1004.99 L2018.31 1005.09 L2019.11 1005.47 L2019.9 1006.07 L2020.7 1007.07 L2021.49 1006.76 L2022.28 1005.71 L2023.08 1004.64 L2023.87 1004.51 L2024.67 1005.01 L2025.46 1005.43 L2026.25 1006.23 L2027.05 1006.2 L2027.84 1005.73 L2028.64 1005.44 L2029.43 1004.66 L2030.22 1005.07 L2031.02 1004.96 L2031.81 1005.43 L2032.61 1006.44 L2033.4 1006.25" fill="none" stroke="#00ff00" stroke-width="6.7" stroke-linejoin="round" clip-path="url(#c2)" />
<text x="260.8" y="1208.6" text-anchor="middle" font-size="50.0" fill="#262626">0</text>
<text x="556.27" y="1208.6" text-anchor="middle" font-size="50.0" fill="#262626">1</text>
<text x="851.73" y="1208.6" text-anchor="middle" font-size="50.0" fill="#262626">2</text>
<text x="1147.2" y="1208.6" text-anchor="middle" font-size="50.0" fill="#262626">3</text>
<text x="1442.67" y="1208.6" text-anchor="middle" font-size="50.0" fill="#262626">4</text>
<text x="1738.13" y="1208.6" text-anchor="middle" font-size="50.0" fill="#262626">5</text>
<text x="2033.6" y="1208.6" text-anchor="middle" font-size="50.0" fill="#262626">6</text>
<text x="1147.5" y="1280" text-anchor="middle" font-size="55.6" fill="#262626"><tspan font-style="italic">t</tspan> (s)</text>
<text transform="translate(70 271.15) rotate(-90)" text-anchor="middle" font-size="55.6" fill="#262626"><tspan font-style="italic">s</tspan><tspan font-style="italic" font-size="44.48" dy="26">x,i</tspan><tspan dy="-26" dx="-1.3"> (-)</tspan></text>
<text transform="translate(70 641.75) rotate(-90)" text-anchor="middle" font-size="55.6" fill="#262626"><tspan font-style="italic">s</tspan><tspan font-style="italic" font-size="44.48" dy="26">y,i</tspan><tspan dy="-26" dx="1.5"> (-)</tspan></text>
<text transform="translate(70 1119.1) rotate(-90) scale(1.12 1)" font-size="46.5" font-style="italic" fill="#262626" stroke="#262626" stroke-width="1.1" stroke-linejoin="round" style="font-family:'DejaVu Sans Light','DejaVu Sans',sans-serif">μ</text>
<text transform="translate(70 1084.5) rotate(-90)" font-size="55.6" fill="#262626"><tspan font-style="italic" font-size="44.48" dy="26">road,i</tspan><tspan dy="-26"> (-)</tspan></text>
<rect x="267" y="43" width="1421" height="88.3" fill="#fff" stroke="#363636" stroke-width="2.6"/>
<path d="M282.4 86.95H427.4" stroke="#999999" stroke-width="7.7" stroke-dasharray="29.2 28.4" fill="none"/>
<text y="95.95" font-size="46.4" fill="#000"><tspan x="445.5" font-style="italic">s</tspan><tspan x="468.1" y="117.65" font-style="italic" font-size="35.7">x,fl</tspan><tspan x="525.3" y="95.95">Ref.</tspan></text>
<path d="M639 86.95H789" stroke="#000000" stroke-width="2.7" fill="none"/>
<text y="95.95" font-size="46.4" fill="#000"><tspan x="801.2" font-style="italic">s</tspan><tspan x="824.1" y="117.65" font-style="italic" font-size="35.7">x,fl</tspan><tspan x="880.4" y="95.95">Est.</tspan></text>
<path d="M992 86.95H1137" stroke="#ff9999" stroke-width="7.7" stroke-dasharray="29.2 28.4" fill="none"/>
<text y="95.95" font-size="46.4" fill="#000"><tspan x="1153.3" font-style="italic">s</tspan><tspan x="1175.8" y="117.65" font-style="italic" font-size="35.7">x,rl</tspan><tspan x="1233" y="95.95">Ref.</tspan></text>
<path d="M1350 86.95H1499" stroke="#ff0000" stroke-width="2.7" fill="none"/>
<text y="95.95" font-size="46.4" fill="#000"><tspan x="1512" font-style="italic">s</tspan><tspan x="1534.8" y="117.65" font-style="italic" font-size="35.7">x,rl</tspan><tspan x="1592.1" y="95.95">Est.</tspan></text>
<rect x="267" y="413" width="1439" height="88" fill="#fff" stroke="#363636" stroke-width="2.6"/>
<path d="M282.4 456.8H427.4" stroke="#9999ff" stroke-width="7.7" stroke-dasharray="29.2 28.4" fill="none"/>
<text y="465.8" font-size="46.4" fill="#000"><tspan x="445.6" font-style="italic">s</tspan><tspan x="466.7" y="487.5" font-style="italic" font-size="35.7">y,fl</tspan><tspan x="524.5" y="465.8">Ref.</tspan></text>
<path d="M639 456.8H789" stroke="#0000ff" stroke-width="2.7" fill="none"/>
<text y="465.8" font-size="46.4" fill="#000"><tspan x="802.5" font-style="italic">s</tspan><tspan x="823.6" y="487.5" font-style="italic" font-size="35.7">y,fl</tspan><tspan x="881.4" y="465.8">Est.</tspan></text>
<path d="M992 456.8H1137" stroke="#ff99ff" stroke-width="7.7" stroke-dasharray="29.2 28.4" fill="none"/>
<text y="465.8" font-size="46.4" fill="#000"><tspan x="1153.8" font-style="italic">s</tspan><tspan x="1175.3" y="487.5" font-style="italic" font-size="35.7">ys,rl</tspan><tspan x="1250.3" y="465.8">Ref.</tspan></text>
<path d="M1368 456.8H1517" stroke="#ff00ff" stroke-width="2.7" fill="none"/>
<text y="465.8" font-size="46.4" fill="#000"><tspan x="1529.5" font-style="italic">s</tspan><tspan x="1552.8" y="487.5" font-style="italic" font-size="35.7">y,rl</tspan><tspan x="1608.6" y="465.8">Est.</tspan></text>
<rect x="267" y="781.5" width="823" height="88" fill="#fff" stroke="#363636" stroke-width="2.6"/>
<path d="M282.4 825.3H432.4" stroke="#ff9900" stroke-width="7.7" fill="none"/>
<text transform="translate(442.5 833.4) scale(1.12 1)" font-size="39.9" font-style="italic" style="font-family:'DejaVu Sans Light','DejaVu Sans',sans-serif" fill="#000" stroke="#000" stroke-width="0.9" stroke-linejoin="round">μ</text>
<text y="833.4" font-size="46.4" fill="#000"><tspan x="472.6" y="854.1" font-style="italic" font-size="35.7">road,fl</tspan><tspan x="584" y="833.4">Est.</tspan></text>
<path d="M693 825.3H843" stroke="#00ff00" stroke-width="7.7" fill="none"/>
<text transform="translate(852.5 833.4) scale(1.12 1)" font-size="39.9" font-style="italic" style="font-family:'DejaVu Sans Light','DejaVu Sans',sans-serif" fill="#000" stroke="#000" stroke-width="0.9" stroke-linejoin="round">μ</text>
<text y="833.4" font-size="46.4" fill="#000"><tspan x="882.6" y="854.1" font-style="italic" font-size="35.7">road,rl</tspan><tspan x="995.5" y="833.4">Est.</tspan></text>
</svg>
</body></html>
